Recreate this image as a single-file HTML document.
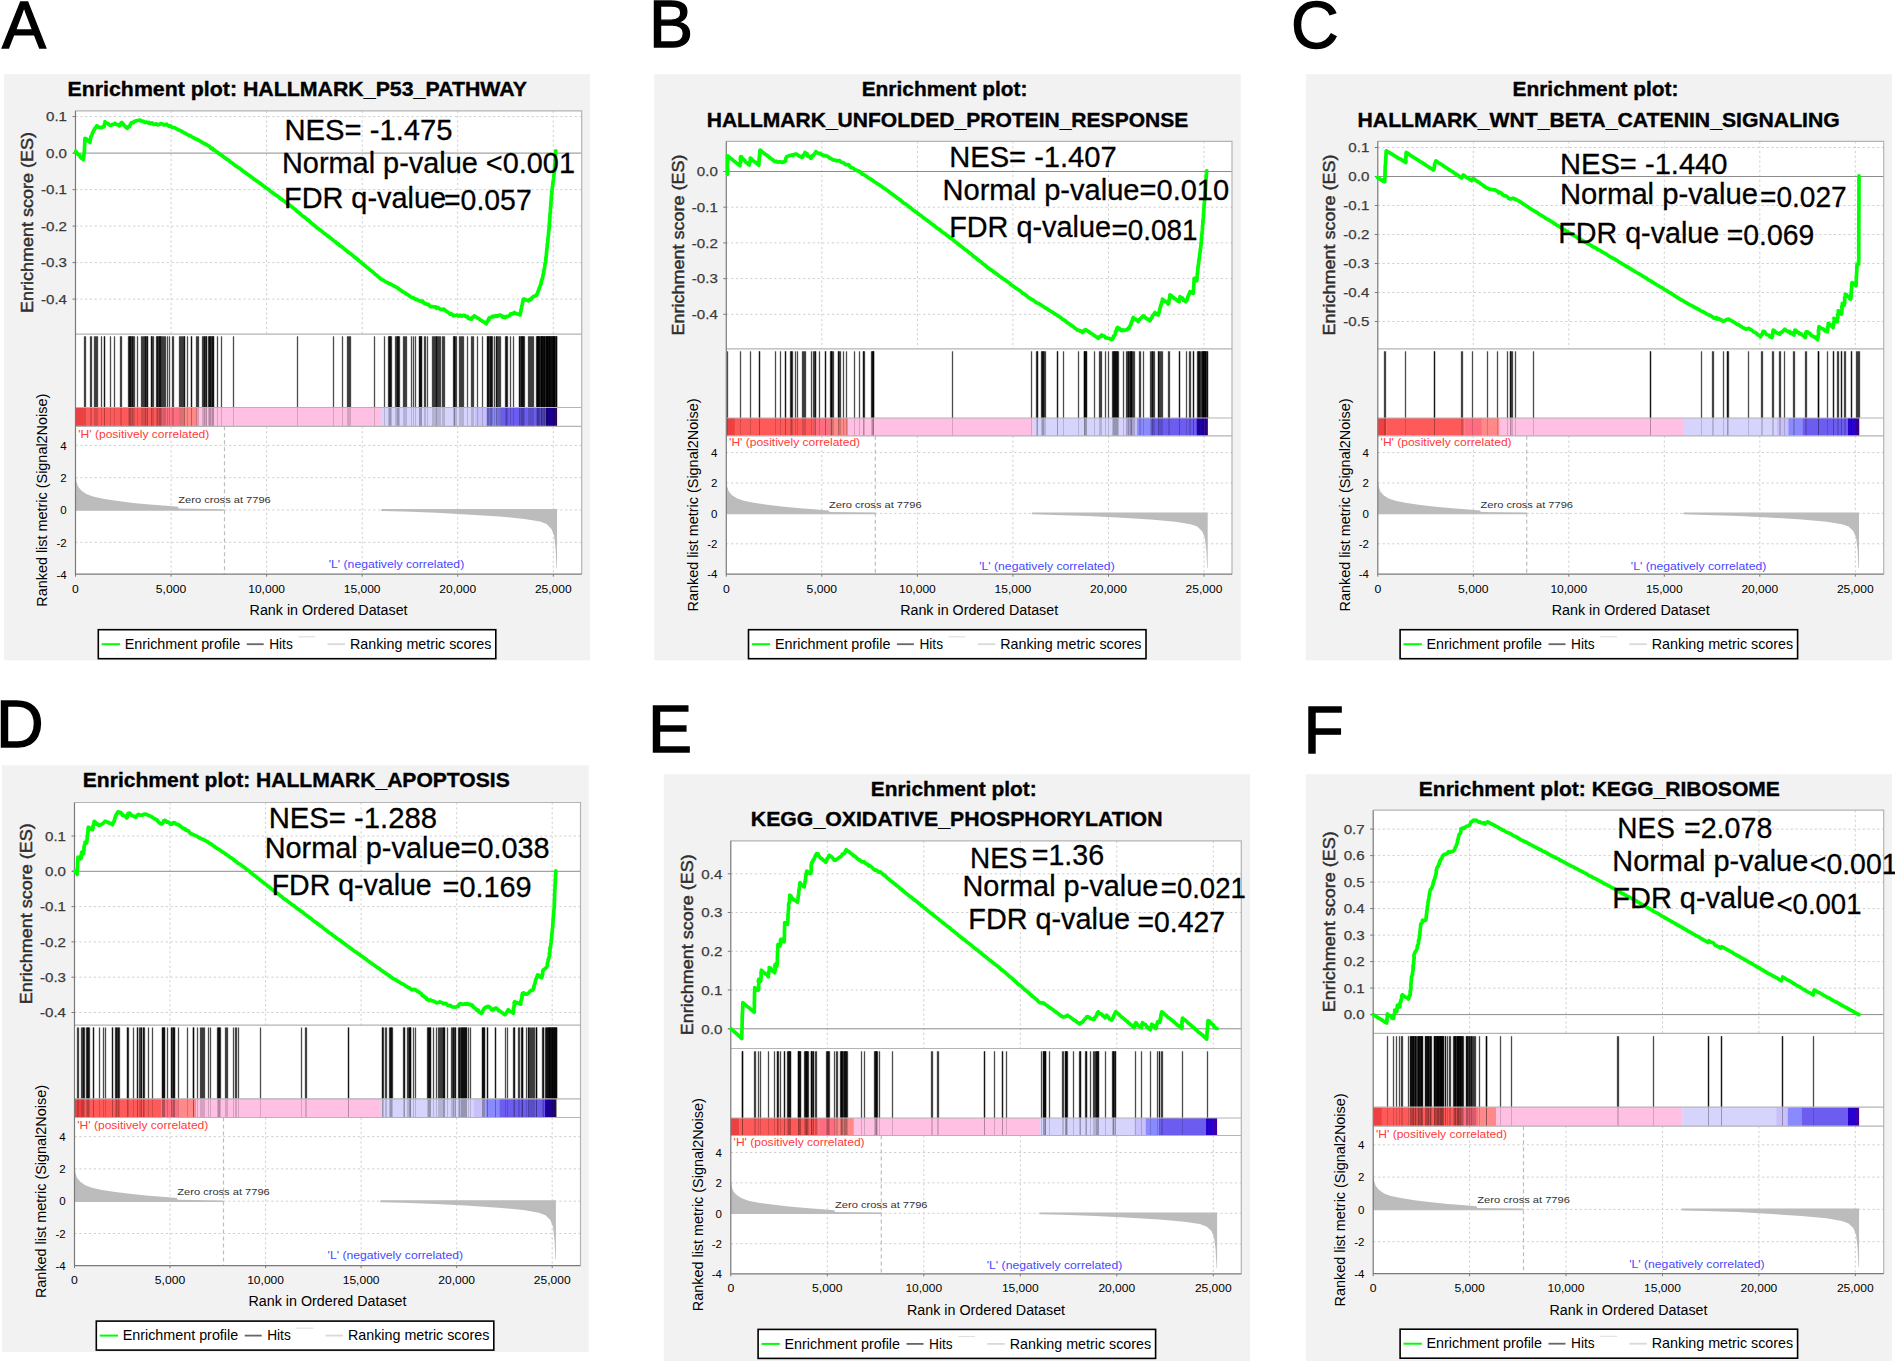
<!DOCTYPE html>
<html><head><meta charset="utf-8"><title>GSEA enrichment plots</title>
<style>html,body{margin:0;padding:0;background:#fff}svg{display:block}text{font-family:"Liberation Sans", Arial, sans-serif}</style></head><body>
<svg width="1895" height="1361" viewBox="0 0 1895 1361">
<rect width="1895" height="1361" fill="#fff"/>
<g>
<rect x="4" y="74" width="586.0" height="586.3" fill="#f2f2f2"/>
<rect x="75.5" y="110.8" width="506.2" height="463.4" fill="#fff"/>
<path d="M171.1 110.8V334.2M171.1 426.3V574.2M266.6 110.8V334.2M266.6 426.3V574.2M362.2 110.8V334.2M362.2 426.3V574.2M457.7 110.8V334.2M457.7 426.3V574.2M553.3 110.8V334.2M553.3 426.3V574.2M75.5 116.6H581.7M75.5 189.6H581.7M75.5 226.1H581.7M75.5 262.6H581.7M75.5 299.1H581.7M75.5 445.4H581.7M75.5 477.7H581.7M75.5 510.0H581.7M75.5 542.3H581.7" stroke="#cfcfcf" stroke-width="1" stroke-dasharray="2.2 2.6" fill="none"/>
<path d="M224.5 426.3V574.2" stroke="#bdbdbd" stroke-width="1.2" stroke-dasharray="4 3" fill="none"/>
<path d="M73.0 153.1H581.7" stroke="#8c8c8c" stroke-width="1" fill="none"/>
<path d="M75.5 510.8L75.5 475.3L76.3 481.3L78.0 486.6L81.3 490.6L86.3 494.0L93.0 496.6L103.0 498.7L116.3 500.8L133.0 502.9L149.7 504.5L166.3 505.8L178.0 506.8L178.7 508.5L224.5 509.2L224.5 510.8Z" fill="#bcbcbc"/>
<path d="M381.3 509.1L381.3 511.0L404.2 511.6L436.7 512.7L466.3 514.4L499.8 516.5L524.6 518.9L539.9 521.5L546.6 524.1L551.4 528.9L554.1 535.5L555.6 548.8L556.5 568.1L557.0 568.1L557.0 509.1Z" fill="#bcbcbc"/>
<rect x="75.5" y="407.5" width="8.7" height="18.8" fill="#ee4040"/>
<rect x="83.9" y="407.5" width="78.5" height="18.8" fill="#ff5a5a"/>
<rect x="162.1" y="407.5" width="17.7" height="18.8" fill="#ff6e80"/>
<rect x="179.5" y="407.5" width="18.1" height="18.8" fill="#ff8888"/>
<rect x="197.2" y="407.5" width="184.9" height="18.8" fill="#ffc0e4"/>
<rect x="381.9" y="407.5" width="93.4" height="18.8" fill="#d6d4fc"/>
<rect x="474.9" y="407.5" width="11.8" height="18.8" fill="#c8c0f8"/>
<rect x="486.4" y="407.5" width="14.3" height="18.8" fill="#8a8aff"/>
<rect x="500.4" y="407.5" width="46.0" height="18.8" fill="#6c5cf0"/>
<rect x="546.0" y="407.5" width="8.1" height="18.8" fill="#2800d0"/>
<rect x="553.9" y="407.5" width="3.2" height="18.8" fill="#4000a8"/>
<g stroke="#000" stroke-opacity="0.7" stroke-width="1.3" fill="none"><path d="M84.5 336.3V407.5"/><path d="M85.5 336.3V407.5"/><path d="M90.5 336.3V407.5"/><path d="M91.5 336.3V407.5"/><path d="M94.5 336.3V407.5"/><path d="M95.5 336.3V407.5"/><path d="M96.5 336.3V407.5"/><path d="M97.5 336.3V407.5"/><path d="M101.5 336.3V407.5"/><path d="M104.5 336.3V407.5"/><path d="M104.5 336.3V407.5"/><path d="M110.5 336.3V407.5"/><path d="M114.5 336.3V407.5"/><path d="M120.5 336.3V407.5"/><path d="M121.5 336.3V407.5"/><path d="M128.5 336.3V407.5"/><path d="M129.5 336.3V407.5"/><path d="M129.5 336.3V407.5"/><path d="M130.5 336.3V407.5"/><path d="M130.5 336.3V407.5"/><path d="M131.5 336.3V407.5"/><path d="M132.5 336.3V407.5"/><path d="M132.5 336.3V407.5"/><path d="M133.5 336.3V407.5"/><path d="M134.5 336.3V407.5"/><path d="M137.5 336.3V407.5"/><path d="M141.5 336.3V407.5"/><path d="M142.5 336.3V407.5"/><path d="M143.5 336.3V407.5"/><path d="M144.5 336.3V407.5"/><path d="M145.5 336.3V407.5"/><path d="M145.5 336.3V407.5"/><path d="M146.5 336.3V407.5"/><path d="M147.5 336.3V407.5"/><path d="M147.5 336.3V407.5"/><path d="M151.5 336.3V407.5"/><path d="M151.5 336.3V407.5"/><path d="M152.5 336.3V407.5"/><path d="M153.5 336.3V407.5"/><path d="M156.5 336.3V407.5"/><path d="M157.5 336.3V407.5"/><path d="M157.5 336.3V407.5"/><path d="M158.5 336.3V407.5"/><path d="M159.5 336.3V407.5"/><path d="M159.5 336.3V407.5"/><path d="M160.5 336.3V407.5"/><path d="M160.5 336.3V407.5"/><path d="M161.5 336.3V407.5"/><path d="M162.5 336.3V407.5"/><path d="M163.5 336.3V407.5"/><path d="M164.5 336.3V407.5"/><path d="M165.5 336.3V407.5"/><path d="M167.5 336.3V407.5"/><path d="M169.5 336.3V407.5"/><path d="M172.5 336.3V407.5"/><path d="M173.5 336.3V407.5"/><path d="M179.5 336.3V407.5"/><path d="M180.5 336.3V407.5"/><path d="M181.5 336.3V407.5"/><path d="M182.5 336.3V407.5"/><path d="M183.5 336.3V407.5"/><path d="M184.5 336.3V407.5"/><path d="M184.5 336.3V407.5"/><path d="M187.5 336.3V407.5"/><path d="M191.5 336.3V407.5"/><path d="M191.5 336.3V407.5"/><path d="M196.5 336.3V407.5"/><path d="M197.5 336.3V407.5"/><path d="M198.5 336.3V407.5"/><path d="M202.5 336.3V407.5"/><path d="M203.5 336.3V407.5"/><path d="M204.5 336.3V407.5"/><path d="M204.5 336.3V407.5"/><path d="M205.5 336.3V407.5"/><path d="M206.5 336.3V407.5"/><path d="M206.5 336.3V407.5"/><path d="M208.5 336.3V407.5"/><path d="M209.5 336.3V407.5"/><path d="M209.5 336.3V407.5"/><path d="M210.5 336.3V407.5"/><path d="M210.5 336.3V407.5"/><path d="M211.5 336.3V407.5"/><path d="M212.5 336.3V407.5"/><path d="M212.5 336.3V407.5"/><path d="M213.5 336.3V407.5"/><path d="M213.5 336.3V407.5"/><path d="M217.5 336.3V407.5"/><path d="M221.5 336.3V407.5"/><path d="M233.5 336.3V407.5"/><path d="M297.5 336.3V407.5"/><path d="M333.5 336.3V407.5"/><path d="M342.5 336.3V407.5"/><path d="M347.5 336.3V407.5"/><path d="M348.5 336.3V407.5"/><path d="M349.5 336.3V407.5"/><path d="M350.5 336.3V407.5"/><path d="M374.5 336.3V407.5"/><path d="M384.5 336.3V407.5"/><path d="M388.5 336.3V407.5"/><path d="M389.5 336.3V407.5"/><path d="M389.5 336.3V407.5"/><path d="M390.5 336.3V407.5"/><path d="M390.5 336.3V407.5"/><path d="M391.5 336.3V407.5"/><path d="M395.5 336.3V407.5"/><path d="M396.5 336.3V407.5"/><path d="M397.5 336.3V407.5"/><path d="M397.5 336.3V407.5"/><path d="M398.5 336.3V407.5"/><path d="M398.5 336.3V407.5"/><path d="M399.5 336.3V407.5"/><path d="M403.5 336.3V407.5"/><path d="M404.5 336.3V407.5"/><path d="M405.5 336.3V407.5"/><path d="M406.5 336.3V407.5"/><path d="M411.5 336.3V407.5"/><path d="M413.5 336.3V407.5"/><path d="M415.5 336.3V407.5"/><path d="M419.5 336.3V407.5"/><path d="M419.5 336.3V407.5"/><path d="M420.5 336.3V407.5"/><path d="M420.5 336.3V407.5"/><path d="M421.5 336.3V407.5"/><path d="M421.5 336.3V407.5"/><path d="M424.5 336.3V407.5"/><path d="M425.5 336.3V407.5"/><path d="M427.5 336.3V407.5"/><path d="M432.5 336.3V407.5"/><path d="M433.5 336.3V407.5"/><path d="M434.5 336.3V407.5"/><path d="M435.5 336.3V407.5"/><path d="M436.5 336.3V407.5"/><path d="M436.5 336.3V407.5"/><path d="M437.5 336.3V407.5"/><path d="M438.5 336.3V407.5"/><path d="M439.5 336.3V407.5"/><path d="M440.5 336.3V407.5"/><path d="M442.5 336.3V407.5"/><path d="M443.5 336.3V407.5"/><path d="M444.5 336.3V407.5"/><path d="M453.5 336.3V407.5"/><path d="M454.5 336.3V407.5"/><path d="M454.5 336.3V407.5"/><path d="M454.5 336.3V407.5"/><path d="M455.5 336.3V407.5"/><path d="M456.5 336.3V407.5"/><path d="M459.5 336.3V407.5"/><path d="M460.5 336.3V407.5"/><path d="M461.5 336.3V407.5"/><path d="M462.5 336.3V407.5"/><path d="M463.5 336.3V407.5"/><path d="M467.5 336.3V407.5"/><path d="M471.5 336.3V407.5"/><path d="M472.5 336.3V407.5"/><path d="M473.5 336.3V407.5"/><path d="M477.5 336.3V407.5"/><path d="M482.5 336.3V407.5"/><path d="M487.5 336.3V407.5"/><path d="M487.5 336.3V407.5"/><path d="M488.5 336.3V407.5"/><path d="M488.5 336.3V407.5"/><path d="M489.5 336.3V407.5"/><path d="M490.5 336.3V407.5"/><path d="M490.5 336.3V407.5"/><path d="M491.5 336.3V407.5"/><path d="M491.5 336.3V407.5"/><path d="M492.5 336.3V407.5"/><path d="M494.5 336.3V407.5"/><path d="M496.5 336.3V407.5"/><path d="M496.5 336.3V407.5"/><path d="M497.5 336.3V407.5"/><path d="M498.5 336.3V407.5"/><path d="M499.5 336.3V407.5"/><path d="M500.5 336.3V407.5"/><path d="M505.5 336.3V407.5"/><path d="M506.5 336.3V407.5"/><path d="M506.5 336.3V407.5"/><path d="M507.5 336.3V407.5"/><path d="M510.5 336.3V407.5"/><path d="M513.5 336.3V407.5"/><path d="M519.5 336.3V407.5"/><path d="M519.5 336.3V407.5"/><path d="M520.5 336.3V407.5"/><path d="M521.5 336.3V407.5"/><path d="M521.5 336.3V407.5"/><path d="M522.5 336.3V407.5"/><path d="M522.5 336.3V407.5"/><path d="M523.5 336.3V407.5"/><path d="M523.5 336.3V407.5"/><path d="M524.5 336.3V407.5"/><path d="M528.5 336.3V407.5"/><path d="M529.5 336.3V407.5"/><path d="M530.5 336.3V407.5"/><path d="M531.5 336.3V407.5"/><path d="M532.5 336.3V407.5"/><path d="M533.5 336.3V407.5"/><path d="M536.5 336.3V407.5"/><path d="M537.5 336.3V407.5"/><path d="M537.5 336.3V407.5"/><path d="M537.5 336.3V407.5"/><path d="M538.5 336.3V407.5"/><path d="M538.5 336.3V407.5"/><path d="M538.5 336.3V407.5"/><path d="M539.5 336.3V407.5"/><path d="M539.5 336.3V407.5"/><path d="M540.5 336.3V407.5"/><path d="M541.5 336.3V407.5"/><path d="M541.5 336.3V407.5"/><path d="M541.5 336.3V407.5"/><path d="M541.5 336.3V407.5"/><path d="M542.5 336.3V407.5"/><path d="M542.5 336.3V407.5"/><path d="M543.5 336.3V407.5"/><path d="M543.5 336.3V407.5"/><path d="M544.5 336.3V407.5"/><path d="M544.5 336.3V407.5"/><path d="M544.5 336.3V407.5"/><path d="M545.5 336.3V407.5"/><path d="M546.5 336.3V407.5"/><path d="M546.5 336.3V407.5"/><path d="M546.5 336.3V407.5"/><path d="M547.5 336.3V407.5"/><path d="M547.5 336.3V407.5"/><path d="M547.5 336.3V407.5"/><path d="M548.5 336.3V407.5"/><path d="M548.5 336.3V407.5"/><path d="M549.5 336.3V407.5"/><path d="M549.5 336.3V407.5"/><path d="M549.5 336.3V407.5"/><path d="M550.5 336.3V407.5"/><path d="M550.5 336.3V407.5"/><path d="M551.5 336.3V407.5"/><path d="M551.5 336.3V407.5"/><path d="M552.5 336.3V407.5"/><path d="M552.5 336.3V407.5"/><path d="M553.5 336.3V407.5"/><path d="M553.5 336.3V407.5"/><path d="M553.5 336.3V407.5"/><path d="M554.5 336.3V407.5"/><path d="M554.5 336.3V407.5"/><path d="M554.5 336.3V407.5"/><path d="M555.5 336.3V407.5"/><path d="M556.5 336.3V407.5"/><path d="M556.5 336.3V407.5"/><path d="M556.5 336.3V407.5"/></g>
<g stroke="#000" stroke-opacity="0.16" stroke-width="1" fill="none" shape-rendering="crispEdges"><path d="M84.5 407.5V426.3"/><path d="M85.5 407.5V426.3"/><path d="M90.5 407.5V426.3"/><path d="M91.5 407.5V426.3"/><path d="M94.5 407.5V426.3"/><path d="M95.5 407.5V426.3"/><path d="M96.5 407.5V426.3"/><path d="M97.5 407.5V426.3"/><path d="M101.5 407.5V426.3"/><path d="M104.5 407.5V426.3"/><path d="M104.5 407.5V426.3"/><path d="M110.5 407.5V426.3"/><path d="M114.5 407.5V426.3"/><path d="M120.5 407.5V426.3"/><path d="M121.5 407.5V426.3"/><path d="M128.5 407.5V426.3"/><path d="M129.5 407.5V426.3"/><path d="M129.5 407.5V426.3"/><path d="M130.5 407.5V426.3"/><path d="M130.5 407.5V426.3"/><path d="M131.5 407.5V426.3"/><path d="M132.5 407.5V426.3"/><path d="M132.5 407.5V426.3"/><path d="M133.5 407.5V426.3"/><path d="M134.5 407.5V426.3"/><path d="M137.5 407.5V426.3"/><path d="M141.5 407.5V426.3"/><path d="M142.5 407.5V426.3"/><path d="M143.5 407.5V426.3"/><path d="M144.5 407.5V426.3"/><path d="M145.5 407.5V426.3"/><path d="M145.5 407.5V426.3"/><path d="M146.5 407.5V426.3"/><path d="M147.5 407.5V426.3"/><path d="M147.5 407.5V426.3"/><path d="M151.5 407.5V426.3"/><path d="M151.5 407.5V426.3"/><path d="M152.5 407.5V426.3"/><path d="M153.5 407.5V426.3"/><path d="M156.5 407.5V426.3"/><path d="M157.5 407.5V426.3"/><path d="M157.5 407.5V426.3"/><path d="M158.5 407.5V426.3"/><path d="M159.5 407.5V426.3"/><path d="M159.5 407.5V426.3"/><path d="M160.5 407.5V426.3"/><path d="M160.5 407.5V426.3"/><path d="M161.5 407.5V426.3"/><path d="M162.5 407.5V426.3"/><path d="M163.5 407.5V426.3"/><path d="M164.5 407.5V426.3"/><path d="M165.5 407.5V426.3"/><path d="M167.5 407.5V426.3"/><path d="M169.5 407.5V426.3"/><path d="M172.5 407.5V426.3"/><path d="M173.5 407.5V426.3"/><path d="M179.5 407.5V426.3"/><path d="M180.5 407.5V426.3"/><path d="M181.5 407.5V426.3"/><path d="M182.5 407.5V426.3"/><path d="M183.5 407.5V426.3"/><path d="M184.5 407.5V426.3"/><path d="M184.5 407.5V426.3"/><path d="M187.5 407.5V426.3"/><path d="M191.5 407.5V426.3"/><path d="M191.5 407.5V426.3"/><path d="M196.5 407.5V426.3"/><path d="M197.5 407.5V426.3"/><path d="M198.5 407.5V426.3"/><path d="M202.5 407.5V426.3"/><path d="M203.5 407.5V426.3"/><path d="M204.5 407.5V426.3"/><path d="M204.5 407.5V426.3"/><path d="M205.5 407.5V426.3"/><path d="M206.5 407.5V426.3"/><path d="M206.5 407.5V426.3"/><path d="M208.5 407.5V426.3"/><path d="M209.5 407.5V426.3"/><path d="M209.5 407.5V426.3"/><path d="M210.5 407.5V426.3"/><path d="M210.5 407.5V426.3"/><path d="M211.5 407.5V426.3"/><path d="M212.5 407.5V426.3"/><path d="M212.5 407.5V426.3"/><path d="M213.5 407.5V426.3"/><path d="M213.5 407.5V426.3"/><path d="M217.5 407.5V426.3"/><path d="M221.5 407.5V426.3"/><path d="M233.5 407.5V426.3"/><path d="M297.5 407.5V426.3"/><path d="M333.5 407.5V426.3"/><path d="M342.5 407.5V426.3"/><path d="M347.5 407.5V426.3"/><path d="M348.5 407.5V426.3"/><path d="M349.5 407.5V426.3"/><path d="M350.5 407.5V426.3"/><path d="M374.5 407.5V426.3"/><path d="M384.5 407.5V426.3"/><path d="M388.5 407.5V426.3"/><path d="M389.5 407.5V426.3"/><path d="M389.5 407.5V426.3"/><path d="M390.5 407.5V426.3"/><path d="M390.5 407.5V426.3"/><path d="M391.5 407.5V426.3"/><path d="M395.5 407.5V426.3"/><path d="M396.5 407.5V426.3"/><path d="M397.5 407.5V426.3"/><path d="M397.5 407.5V426.3"/><path d="M398.5 407.5V426.3"/><path d="M398.5 407.5V426.3"/><path d="M399.5 407.5V426.3"/><path d="M403.5 407.5V426.3"/><path d="M404.5 407.5V426.3"/><path d="M405.5 407.5V426.3"/><path d="M406.5 407.5V426.3"/><path d="M411.5 407.5V426.3"/><path d="M413.5 407.5V426.3"/><path d="M415.5 407.5V426.3"/><path d="M419.5 407.5V426.3"/><path d="M419.5 407.5V426.3"/><path d="M420.5 407.5V426.3"/><path d="M420.5 407.5V426.3"/><path d="M421.5 407.5V426.3"/><path d="M421.5 407.5V426.3"/><path d="M424.5 407.5V426.3"/><path d="M425.5 407.5V426.3"/><path d="M427.5 407.5V426.3"/><path d="M432.5 407.5V426.3"/><path d="M433.5 407.5V426.3"/><path d="M434.5 407.5V426.3"/><path d="M435.5 407.5V426.3"/><path d="M436.5 407.5V426.3"/><path d="M436.5 407.5V426.3"/><path d="M437.5 407.5V426.3"/><path d="M438.5 407.5V426.3"/><path d="M439.5 407.5V426.3"/><path d="M440.5 407.5V426.3"/><path d="M442.5 407.5V426.3"/><path d="M443.5 407.5V426.3"/><path d="M444.5 407.5V426.3"/><path d="M453.5 407.5V426.3"/><path d="M454.5 407.5V426.3"/><path d="M454.5 407.5V426.3"/><path d="M454.5 407.5V426.3"/><path d="M455.5 407.5V426.3"/><path d="M456.5 407.5V426.3"/><path d="M459.5 407.5V426.3"/><path d="M460.5 407.5V426.3"/><path d="M461.5 407.5V426.3"/><path d="M462.5 407.5V426.3"/><path d="M463.5 407.5V426.3"/><path d="M467.5 407.5V426.3"/><path d="M471.5 407.5V426.3"/><path d="M472.5 407.5V426.3"/><path d="M473.5 407.5V426.3"/><path d="M477.5 407.5V426.3"/><path d="M482.5 407.5V426.3"/><path d="M487.5 407.5V426.3"/><path d="M487.5 407.5V426.3"/><path d="M488.5 407.5V426.3"/><path d="M488.5 407.5V426.3"/><path d="M489.5 407.5V426.3"/><path d="M490.5 407.5V426.3"/><path d="M490.5 407.5V426.3"/><path d="M491.5 407.5V426.3"/><path d="M491.5 407.5V426.3"/><path d="M492.5 407.5V426.3"/><path d="M494.5 407.5V426.3"/><path d="M496.5 407.5V426.3"/><path d="M496.5 407.5V426.3"/><path d="M497.5 407.5V426.3"/><path d="M498.5 407.5V426.3"/><path d="M499.5 407.5V426.3"/><path d="M500.5 407.5V426.3"/><path d="M505.5 407.5V426.3"/><path d="M506.5 407.5V426.3"/><path d="M506.5 407.5V426.3"/><path d="M507.5 407.5V426.3"/><path d="M510.5 407.5V426.3"/><path d="M513.5 407.5V426.3"/><path d="M519.5 407.5V426.3"/><path d="M519.5 407.5V426.3"/><path d="M520.5 407.5V426.3"/><path d="M521.5 407.5V426.3"/><path d="M521.5 407.5V426.3"/><path d="M522.5 407.5V426.3"/><path d="M522.5 407.5V426.3"/><path d="M523.5 407.5V426.3"/><path d="M523.5 407.5V426.3"/><path d="M524.5 407.5V426.3"/><path d="M528.5 407.5V426.3"/><path d="M529.5 407.5V426.3"/><path d="M530.5 407.5V426.3"/><path d="M531.5 407.5V426.3"/><path d="M532.5 407.5V426.3"/><path d="M533.5 407.5V426.3"/><path d="M536.5 407.5V426.3"/><path d="M537.5 407.5V426.3"/><path d="M537.5 407.5V426.3"/><path d="M537.5 407.5V426.3"/><path d="M538.5 407.5V426.3"/><path d="M538.5 407.5V426.3"/><path d="M538.5 407.5V426.3"/><path d="M539.5 407.5V426.3"/><path d="M539.5 407.5V426.3"/><path d="M540.5 407.5V426.3"/><path d="M541.5 407.5V426.3"/><path d="M541.5 407.5V426.3"/><path d="M541.5 407.5V426.3"/><path d="M541.5 407.5V426.3"/><path d="M542.5 407.5V426.3"/><path d="M542.5 407.5V426.3"/><path d="M543.5 407.5V426.3"/><path d="M543.5 407.5V426.3"/><path d="M544.5 407.5V426.3"/><path d="M544.5 407.5V426.3"/><path d="M544.5 407.5V426.3"/><path d="M545.5 407.5V426.3"/><path d="M546.5 407.5V426.3"/><path d="M546.5 407.5V426.3"/><path d="M546.5 407.5V426.3"/><path d="M547.5 407.5V426.3"/><path d="M547.5 407.5V426.3"/><path d="M547.5 407.5V426.3"/><path d="M548.5 407.5V426.3"/><path d="M548.5 407.5V426.3"/><path d="M549.5 407.5V426.3"/><path d="M549.5 407.5V426.3"/><path d="M549.5 407.5V426.3"/><path d="M550.5 407.5V426.3"/><path d="M550.5 407.5V426.3"/><path d="M551.5 407.5V426.3"/><path d="M551.5 407.5V426.3"/><path d="M552.5 407.5V426.3"/><path d="M552.5 407.5V426.3"/><path d="M553.5 407.5V426.3"/><path d="M553.5 407.5V426.3"/><path d="M553.5 407.5V426.3"/><path d="M554.5 407.5V426.3"/><path d="M554.5 407.5V426.3"/><path d="M554.5 407.5V426.3"/><path d="M555.5 407.5V426.3"/><path d="M556.5 407.5V426.3"/><path d="M556.5 407.5V426.3"/><path d="M556.5 407.5V426.3"/></g>
<path d="M75.5 110.8H581.7V574.2M75.5 334.2H581.7M75.5 407.5H581.7M75.5 426.3H581.7" stroke="#b4b4b4" stroke-width="1.2" fill="none"/>
<path d="M75.5 110.8V574.2H581.7" stroke="#7a7a7a" stroke-width="1.2" fill="none"/>
<path d="M72.5 116.6H75.5M72.5 153.1H75.5M72.5 189.6H75.5M72.5 226.1H75.5M72.5 262.6H75.5M72.5 299.1H75.5M75.5 574.2v2.5M171.1 574.2v2.5M266.6 574.2v2.5M362.2 574.2v2.5M457.7 574.2v2.5M553.3 574.2v2.5" stroke="#7a7a7a" stroke-width="1" fill="none"/>
<path d="M75.8 151.3L76.9 152.8L77.3 153.7L78.9 154.9L79.8 155.5L80.2 157.0L81.3 158.1L82.7 158.5L83.3 159.7L83.4 158.8L83.9 156.0L83.7 154.3L84.2 153.3L84.4 152.1L84.3 150.7L84.5 149.3L84.5 147.9L84.5 146.3L84.7 145.2L84.7 143.9L84.8 142.6L84.9 140.9L84.9 139.6L85.0 138.3L86.7 139.2L87.6 140.4L88.7 141.3L90.0 142.5L89.9 141.7L90.3 139.5L90.7 138.8L90.8 136.7L91.4 136.1L92.1 134.3L92.7 132.2L93.3 131.7L93.9 130.0L94.3 129.8L95.1 128.1L96.2 127.1L96.7 125.8L98.2 126.7L100.0 127.5L101.4 127.7L102.5 127.1L104.2 126.7L104.3 124.7L105.0 123.4L105.0 121.7L106.3 123.0L107.8 123.4L108.8 124.4L110.0 125.3L111.3 125.1L112.5 124.4L113.7 124.5L115.0 123.3L116.6 124.7L118.2 124.6L119.2 125.8L120.1 125.4L121.1 123.0L121.7 122.5L122.4 123.4L123.3 124.0L124.3 125.7L125.8 127.0L126.3 127.7L127.5 128.3L128.5 126.6L129.5 126.7L129.8 125.6L130.8 123.6L131.7 122.5L133.4 122.6L134.1 121.6L135.7 121.0L136.7 120.6L138.3 120.5L139.9 120.0L141.1 120.9L142.1 121.0L144.0 121.5L144.9 122.5L146.7 122.0L148.3 123.1L149.1 122.4L150.5 123.6L152.0 122.9L153.6 124.5L155.0 124.2L156.7 123.8L157.6 124.9L159.4 124.5L160.5 123.5L162.5 124.1L163.4 124.9L165.3 124.7L166.7 124.2L167.7 125.4L169.0 126.1L170.6 125.9L172.0 127.5L173.3 127.5L174.4 127.5L175.8 128.3L176.7 128.8L177.9 129.5L179.4 130.3L181.0 130.9L182.1 131.4L183.3 132.5L184.5 132.9L185.7 133.5L187.0 134.3L188.1 134.9L189.5 135.4L190.7 136.1L191.8 136.9L193.0 137.4L194.3 138.2L195.4 138.7L196.7 139.2L198.0 139.9L199.1 140.5L200.2 141.1L201.4 142.0L202.7 142.5L203.9 143.4L205.2 144.0L206.3 144.5L207.5 145.3L208.7 146.0L210.0 146.7L210.9 148.3L212.6 148.4L213.1 150.0L214.3 149.8L215.2 150.7L216.6 151.7L217.5 152.5L218.5 153.0L220.0 154.2L221.0 154.9L222.1 155.6L223.2 156.5L224.4 157.4L225.5 158.2L226.6 159.1L227.6 159.7L228.8 160.4L229.8 161.4L230.7 162.2L232.0 162.9L233.1 163.8L234.0 164.5L235.2 165.4L236.3 166.2L237.4 167.0L238.5 167.7L239.5 168.2L240.5 169.1L241.7 170.0L242.7 170.9L243.9 171.6L245.0 172.5L246.0 173.0L247.2 174.1L248.2 174.8L249.3 175.4L250.4 176.3L251.4 177.1L252.6 177.8L253.7 179.0L254.7 179.5L255.8 180.4L257.0 181.2L258.0 181.7L259.0 182.6L260.2 183.4L261.3 184.1L262.3 185.0L263.5 186.0L264.6 186.6L265.6 187.5L266.7 188.3L267.8 188.9L269.0 189.8L270.1 190.9L270.9 191.5L272.2 192.5L273.2 193.0L274.2 194.1L275.3 194.7L276.4 195.5L277.7 196.1L278.7 197.1L279.8 198.0L280.8 198.9L281.9 199.3L282.9 200.3L284.1 201.0L285.1 201.8L286.2 202.8L287.2 203.6L288.5 204.1L289.6 205.2L290.7 205.8L291.7 206.7L292.7 207.5L293.8 208.4L294.7 209.2L295.7 209.8L296.6 211.0L297.7 211.9L298.7 212.4L299.7 213.2L300.7 214.4L301.8 215.2L302.8 216.0L303.8 216.7L304.8 217.3L305.8 218.3L306.8 219.3L307.7 219.8L308.9 220.7L309.8 221.6L310.7 222.6L311.9 223.3L312.8 224.1L313.8 225.0L314.7 225.7L315.8 226.7L316.8 227.7L317.9 228.2L319.0 229.3L319.9 229.8L320.9 230.6L322.0 231.4L323.0 232.2L324.1 233.3L325.2 233.9L326.1 234.8L327.2 235.5L328.1 236.3L329.4 237.0L330.3 238.0L331.4 238.7L332.3 239.5L333.4 240.4L334.6 241.4L335.6 241.8L336.4 242.9L337.7 243.6L338.6 244.2L339.6 245.4L340.7 246.2L341.8 246.7L342.7 247.5L343.8 248.5L344.9 249.4L345.9 250.2L346.9 250.9L347.8 251.8L348.9 252.7L350.0 253.3L351.1 254.1L352.0 254.9L353.1 255.9L354.0 256.5L355.1 257.6L356.1 258.2L357.2 259.0L358.1 260.0L359.3 261.0L360.3 261.7L361.2 262.5L362.4 263.5L363.3 264.1L364.3 265.2L365.3 265.9L366.4 267.0L367.3 267.5L368.4 268.5L369.5 269.2L370.5 270.3L371.5 270.9L372.6 271.8L373.6 272.6L374.5 273.7L375.5 274.6L376.6 275.1L377.5 276.1L378.7 277.2L379.6 277.8L380.6 278.9L381.7 279.5L382.8 279.9L383.9 280.7L385.2 281.5L386.4 282.2L387.6 282.5L388.6 283.4L389.8 283.6L391.0 284.4L392.1 285.0L393.2 285.4L394.3 286.2L395.6 286.7L396.7 287.5L398.0 288.1L399.0 289.2L400.2 289.8L401.2 290.6L402.4 291.5L403.6 292.1L404.9 292.7L405.9 293.8L407.1 294.2L408.1 295.0L409.5 295.9L410.6 296.9L411.7 297.5L413.0 297.7L414.8 298.8L415.7 299.5L417.1 299.3L418.2 300.7L420.0 300.8L421.5 301.6L422.7 301.2L423.3 302.5L425.0 303.9L425.8 303.3L427.0 304.3L428.5 304.4L429.6 305.9L430.8 306.6L431.7 306.7L433.1 306.7L434.1 307.0L435.8 306.9L436.6 308.2L437.9 307.4L439.1 308.5L440.6 309.4L442.3 309.7L443.3 309.2L444.2 309.3L445.2 310.7L446.8 311.3L447.5 312.0L449.0 313.1L450.2 314.2L451.2 313.7L452.5 314.7L453.3 315.8L454.8 315.5L456.3 315.2L457.4 315.2L458.7 316.1L460.5 315.2L461.8 316.2L463.3 315.3L464.5 315.4L465.9 316.7L467.3 316.3L468.1 318.0L469.6 318.8L470.1 318.3L471.7 319.2L472.2 317.6L473.7 317.1L474.2 315.8L475.4 316.5L476.5 317.2L477.4 318.1L478.7 318.5L479.7 319.4L480.7 320.1L481.8 320.7L482.9 321.6L484.1 322.1L485.1 322.9L486.3 323.7L487.2 321.9L487.6 320.7L488.8 320.1L488.9 318.1L490.0 317.5L491.3 317.2L493.0 316.1L494.0 316.7L495.6 315.7L497.0 316.4L498.4 315.5L500.0 315.0L501.1 315.5L502.8 317.1L503.6 316.4L505.0 317.5L506.3 316.4L506.9 316.9L508.4 316.1L509.5 315.6L510.7 313.8L511.5 313.8L513.2 313.8L514.2 312.5L515.3 313.3L517.0 313.8L518.3 314.0L520.0 315.0L520.3 313.9L520.5 312.4L520.9 311.3L521.0 309.6L521.5 308.6L521.6 306.9L522.0 305.7L522.3 304.5L522.5 303.0L522.8 301.7L523.0 300.7L523.3 299.2L524.8 299.1L525.6 299.8L527.1 300.2L528.3 300.8L529.2 299.6L530.9 299.8L531.5 298.4L533.3 296.7L534.6 296.0L535.6 295.9L536.7 295.0L537.4 293.3L537.7 292.4L538.3 291.1L538.9 289.4L539.1 288.3L540.0 286.7L540.4 284.9L541.0 284.4L541.2 282.1L541.6 280.6L541.8 279.8L542.5 278.5L542.6 277.2L543.0 275.7L543.2 274.4L543.5 273.3L543.7 271.7L543.9 270.5L544.2 269.1L544.5 268.1L544.7 266.7L544.8 265.5L545.1 264.2L545.4 262.5L545.6 261.5L545.8 260.0L545.8 258.6L546.1 257.2L546.3 255.9L546.4 254.5L546.5 253.5L546.6 251.9L546.8 250.6L546.8 249.2L546.9 248.2L547.2 246.9L547.2 245.5L547.3 244.0L547.6 242.6L547.8 241.4L547.9 240.2L547.9 238.9L548.1 237.3L548.3 235.9L548.5 234.7L548.5 233.5L548.6 231.9L548.8 230.5L549.0 229.3L549.1 228.2L549.2 226.7L549.3 225.4L549.4 223.8L549.4 222.5L549.6 221.3L549.7 220.2L549.7 218.6L549.9 217.1L549.9 215.9L550.0 214.6L550.1 213.4L550.3 211.9L550.4 210.7L550.4 209.5L550.5 207.8L550.6 206.7L550.9 205.4L550.9 203.9L550.9 202.7L551.1 201.3L551.2 200.0L551.4 198.7L551.3 197.5L551.4 196.0L551.6 194.5L551.7 193.3L551.8 192.1L551.9 190.7L552.3 189.1L552.3 188.0L552.5 186.7L552.8 185.2L552.8 183.9L552.9 182.8L553.3 181.4L553.3 180.1L553.6 178.6L553.8 177.3L553.8 175.8L554.0 174.4L554.2 173.3L554.3 172.1L554.4 170.8L554.5 169.2L554.6 168.0L554.7 166.7L554.7 165.4L555.0 163.9L555.0 162.5L555.0 161.3L555.2 160.3L555.3 158.7L555.4 157.3L555.4 156.3L555.5 154.9L555.6 153.7L555.7 152.3L555.8 150.8" stroke="#00ff00" stroke-width="3.7" fill="none" stroke-linejoin="round" stroke-linecap="round"/>
<text x="46.00" y="121.40" font-size="13.5" fill="#3a3a3a" font-family='"DejaVu Sans", "Liberation Sans", sans-serif' textLength="21.00" lengthAdjust="spacingAndGlyphs" stroke="#3a3a3a" stroke-width="0.25">0.1</text>
<text x="46.00" y="157.90" font-size="13.5" fill="#3a3a3a" font-family='"DejaVu Sans", "Liberation Sans", sans-serif' textLength="21.00" lengthAdjust="spacingAndGlyphs" stroke="#3a3a3a" stroke-width="0.25">0.0</text>
<text x="41.00" y="194.40" font-size="13.5" fill="#3a3a3a" font-family='"DejaVu Sans", "Liberation Sans", sans-serif' textLength="26.00" lengthAdjust="spacingAndGlyphs" stroke="#3a3a3a" stroke-width="0.25">-0.1</text>
<text x="41.00" y="230.90" font-size="13.5" fill="#3a3a3a" font-family='"DejaVu Sans", "Liberation Sans", sans-serif' textLength="26.00" lengthAdjust="spacingAndGlyphs" stroke="#3a3a3a" stroke-width="0.25">-0.2</text>
<text x="41.00" y="267.40" font-size="13.5" fill="#3a3a3a" font-family='"DejaVu Sans", "Liberation Sans", sans-serif' textLength="26.00" lengthAdjust="spacingAndGlyphs" stroke="#3a3a3a" stroke-width="0.25">-0.3</text>
<text x="41.00" y="303.90" font-size="13.5" fill="#3a3a3a" font-family='"DejaVu Sans", "Liberation Sans", sans-serif' textLength="26.00" lengthAdjust="spacingAndGlyphs" stroke="#3a3a3a" stroke-width="0.25">-0.4</text>
<text x="66.70" y="449.60" font-size="11.5" fill="#000" text-anchor="end">4</text>
<text x="66.70" y="481.90" font-size="11.5" fill="#000" text-anchor="end">2</text>
<text x="66.70" y="514.20" font-size="11.5" fill="#000" text-anchor="end">0</text>
<text x="66.70" y="546.50" font-size="11.5" fill="#000" text-anchor="end">-2</text>
<text x="66.70" y="578.80" font-size="11.5" fill="#000" text-anchor="end">-4</text>
<text x="72.10" y="592.50" font-size="11" fill="#000" textLength="6.80" lengthAdjust="spacingAndGlyphs">0</text>
<text x="155.86" y="592.50" font-size="11" fill="#000" textLength="30.40" lengthAdjust="spacingAndGlyphs">5,000</text>
<text x="248.22" y="592.50" font-size="11" fill="#000" textLength="36.80" lengthAdjust="spacingAndGlyphs">10,000</text>
<text x="343.78" y="592.50" font-size="11" fill="#000" textLength="36.80" lengthAdjust="spacingAndGlyphs">15,000</text>
<text x="439.34" y="592.50" font-size="11" fill="#000" textLength="36.80" lengthAdjust="spacingAndGlyphs">20,000</text>
<text x="534.90" y="592.50" font-size="11" fill="#000" textLength="36.80" lengthAdjust="spacingAndGlyphs">25,000</text>
<text x="249.60" y="615.00" font-size="14" fill="#000" textLength="158.00" lengthAdjust="spacingAndGlyphs">Rank in Ordered Dataset</text>
<text x="33.20" y="313.00" font-size="17" fill="#2e2e2e" font-family='"DejaVu Sans", "Liberation Sans", sans-serif' textLength="181.00" lengthAdjust="spacingAndGlyphs" transform="rotate(-90 33.20 313.00)" stroke="#2e2e2e" stroke-width="0.45">Enrichment score (ES)</text>
<text x="47.30" y="606.75" font-size="14.5" fill="#000" textLength="213.00" lengthAdjust="spacingAndGlyphs" transform="rotate(-90 47.30 606.75)">Ranked list metric (Signal2Noise)</text>
<text x="78.30" y="437.60" font-size="10.5" fill="#ff3a3a" font-family='"DejaVu Sans", "Liberation Sans", sans-serif' textLength="131.00" lengthAdjust="spacingAndGlyphs">'H' (positively correlated)</text>
<text x="328.73" y="568.00" font-size="10.5" fill="#4848ff" font-family='"DejaVu Sans", "Liberation Sans", sans-serif' textLength="135.50" lengthAdjust="spacingAndGlyphs">'L' (negatively correlated)</text>
<text x="178.30" y="503.30" font-size="9.8" fill="#333" font-family='"DejaVu Sans", "Liberation Sans", sans-serif' textLength="92.50" lengthAdjust="spacingAndGlyphs">Zero cross at 7796</text>
<rect x="98.3" y="629.7" width="397.5" height="29" fill="#fff" stroke="#000" stroke-width="1.6"/>
<path d="M101.7 644.2h18.3" stroke="#00ff00" stroke-width="2"/>
<path d="M246.7 644.2h17" stroke="#666" stroke-width="1.8"/>
<path d="M327.5 644.2h17.5" stroke="#d9d9d9" stroke-width="1.8"/>
<path d="M298.3 636.8h17" stroke="#e0e0e0" stroke-width="1.2"/>
<text x="124.70" y="648.80" font-size="14.5" fill="#000" textLength="115.50" lengthAdjust="spacingAndGlyphs">Enrichment profile</text>
<text x="269.20" y="648.80" font-size="14.5" fill="#000" textLength="23.60" lengthAdjust="spacingAndGlyphs">Hits</text>
<text x="350.00" y="648.80" font-size="14.5" fill="#000" textLength="141.30" lengthAdjust="spacingAndGlyphs">Ranking metric scores</text>
<text x="67.50" y="96.00" font-size="20" fill="#000" font-weight="bold" textLength="459.50" lengthAdjust="spacingAndGlyphs" stroke="#000" stroke-width="0.35">Enrichment plot: HALLMARK_P53_PATHWAY</text>
<text x="284.50" y="140.00" font-size="28.6" fill="#000" textLength="168.00" lengthAdjust="spacingAndGlyphs" stroke="#000" stroke-width="0.3">NES= -1.475</text>
<text x="282.00" y="173.00" font-size="28.6" fill="#000" textLength="293.00" lengthAdjust="spacingAndGlyphs" stroke="#000" stroke-width="0.3">Normal p-value &lt;0.001</text>
<text x="284.00" y="208.30" font-size="28.6" fill="#000" textLength="162.00" lengthAdjust="spacingAndGlyphs" stroke="#000" stroke-width="0.3">FDR q-value</text>
<text x="444.00" y="210.00" font-size="28.6" fill="#000" textLength="87.70" lengthAdjust="spacingAndGlyphs" stroke="#000" stroke-width="0.3">=0.057</text>
<text x="2.10" y="48.20" font-size="66" fill="#000" stroke="#000" stroke-width="1.3">A</text>
</g>
<g>
<rect x="654.2" y="74.2" width="586.6" height="586.1" fill="#f2f2f2"/>
<rect x="726.3" y="141.3" width="505.7" height="432.9" fill="#fff"/>
<path d="M821.8 141.3V348.8M821.8 435.8V574.2M917.4 141.3V348.8M917.4 435.8V574.2M1012.9 141.3V348.8M1012.9 435.8V574.2M1108.5 141.3V348.8M1108.5 435.8V574.2M1204.0 141.3V348.8M1204.0 435.8V574.2M726.3 207.2H1232M726.3 242.9H1232M726.3 278.6H1232M726.3 314.3H1232M726.3 452.6H1232M726.3 483.0H1232M726.3 513.4H1232M726.3 543.8H1232" stroke="#cfcfcf" stroke-width="1" stroke-dasharray="2.2 2.6" fill="none"/>
<path d="M875.3 435.8V574.2" stroke="#bdbdbd" stroke-width="1.2" stroke-dasharray="4 3" fill="none"/>
<path d="M723.8 171.5H1232" stroke="#8c8c8c" stroke-width="1" fill="none"/>
<path d="M726.3 514.2L726.3 480.7L727.1 486.3L728.8 491.4L732.1 495.2L737.1 498.4L743.8 500.8L753.8 502.8L767.1 504.7L783.8 506.7L800.4 508.2L817.1 509.4L828.8 510.4L829.5 512.0L875.3 512.6L875.3 514.2Z" fill="#bcbcbc"/>
<path d="M1032.0 512.5L1032.0 514.3L1055.0 514.9L1087.4 516.0L1117.1 517.5L1150.5 519.5L1175.3 521.8L1190.6 524.2L1197.3 526.6L1202.1 531.2L1204.8 537.4L1206.3 549.9L1207.2 568.1L1207.7 568.1L1207.7 512.5Z" fill="#bcbcbc"/>
<rect x="726.3" y="418" width="8.7" height="17.8" fill="#ee4040"/>
<rect x="734.7" y="418" width="78.5" height="17.8" fill="#ff5a5a"/>
<rect x="812.9" y="418" width="17.7" height="17.8" fill="#ff6e80"/>
<rect x="830.2" y="418" width="18.1" height="17.8" fill="#ff8888"/>
<rect x="848.0" y="418" width="184.9" height="17.8" fill="#ffc0e4"/>
<rect x="1032.6" y="418" width="93.4" height="17.8" fill="#d6d4fc"/>
<rect x="1125.7" y="418" width="11.8" height="17.8" fill="#c8c0f8"/>
<rect x="1137.1" y="418" width="14.2" height="17.8" fill="#8a8aff"/>
<rect x="1151.1" y="418" width="46.0" height="17.8" fill="#6c5cf0"/>
<rect x="1196.7" y="418" width="8.1" height="17.8" fill="#2800d0"/>
<rect x="1204.6" y="418" width="3.2" height="17.8" fill="#4000a8"/>
<g stroke="#000" stroke-opacity="0.7" stroke-width="1.3" fill="none"><path d="M727.5 351.3V418"/><path d="M740.5 351.3V418"/><path d="M750.5 351.3V418"/><path d="M759.5 351.3V418"/><path d="M759.5 351.3V418"/><path d="M775.5 351.3V418"/><path d="M780.5 351.3V418"/><path d="M785.5 351.3V418"/><path d="M785.5 351.3V418"/><path d="M790.5 351.3V418"/><path d="M791.5 351.3V418"/><path d="M791.5 351.3V418"/><path d="M792.5 351.3V418"/><path d="M795.5 351.3V418"/><path d="M797.5 351.3V418"/><path d="M802.5 351.3V418"/><path d="M803.5 351.3V418"/><path d="M804.5 351.3V418"/><path d="M805.5 351.3V418"/><path d="M811.5 351.3V418"/><path d="M813.5 351.3V418"/><path d="M814.5 351.3V418"/><path d="M815.5 351.3V418"/><path d="M815.5 351.3V418"/><path d="M819.5 351.3V418"/><path d="M825.5 351.3V418"/><path d="M825.5 351.3V418"/><path d="M830.5 351.3V418"/><path d="M831.5 351.3V418"/><path d="M831.5 351.3V418"/><path d="M831.5 351.3V418"/><path d="M832.5 351.3V418"/><path d="M833.5 351.3V418"/><path d="M838.5 351.3V418"/><path d="M838.5 351.3V418"/><path d="M839.5 351.3V418"/><path d="M840.5 351.3V418"/><path d="M843.5 351.3V418"/><path d="M846.5 351.3V418"/><path d="M854.5 351.3V418"/><path d="M859.5 351.3V418"/><path d="M863.5 351.3V418"/><path d="M863.5 351.3V418"/><path d="M864.5 351.3V418"/><path d="M871.5 351.3V418"/><path d="M872.5 351.3V418"/><path d="M872.5 351.3V418"/><path d="M873.5 351.3V418"/><path d="M873.5 351.3V418"/><path d="M873.5 351.3V418"/><path d="M952.5 351.3V418"/><path d="M1031.5 351.3V418"/><path d="M1036.5 351.3V418"/><path d="M1037.5 351.3V418"/><path d="M1037.5 351.3V418"/><path d="M1041.5 351.3V418"/><path d="M1042.5 351.3V418"/><path d="M1042.5 351.3V418"/><path d="M1043.5 351.3V418"/><path d="M1043.5 351.3V418"/><path d="M1044.5 351.3V418"/><path d="M1045.5 351.3V418"/><path d="M1057.5 351.3V418"/><path d="M1057.5 351.3V418"/><path d="M1063.5 351.3V418"/><path d="M1078.5 351.3V418"/><path d="M1084.5 351.3V418"/><path d="M1084.5 351.3V418"/><path d="M1084.5 351.3V418"/><path d="M1085.5 351.3V418"/><path d="M1085.5 351.3V418"/><path d="M1086.5 351.3V418"/><path d="M1086.5 351.3V418"/><path d="M1094.5 351.3V418"/><path d="M1099.5 351.3V418"/><path d="M1100.5 351.3V418"/><path d="M1101.5 351.3V418"/><path d="M1105.5 351.3V418"/><path d="M1108.5 351.3V418"/><path d="M1112.5 351.3V418"/><path d="M1113.5 351.3V418"/><path d="M1113.5 351.3V418"/><path d="M1114.5 351.3V418"/><path d="M1114.5 351.3V418"/><path d="M1115.5 351.3V418"/><path d="M1115.5 351.3V418"/><path d="M1116.5 351.3V418"/><path d="M1116.5 351.3V418"/><path d="M1117.5 351.3V418"/><path d="M1117.5 351.3V418"/><path d="M1118.5 351.3V418"/><path d="M1123.5 351.3V418"/><path d="M1126.5 351.3V418"/><path d="M1127.5 351.3V418"/><path d="M1128.5 351.3V418"/><path d="M1128.5 351.3V418"/><path d="M1129.5 351.3V418"/><path d="M1130.5 351.3V418"/><path d="M1130.5 351.3V418"/><path d="M1131.5 351.3V418"/><path d="M1131.5 351.3V418"/><path d="M1131.5 351.3V418"/><path d="M1132.5 351.3V418"/><path d="M1133.5 351.3V418"/><path d="M1134.5 351.3V418"/><path d="M1139.5 351.3V418"/><path d="M1140.5 351.3V418"/><path d="M1143.5 351.3V418"/><path d="M1150.5 351.3V418"/><path d="M1151.5 351.3V418"/><path d="M1152.5 351.3V418"/><path d="M1152.5 351.3V418"/><path d="M1153.5 351.3V418"/><path d="M1154.5 351.3V418"/><path d="M1158.5 351.3V418"/><path d="M1158.5 351.3V418"/><path d="M1159.5 351.3V418"/><path d="M1160.5 351.3V418"/><path d="M1161.5 351.3V418"/><path d="M1162.5 351.3V418"/><path d="M1168.5 351.3V418"/><path d="M1169.5 351.3V418"/><path d="M1179.5 351.3V418"/><path d="M1179.5 351.3V418"/><path d="M1186.5 351.3V418"/><path d="M1189.5 351.3V418"/><path d="M1190.5 351.3V418"/><path d="M1193.5 351.3V418"/><path d="M1193.5 351.3V418"/><path d="M1197.5 351.3V418"/><path d="M1198.5 351.3V418"/><path d="M1198.5 351.3V418"/><path d="M1199.5 351.3V418"/><path d="M1199.5 351.3V418"/><path d="M1200.5 351.3V418"/><path d="M1201.5 351.3V418"/><path d="M1202.5 351.3V418"/><path d="M1202.5 351.3V418"/><path d="M1203.5 351.3V418"/><path d="M1203.5 351.3V418"/><path d="M1203.5 351.3V418"/><path d="M1204.5 351.3V418"/><path d="M1204.5 351.3V418"/><path d="M1205.5 351.3V418"/><path d="M1205.5 351.3V418"/><path d="M1205.5 351.3V418"/><path d="M1206.5 351.3V418"/><path d="M1207.5 351.3V418"/><path d="M1207.5 351.3V418"/></g>
<g stroke="#000" stroke-opacity="0.16" stroke-width="1" fill="none" shape-rendering="crispEdges"><path d="M727.5 418V435.8"/><path d="M740.5 418V435.8"/><path d="M750.5 418V435.8"/><path d="M759.5 418V435.8"/><path d="M759.5 418V435.8"/><path d="M775.5 418V435.8"/><path d="M780.5 418V435.8"/><path d="M785.5 418V435.8"/><path d="M785.5 418V435.8"/><path d="M790.5 418V435.8"/><path d="M791.5 418V435.8"/><path d="M791.5 418V435.8"/><path d="M792.5 418V435.8"/><path d="M795.5 418V435.8"/><path d="M797.5 418V435.8"/><path d="M802.5 418V435.8"/><path d="M803.5 418V435.8"/><path d="M804.5 418V435.8"/><path d="M805.5 418V435.8"/><path d="M811.5 418V435.8"/><path d="M813.5 418V435.8"/><path d="M814.5 418V435.8"/><path d="M815.5 418V435.8"/><path d="M815.5 418V435.8"/><path d="M819.5 418V435.8"/><path d="M825.5 418V435.8"/><path d="M825.5 418V435.8"/><path d="M830.5 418V435.8"/><path d="M831.5 418V435.8"/><path d="M831.5 418V435.8"/><path d="M831.5 418V435.8"/><path d="M832.5 418V435.8"/><path d="M833.5 418V435.8"/><path d="M838.5 418V435.8"/><path d="M838.5 418V435.8"/><path d="M839.5 418V435.8"/><path d="M840.5 418V435.8"/><path d="M843.5 418V435.8"/><path d="M846.5 418V435.8"/><path d="M854.5 418V435.8"/><path d="M859.5 418V435.8"/><path d="M863.5 418V435.8"/><path d="M863.5 418V435.8"/><path d="M864.5 418V435.8"/><path d="M871.5 418V435.8"/><path d="M872.5 418V435.8"/><path d="M872.5 418V435.8"/><path d="M873.5 418V435.8"/><path d="M873.5 418V435.8"/><path d="M873.5 418V435.8"/><path d="M952.5 418V435.8"/><path d="M1031.5 418V435.8"/><path d="M1036.5 418V435.8"/><path d="M1037.5 418V435.8"/><path d="M1037.5 418V435.8"/><path d="M1041.5 418V435.8"/><path d="M1042.5 418V435.8"/><path d="M1042.5 418V435.8"/><path d="M1043.5 418V435.8"/><path d="M1043.5 418V435.8"/><path d="M1044.5 418V435.8"/><path d="M1045.5 418V435.8"/><path d="M1057.5 418V435.8"/><path d="M1057.5 418V435.8"/><path d="M1063.5 418V435.8"/><path d="M1078.5 418V435.8"/><path d="M1084.5 418V435.8"/><path d="M1084.5 418V435.8"/><path d="M1084.5 418V435.8"/><path d="M1085.5 418V435.8"/><path d="M1085.5 418V435.8"/><path d="M1086.5 418V435.8"/><path d="M1086.5 418V435.8"/><path d="M1094.5 418V435.8"/><path d="M1099.5 418V435.8"/><path d="M1100.5 418V435.8"/><path d="M1101.5 418V435.8"/><path d="M1105.5 418V435.8"/><path d="M1108.5 418V435.8"/><path d="M1112.5 418V435.8"/><path d="M1113.5 418V435.8"/><path d="M1113.5 418V435.8"/><path d="M1114.5 418V435.8"/><path d="M1114.5 418V435.8"/><path d="M1115.5 418V435.8"/><path d="M1115.5 418V435.8"/><path d="M1116.5 418V435.8"/><path d="M1116.5 418V435.8"/><path d="M1117.5 418V435.8"/><path d="M1117.5 418V435.8"/><path d="M1118.5 418V435.8"/><path d="M1123.5 418V435.8"/><path d="M1126.5 418V435.8"/><path d="M1127.5 418V435.8"/><path d="M1128.5 418V435.8"/><path d="M1128.5 418V435.8"/><path d="M1129.5 418V435.8"/><path d="M1130.5 418V435.8"/><path d="M1130.5 418V435.8"/><path d="M1131.5 418V435.8"/><path d="M1131.5 418V435.8"/><path d="M1131.5 418V435.8"/><path d="M1132.5 418V435.8"/><path d="M1133.5 418V435.8"/><path d="M1134.5 418V435.8"/><path d="M1139.5 418V435.8"/><path d="M1140.5 418V435.8"/><path d="M1143.5 418V435.8"/><path d="M1150.5 418V435.8"/><path d="M1151.5 418V435.8"/><path d="M1152.5 418V435.8"/><path d="M1152.5 418V435.8"/><path d="M1153.5 418V435.8"/><path d="M1154.5 418V435.8"/><path d="M1158.5 418V435.8"/><path d="M1158.5 418V435.8"/><path d="M1159.5 418V435.8"/><path d="M1160.5 418V435.8"/><path d="M1161.5 418V435.8"/><path d="M1162.5 418V435.8"/><path d="M1168.5 418V435.8"/><path d="M1169.5 418V435.8"/><path d="M1179.5 418V435.8"/><path d="M1179.5 418V435.8"/><path d="M1186.5 418V435.8"/><path d="M1189.5 418V435.8"/><path d="M1190.5 418V435.8"/><path d="M1193.5 418V435.8"/><path d="M1193.5 418V435.8"/><path d="M1197.5 418V435.8"/><path d="M1198.5 418V435.8"/><path d="M1198.5 418V435.8"/><path d="M1199.5 418V435.8"/><path d="M1199.5 418V435.8"/><path d="M1200.5 418V435.8"/><path d="M1201.5 418V435.8"/><path d="M1202.5 418V435.8"/><path d="M1202.5 418V435.8"/><path d="M1203.5 418V435.8"/><path d="M1203.5 418V435.8"/><path d="M1203.5 418V435.8"/><path d="M1204.5 418V435.8"/><path d="M1204.5 418V435.8"/><path d="M1205.5 418V435.8"/><path d="M1205.5 418V435.8"/><path d="M1205.5 418V435.8"/><path d="M1206.5 418V435.8"/><path d="M1207.5 418V435.8"/><path d="M1207.5 418V435.8"/></g>
<path d="M726.3 141.3H1232V574.2M726.3 348.8H1232M726.3 418H1232M726.3 435.8H1232" stroke="#b4b4b4" stroke-width="1.2" fill="none"/>
<path d="M726.3 141.3V574.2H1232" stroke="#7a7a7a" stroke-width="1.2" fill="none"/>
<path d="M723.3 171.5H726.3M723.3 207.2H726.3M723.3 242.9H726.3M723.3 278.6H726.3M723.3 314.3H726.3M726.3 574.2v2.5M821.8 574.2v2.5M917.4 574.2v2.5M1012.9 574.2v2.5M1108.5 574.2v2.5M1204.0 574.2v2.5" stroke="#7a7a7a" stroke-width="1" fill="none"/>
<path d="M727.5 174.2L727.5 172.8L727.5 171.5L727.6 170.1L727.6 168.7L727.4 167.5L727.6 166.3L727.5 165.2L727.4 163.7L727.5 162.5L727.6 161.1L727.5 159.7L727.4 158.6L727.5 157.2L727.5 155.8L728.5 156.6L729.6 157.5L730.5 158.3L731.8 159.0L732.6 159.9L733.8 161.0L734.7 161.5L735.8 162.4L736.9 163.2L737.9 164.0L739.1 165.1L740.0 165.8L739.8 165.2L739.9 163.0L740.7 162.4L740.6 160.5L740.3 159.5L740.4 157.5L740.8 156.7L741.6 156.9L742.6 159.0L743.8 159.5L744.6 160.3L745.2 161.5L746.3 162.6L747.7 163.0L748.3 164.5L749.2 165.0L749.4 163.2L749.8 162.8L750.1 161.1L750.4 159.7L750.3 158.0L751.5 158.8L752.2 160.0L753.1 160.6L754.7 162.0L755.7 162.2L756.5 163.4L757.7 164.2L758.7 165.3L758.9 164.1L758.9 162.6L759.1 161.1L759.2 159.9L759.2 158.4L759.3 157.1L759.6 155.6L759.6 154.2L759.8 152.9L759.9 151.5L760.0 150.0L761.1 150.8L762.1 151.9L763.2 152.6L764.3 153.5L765.3 154.4L766.4 154.8L767.5 155.8L768.5 156.6L769.6 157.6L770.7 158.3L771.7 159.3L773.0 160.0L773.9 161.0L775.0 161.7L776.3 161.2L777.6 162.1L779.5 161.9L780.7 161.8L781.9 162.5L783.5 161.9L785.0 161.7L785.7 161.0L785.8 158.9L786.3 157.3L786.7 156.7L788.4 156.1L789.8 155.6L790.9 155.2L792.4 154.8L793.4 155.3L795.1 154.1L796.7 154.2L797.8 155.0L799.1 156.1L800.6 156.5L801.7 157.5L802.9 156.8L803.0 155.5L804.5 154.2L805.0 152.5L805.7 154.0L807.0 153.6L807.5 156.1L809.0 156.0L809.5 156.8L810.8 158.3L811.4 157.6L812.3 155.5L813.6 155.5L813.9 154.5L815.1 153.3L815.8 151.7L817.3 152.9L818.8 153.3L820.0 153.3L821.0 154.2L822.5 154.9L823.7 155.8L825.0 155.4L826.0 155.8L827.5 156.3L828.7 157.1L830.0 158.3L831.3 158.7L832.7 159.7L833.6 160.1L835.3 160.1L836.8 161.0L837.9 160.7L839.7 160.6L840.8 161.9L841.6 162.3L843.3 162.5L844.7 163.9L845.7 164.7L847.1 164.7L848.6 164.6L849.7 166.3L850.7 167.4L851.9 167.5L853.3 168.3L854.6 169.5L855.6 169.7L857.0 170.6L858.6 170.9L859.8 171.8L860.8 172.4L862.1 174.2L863.3 174.2L864.4 175.1L865.5 175.6L866.6 176.5L867.8 177.3L868.8 178.1L870.1 178.7L871.0 179.4L872.1 180.1L873.4 181.0L874.5 181.9L875.6 182.5L876.7 183.3L877.8 184.0L878.9 184.6L880.1 185.5L881.2 186.1L882.2 186.8L883.4 187.9L884.5 188.4L885.7 189.4L886.7 190.0L887.8 190.7L888.7 191.5L889.8 192.3L890.9 193.3L891.8 193.9L892.8 194.5L894.1 195.5L895.1 196.2L896.0 197.0L897.1 198.0L898.3 198.6L899.2 199.2L900.3 200.0L901.2 200.7L902.2 201.8L903.3 202.7L904.3 203.4L905.3 203.9L906.5 204.7L907.6 205.5L908.5 206.5L909.6 207.3L910.7 207.8L911.7 208.8L912.7 209.7L913.7 210.5L914.8 210.9L915.7 211.9L916.9 212.5L917.9 213.5L918.9 214.4L920.0 215.0L921.0 215.6L922.1 216.6L923.1 217.4L924.1 218.3L925.2 219.0L926.3 219.7L927.3 220.6L928.4 221.4L929.4 221.9L930.3 223.0L931.5 223.7L932.5 224.4L933.6 225.3L934.6 225.9L935.6 226.9L936.6 227.6L937.7 228.5L938.8 229.0L939.7 229.7L940.8 230.7L941.9 231.6L942.8 232.3L944.0 233.1L945.0 233.7L946.1 234.7L947.1 235.5L948.1 235.9L949.1 237.0L950.1 237.8L951.3 238.3L952.3 239.3L953.3 240.0L954.3 240.7L955.3 241.8L956.5 242.5L957.4 243.5L958.6 244.1L959.6 245.2L960.7 245.9L961.6 246.7L962.6 247.4L963.7 248.4L964.8 249.2L965.8 250.0L966.8 250.6L968.0 251.6L968.9 252.6L970.1 253.2L971.1 254.1L972.1 254.8L973.0 256.1L974.3 256.7L975.2 257.4L976.3 258.3L977.4 259.3L978.4 260.2L979.3 260.7L980.4 261.6L981.4 262.3L982.5 263.5L983.6 264.4L984.7 264.8L985.7 265.8L986.7 266.7L987.7 267.7L988.8 268.3L989.9 269.2L991.0 269.7L992.0 270.4L993.1 271.5L994.0 271.9L995.1 272.8L996.3 273.8L997.3 274.2L998.4 275.3L999.4 276.2L1000.3 276.6L1001.5 277.7L1002.6 278.2L1003.6 279.1L1004.6 279.7L1005.7 280.4L1006.8 281.2L1007.8 282.0L1008.9 282.7L1010.0 283.5L1010.9 284.6L1012.0 285.4L1013.2 286.1L1014.1 286.7L1015.1 287.7L1016.3 288.3L1017.3 289.0L1018.5 289.8L1019.5 290.4L1020.4 291.2L1021.6 292.2L1022.5 293.1L1023.6 293.6L1024.6 294.3L1025.9 295.1L1026.8 296.0L1027.8 296.9L1028.9 297.7L1030.0 298.3L1031.0 299.2L1032.3 299.6L1033.3 300.3L1034.4 301.0L1035.5 302.0L1036.8 302.7L1037.7 303.1L1039.0 303.7L1040.1 304.5L1041.2 305.0L1042.3 305.9L1043.3 306.4L1044.5 307.4L1045.5 308.0L1046.8 308.6L1047.8 309.3L1048.8 310.2L1050.1 310.7L1051.0 311.3L1052.3 312.2L1053.3 312.8L1054.5 313.7L1055.7 314.3L1056.7 315.0L1057.7 315.6L1059.0 316.5L1060.1 317.1L1061.2 318.0L1062.3 319.1L1063.3 319.5L1064.5 320.4L1065.6 321.1L1066.6 322.2L1067.7 322.7L1068.8 323.6L1069.9 324.4L1071.1 325.1L1072.1 326.0L1073.3 326.7L1074.7 328.0L1075.5 328.5L1076.7 329.3L1077.5 330.2L1079.4 330.3L1080.2 331.1L1081.4 331.0L1082.5 332.5L1084.0 331.1L1084.4 330.0L1085.8 329.7L1086.9 330.6L1088.0 331.1L1089.3 331.9L1090.2 332.9L1091.5 333.6L1092.7 334.2L1093.8 335.3L1094.8 335.8L1096.0 336.7L1097.1 337.4L1098.3 338.3L1099.4 336.6L1100.6 336.7L1101.7 335.0L1102.7 335.9L1104.4 336.0L1105.7 338.0L1106.7 338.0L1108.1 338.2L1109.9 338.6L1111.0 339.6L1112.5 339.2L1113.3 337.6L1113.4 336.3L1114.1 336.1L1115.0 334.7L1115.5 333.3L1115.5 331.4L1116.8 330.8L1116.7 328.7L1117.5 327.5L1118.7 328.1L1119.6 328.5L1120.6 330.0L1121.7 330.8L1122.6 329.8L1124.6 330.4L1125.8 329.8L1127.0 329.8L1128.3 328.0L1129.2 328.3L1129.8 326.6L1130.4 325.2L1130.8 324.9L1131.3 322.5L1131.8 321.4L1132.6 319.9L1132.6 319.1L1133.3 317.5L1134.0 318.5L1135.7 319.2L1136.1 320.0L1137.3 320.3L1138.3 321.7L1139.0 319.9L1140.1 319.2L1141.1 317.7L1142.0 317.1L1143.3 315.8L1144.7 316.8L1145.6 317.7L1146.4 318.6L1147.7 319.2L1149.0 319.9L1150.0 320.8L1150.6 319.2L1151.2 318.4L1152.0 317.4L1152.5 315.8L1153.9 314.4L1154.3 313.7L1155.0 312.5L1155.9 314.1L1157.0 314.6L1158.3 315.0L1158.6 313.5L1159.1 312.3L1159.3 311.0L1159.7 309.8L1160.0 308.3L1160.5 307.2L1160.7 305.7L1161.1 304.5L1161.5 303.3L1161.9 301.8L1162.2 300.6L1162.5 299.2L1163.9 300.2L1165.1 301.5L1166.3 301.6L1167.4 302.4L1168.3 304.2L1168.8 303.0L1168.8 302.3L1169.1 300.1L1169.5 299.5L1169.6 297.4L1169.7 296.2L1170.0 295.0L1171.3 295.5L1172.2 296.8L1173.4 297.2L1174.8 298.9L1175.7 299.1L1176.6 299.7L1177.8 301.0L1179.2 301.7L1179.5 299.4L1180.1 298.1L1180.0 296.7L1181.4 298.2L1182.7 298.2L1183.4 300.4L1184.2 300.0L1185.8 301.7L1186.4 300.4L1187.2 299.6L1187.4 298.8L1187.9 296.7L1188.6 295.3L1188.8 294.4L1189.4 293.7L1190.0 291.7L1191.8 292.5L1193.3 293.3L1193.3 291.9L1193.4 290.6L1193.6 289.4L1193.7 287.8L1193.7 286.5L1193.9 285.0L1193.9 283.9L1193.9 282.3L1194.1 281.2L1194.1 279.5L1194.2 278.3L1195.8 279.9L1196.7 280.8L1196.9 279.7L1197.1 278.1L1197.0 276.8L1197.2 275.5L1197.3 274.1L1197.5 272.9L1197.6 271.8L1197.8 270.1L1197.9 269.1L1198.0 267.7L1198.1 266.2L1198.3 265.0L1198.6 263.7L1198.7 262.3L1198.8 261.1L1199.0 259.8L1199.2 258.7L1199.4 257.1L1199.5 255.7L1199.8 254.4L1199.8 253.1L1200.1 252.1L1200.3 250.8L1200.3 249.1L1200.7 247.9L1200.8 246.7L1201.0 245.3L1201.0 243.9L1201.1 242.8L1201.3 241.2L1201.4 239.9L1201.4 238.8L1201.7 237.4L1201.7 235.9L1201.8 234.3L1202.1 233.3L1202.1 232.0L1202.3 230.4L1202.4 229.3L1202.5 228.0L1202.5 226.4L1202.8 224.9L1202.8 223.9L1202.9 222.5L1203.0 220.9L1203.1 219.5L1203.3 218.3L1203.5 216.9L1203.5 215.5L1203.6 214.3L1203.6 212.8L1203.7 211.9L1203.8 210.3L1203.9 209.0L1204.0 207.6L1204.1 206.4L1204.1 205.2L1204.2 203.7L1204.4 202.3L1204.5 201.3L1204.6 199.7L1204.6 198.7L1204.7 197.4L1204.8 196.1L1204.9 194.5L1205.0 193.3L1205.1 191.8L1205.2 190.5L1205.4 189.4L1205.4 187.9L1205.5 186.6L1205.7 185.2L1205.7 184.1L1205.7 182.8L1205.9 181.5L1206.0 180.0L1206.1 178.6L1206.1 177.6L1206.3 176.2L1206.3 174.8L1206.5 173.4L1206.6 171.9L1206.7 170.8" stroke="#00ff00" stroke-width="3.7" fill="none" stroke-linejoin="round" stroke-linecap="round"/>
<text x="696.80" y="176.30" font-size="13.5" fill="#3a3a3a" font-family='"DejaVu Sans", "Liberation Sans", sans-serif' textLength="21.00" lengthAdjust="spacingAndGlyphs" stroke="#3a3a3a" stroke-width="0.25">0.0</text>
<text x="691.80" y="212.00" font-size="13.5" fill="#3a3a3a" font-family='"DejaVu Sans", "Liberation Sans", sans-serif' textLength="26.00" lengthAdjust="spacingAndGlyphs" stroke="#3a3a3a" stroke-width="0.25">-0.1</text>
<text x="691.80" y="247.70" font-size="13.5" fill="#3a3a3a" font-family='"DejaVu Sans", "Liberation Sans", sans-serif' textLength="26.00" lengthAdjust="spacingAndGlyphs" stroke="#3a3a3a" stroke-width="0.25">-0.2</text>
<text x="691.80" y="283.40" font-size="13.5" fill="#3a3a3a" font-family='"DejaVu Sans", "Liberation Sans", sans-serif' textLength="26.00" lengthAdjust="spacingAndGlyphs" stroke="#3a3a3a" stroke-width="0.25">-0.3</text>
<text x="691.80" y="319.10" font-size="13.5" fill="#3a3a3a" font-family='"DejaVu Sans", "Liberation Sans", sans-serif' textLength="26.00" lengthAdjust="spacingAndGlyphs" stroke="#3a3a3a" stroke-width="0.25">-0.4</text>
<text x="717.50" y="456.80" font-size="11.5" fill="#000" text-anchor="end">4</text>
<text x="717.50" y="487.20" font-size="11.5" fill="#000" text-anchor="end">2</text>
<text x="717.50" y="517.60" font-size="11.5" fill="#000" text-anchor="end">0</text>
<text x="717.50" y="548.00" font-size="11.5" fill="#000" text-anchor="end">-2</text>
<text x="717.50" y="578.40" font-size="11.5" fill="#000" text-anchor="end">-4</text>
<text x="722.90" y="592.50" font-size="11" fill="#000" textLength="6.80" lengthAdjust="spacingAndGlyphs">0</text>
<text x="806.64" y="592.50" font-size="11" fill="#000" textLength="30.40" lengthAdjust="spacingAndGlyphs">5,000</text>
<text x="898.98" y="592.50" font-size="11" fill="#000" textLength="36.80" lengthAdjust="spacingAndGlyphs">10,000</text>
<text x="994.52" y="592.50" font-size="11" fill="#000" textLength="36.80" lengthAdjust="spacingAndGlyphs">15,000</text>
<text x="1090.06" y="592.50" font-size="11" fill="#000" textLength="36.80" lengthAdjust="spacingAndGlyphs">20,000</text>
<text x="1185.60" y="592.50" font-size="11" fill="#000" textLength="36.80" lengthAdjust="spacingAndGlyphs">25,000</text>
<text x="900.15" y="615.00" font-size="14" fill="#000" textLength="158.00" lengthAdjust="spacingAndGlyphs">Rank in Ordered Dataset</text>
<text x="684.00" y="335.55" font-size="17" fill="#2e2e2e" font-family='"DejaVu Sans", "Liberation Sans", sans-serif' textLength="181.00" lengthAdjust="spacingAndGlyphs" transform="rotate(-90 684.00 335.55)" stroke="#2e2e2e" stroke-width="0.45">Enrichment score (ES)</text>
<text x="698.10" y="611.50" font-size="14.5" fill="#000" textLength="213.00" lengthAdjust="spacingAndGlyphs" transform="rotate(-90 698.10 611.50)">Ranked list metric (Signal2Noise)</text>
<text x="729.10" y="446.10" font-size="10.5" fill="#ff3a3a" font-family='"DejaVu Sans", "Liberation Sans", sans-serif' textLength="131.00" lengthAdjust="spacingAndGlyphs">'H' (positively correlated)</text>
<text x="979.21" y="569.60" font-size="10.5" fill="#4848ff" font-family='"DejaVu Sans", "Liberation Sans", sans-serif' textLength="135.50" lengthAdjust="spacingAndGlyphs">'L' (negatively correlated)</text>
<text x="829.07" y="507.70" font-size="9.8" fill="#333" font-family='"DejaVu Sans", "Liberation Sans", sans-serif' textLength="92.50" lengthAdjust="spacingAndGlyphs">Zero cross at 7796</text>
<rect x="748.5" y="629.7" width="397.5" height="29" fill="#fff" stroke="#000" stroke-width="1.6"/>
<path d="M751.9 644.2h18.3" stroke="#00ff00" stroke-width="2"/>
<path d="M896.9 644.2h17" stroke="#666" stroke-width="1.8"/>
<path d="M977.7 644.2h17.5" stroke="#d9d9d9" stroke-width="1.8"/>
<path d="M948.5 636.8h17" stroke="#e0e0e0" stroke-width="1.2"/>
<text x="774.90" y="648.80" font-size="14.5" fill="#000" textLength="115.50" lengthAdjust="spacingAndGlyphs">Enrichment profile</text>
<text x="919.40" y="648.80" font-size="14.5" fill="#000" textLength="23.60" lengthAdjust="spacingAndGlyphs">Hits</text>
<text x="1000.20" y="648.80" font-size="14.5" fill="#000" textLength="141.30" lengthAdjust="spacingAndGlyphs">Ranking metric scores</text>
<text x="861.70" y="96.30" font-size="20" fill="#000" font-weight="bold" textLength="165.80" lengthAdjust="spacingAndGlyphs" stroke="#000" stroke-width="0.35">Enrichment plot:</text>
<text x="706.70" y="126.70" font-size="20" fill="#000" font-weight="bold" textLength="481.60" lengthAdjust="spacingAndGlyphs" stroke="#000" stroke-width="0.35">HALLMARK_UNFOLDED_PROTEIN_RESPONSE</text>
<text x="949.20" y="166.70" font-size="28.6" fill="#000" textLength="167.50" lengthAdjust="spacingAndGlyphs" stroke="#000" stroke-width="0.3">NES= -1.407</text>
<text x="942.50" y="200.00" font-size="28.6" fill="#000" textLength="286.70" lengthAdjust="spacingAndGlyphs" stroke="#000" stroke-width="0.3">Normal p-value=0.010</text>
<text x="949.20" y="236.70" font-size="28.6" fill="#000" textLength="161.80" lengthAdjust="spacingAndGlyphs" stroke="#000" stroke-width="0.3">FDR q-value</text>
<text x="1111.50" y="240.00" font-size="28.6" fill="#000" textLength="86.00" lengthAdjust="spacingAndGlyphs" stroke="#000" stroke-width="0.3">=0.081</text>
<text x="648.90" y="47.30" font-size="66" fill="#000" stroke="#000" stroke-width="1.3">B</text>
</g>
<g>
<rect x="1305.8" y="74.2" width="586.2" height="586.1" fill="#f2f2f2"/>
<rect x="1377.8" y="141.3" width="505.9" height="432.9" fill="#fff"/>
<path d="M1473.3 141.3V348.8M1473.3 435.8V574.2M1568.8 141.3V348.8M1568.8 435.8V574.2M1664.3 141.3V348.8M1664.3 435.8V574.2M1759.8 141.3V348.8M1759.8 435.8V574.2M1855.3 141.3V348.8M1855.3 435.8V574.2M1377.8 147.5H1883.7M1377.8 205.5H1883.7M1377.8 234.5H1883.7M1377.8 263.5H1883.7M1377.8 292.5H1883.7M1377.8 321.5H1883.7M1377.8 452.6H1883.7M1377.8 483.0H1883.7M1377.8 513.4H1883.7M1377.8 543.8H1883.7" stroke="#cfcfcf" stroke-width="1" stroke-dasharray="2.2 2.6" fill="none"/>
<path d="M1526.7 435.8V574.2" stroke="#bdbdbd" stroke-width="1.2" stroke-dasharray="4 3" fill="none"/>
<path d="M1375.3 176.5H1883.7" stroke="#8c8c8c" stroke-width="1" fill="none"/>
<path d="M1377.8 514.2L1377.8 480.7L1378.6 486.3L1380.3 491.4L1383.6 495.2L1388.6 498.4L1395.3 500.8L1405.3 502.8L1418.6 504.7L1435.3 506.7L1451.9 508.2L1468.6 509.4L1480.2 510.4L1480.9 512.0L1526.7 512.6L1526.7 514.2Z" fill="#bcbcbc"/>
<path d="M1683.4 512.5L1683.4 514.3L1706.3 514.9L1738.8 516.0L1768.4 517.5L1801.8 519.5L1826.6 521.8L1841.9 524.2L1848.6 526.6L1853.4 531.2L1856.1 537.4L1857.6 549.9L1858.5 568.1L1859.0 568.1L1859.0 512.5Z" fill="#bcbcbc"/>
<rect x="1377.8" y="418" width="8.7" height="17.8" fill="#ee4040"/>
<rect x="1386.2" y="418" width="78.4" height="17.8" fill="#ff5a5a"/>
<rect x="1464.3" y="418" width="17.7" height="17.8" fill="#ff6e80"/>
<rect x="1481.7" y="418" width="18.1" height="17.8" fill="#ff8888"/>
<rect x="1499.5" y="418" width="184.8" height="17.8" fill="#ffc0e4"/>
<rect x="1684.0" y="418" width="93.3" height="17.8" fill="#d6d4fc"/>
<rect x="1777.0" y="418" width="11.8" height="17.8" fill="#c8c0f8"/>
<rect x="1788.4" y="418" width="14.2" height="17.8" fill="#8a8aff"/>
<rect x="1802.4" y="418" width="45.9" height="17.8" fill="#6c5cf0"/>
<rect x="1848.0" y="418" width="8.1" height="17.8" fill="#2800d0"/>
<rect x="1855.9" y="418" width="3.2" height="17.8" fill="#4000a8"/>
<g stroke="#000" stroke-opacity="0.7" stroke-width="1.3" fill="none"><path d="M1384.5 351.3V418"/><path d="M1385.5 351.3V418"/><path d="M1405.5 351.3V418"/><path d="M1434.5 351.3V418"/><path d="M1434.5 351.3V418"/><path d="M1461.5 351.3V418"/><path d="M1462.5 351.3V418"/><path d="M1472.5 351.3V418"/><path d="M1487.5 351.3V418"/><path d="M1497.5 351.3V418"/><path d="M1507.5 351.3V418"/><path d="M1510.5 351.3V418"/><path d="M1510.5 351.3V418"/><path d="M1511.5 351.3V418"/><path d="M1512.5 351.3V418"/><path d="M1515.5 351.3V418"/><path d="M1533.5 351.3V418"/><path d="M1650.5 351.3V418"/><path d="M1650.5 351.3V418"/><path d="M1701.5 351.3V418"/><path d="M1712.5 351.3V418"/><path d="M1713.5 351.3V418"/><path d="M1723.5 351.3V418"/><path d="M1727.5 351.3V418"/><path d="M1727.5 351.3V418"/><path d="M1728.5 351.3V418"/><path d="M1748.5 351.3V418"/><path d="M1761.5 351.3V418"/><path d="M1762.5 351.3V418"/><path d="M1772.5 351.3V418"/><path d="M1773.5 351.3V418"/><path d="M1779.5 351.3V418"/><path d="M1780.5 351.3V418"/><path d="M1784.5 351.3V418"/><path d="M1793.5 351.3V418"/><path d="M1794.5 351.3V418"/><path d="M1805.5 351.3V418"/><path d="M1806.5 351.3V418"/><path d="M1818.5 351.3V418"/><path d="M1818.5 351.3V418"/><path d="M1818.5 351.3V418"/><path d="M1827.5 351.3V418"/><path d="M1833.5 351.3V418"/><path d="M1833.5 351.3V418"/><path d="M1837.5 351.3V418"/><path d="M1838.5 351.3V418"/><path d="M1841.5 351.3V418"/><path d="M1841.5 351.3V418"/><path d="M1844.5 351.3V418"/><path d="M1845.5 351.3V418"/><path d="M1851.5 351.3V418"/><path d="M1851.5 351.3V418"/><path d="M1856.5 351.3V418"/><path d="M1857.5 351.3V418"/><path d="M1858.5 351.3V418"/><path d="M1859.5 351.3V418"/></g>
<g stroke="#000" stroke-opacity="0.16" stroke-width="1" fill="none" shape-rendering="crispEdges"><path d="M1384.5 418V435.8"/><path d="M1385.5 418V435.8"/><path d="M1405.5 418V435.8"/><path d="M1434.5 418V435.8"/><path d="M1434.5 418V435.8"/><path d="M1461.5 418V435.8"/><path d="M1462.5 418V435.8"/><path d="M1472.5 418V435.8"/><path d="M1487.5 418V435.8"/><path d="M1497.5 418V435.8"/><path d="M1507.5 418V435.8"/><path d="M1510.5 418V435.8"/><path d="M1510.5 418V435.8"/><path d="M1511.5 418V435.8"/><path d="M1512.5 418V435.8"/><path d="M1515.5 418V435.8"/><path d="M1533.5 418V435.8"/><path d="M1650.5 418V435.8"/><path d="M1650.5 418V435.8"/><path d="M1701.5 418V435.8"/><path d="M1712.5 418V435.8"/><path d="M1713.5 418V435.8"/><path d="M1723.5 418V435.8"/><path d="M1727.5 418V435.8"/><path d="M1727.5 418V435.8"/><path d="M1728.5 418V435.8"/><path d="M1748.5 418V435.8"/><path d="M1761.5 418V435.8"/><path d="M1762.5 418V435.8"/><path d="M1772.5 418V435.8"/><path d="M1773.5 418V435.8"/><path d="M1779.5 418V435.8"/><path d="M1780.5 418V435.8"/><path d="M1784.5 418V435.8"/><path d="M1793.5 418V435.8"/><path d="M1794.5 418V435.8"/><path d="M1805.5 418V435.8"/><path d="M1806.5 418V435.8"/><path d="M1818.5 418V435.8"/><path d="M1818.5 418V435.8"/><path d="M1818.5 418V435.8"/><path d="M1827.5 418V435.8"/><path d="M1833.5 418V435.8"/><path d="M1833.5 418V435.8"/><path d="M1837.5 418V435.8"/><path d="M1838.5 418V435.8"/><path d="M1841.5 418V435.8"/><path d="M1841.5 418V435.8"/><path d="M1844.5 418V435.8"/><path d="M1845.5 418V435.8"/><path d="M1851.5 418V435.8"/><path d="M1851.5 418V435.8"/><path d="M1856.5 418V435.8"/><path d="M1857.5 418V435.8"/><path d="M1858.5 418V435.8"/><path d="M1859.5 418V435.8"/></g>
<path d="M1377.8 141.3H1883.7V574.2M1377.8 348.8H1883.7M1377.8 418H1883.7M1377.8 435.8H1883.7" stroke="#b4b4b4" stroke-width="1.2" fill="none"/>
<path d="M1377.8 141.3V574.2H1883.7" stroke="#7a7a7a" stroke-width="1.2" fill="none"/>
<path d="M1374.8 147.5H1377.8M1374.8 176.5H1377.8M1374.8 205.5H1377.8M1374.8 234.5H1377.8M1374.8 263.5H1377.8M1374.8 292.5H1377.8M1374.8 321.5H1377.8M1377.8 574.2v2.5M1473.3 574.2v2.5M1568.8 574.2v2.5M1664.3 574.2v2.5M1759.8 574.2v2.5M1855.3 574.2v2.5" stroke="#7a7a7a" stroke-width="1" fill="none"/>
<path d="M1377.5 177.5L1378.5 178.0L1380.2 179.3L1381.4 180.2L1382.0 179.9L1383.1 181.3L1384.7 181.7L1384.8 180.3L1384.8 179.1L1384.9 177.6L1385.0 176.3L1385.0 174.9L1384.9 173.9L1385.1 172.5L1385.0 170.9L1385.1 169.6L1385.2 168.4L1385.1 167.0L1385.3 165.8L1385.4 164.3L1385.6 163.1L1385.6 161.6L1385.6 160.4L1385.7 158.8L1385.9 157.7L1385.9 156.1L1386.1 154.9L1386.0 153.4L1386.1 152.3L1386.3 150.8L1387.4 151.7L1388.6 152.0L1389.8 152.8L1390.9 153.7L1392.0 154.1L1393.3 154.9L1394.4 155.7L1395.5 156.5L1396.7 157.0L1397.7 157.8L1398.9 158.4L1400.2 158.9L1401.3 159.5L1402.4 160.6L1403.5 161.1L1404.8 161.9L1405.8 162.5L1405.9 160.7L1405.6 159.4L1405.9 157.7L1405.9 156.2L1406.3 155.6L1406.0 153.5L1406.3 152.5L1407.4 153.2L1408.6 153.9L1409.6 154.9L1410.7 155.4L1411.9 156.3L1413.1 157.0L1414.1 157.7L1415.3 158.3L1416.5 159.2L1417.5 159.7L1418.6 160.4L1419.7 161.2L1420.9 162.1L1422.0 162.5L1423.1 163.4L1424.3 164.0L1425.3 164.7L1426.7 165.7L1427.6 166.4L1428.9 167.1L1429.8 167.8L1431.0 168.4L1432.2 169.1L1433.3 170.0L1434.0 168.9L1434.1 168.1L1434.5 165.7L1434.5 164.2L1434.7 163.9L1435.7 161.8L1435.8 160.8L1436.9 161.6L1438.1 162.5L1439.1 163.2L1440.4 163.9L1441.4 164.4L1442.6 165.2L1443.7 166.1L1444.8 166.9L1445.9 167.3L1447.1 168.3L1448.3 169.1L1449.4 170.0L1450.4 170.5L1451.5 171.2L1452.7 171.8L1453.9 172.6L1454.9 173.7L1456.0 174.1L1457.2 174.9L1458.4 175.5L1459.5 176.7L1460.6 177.2L1461.7 178.0L1462.3 176.8L1463.3 175.0L1464.5 175.7L1465.6 176.6L1467.0 178.0L1468.4 177.8L1469.1 179.1L1470.6 179.7L1471.7 180.8L1472.5 179.1L1473.7 178.7L1474.7 179.5L1476.0 180.4L1477.0 181.2L1478.1 181.9L1479.2 182.4L1480.2 183.4L1481.2 184.2L1482.5 184.9L1483.5 185.6L1484.5 186.6L1485.5 187.1L1486.7 188.0L1488.3 188.3L1489.2 189.1L1490.9 189.3L1492.3 189.6L1493.9 189.8L1495.0 189.9L1496.7 190.8L1498.2 191.6L1498.7 192.8L1500.0 192.3L1501.4 193.3L1502.5 194.5L1503.4 195.2L1504.5 195.9L1506.1 195.9L1507.1 196.6L1508.3 198.0L1509.8 198.8L1511.3 198.8L1513.0 198.1L1514.7 199.3L1515.8 199.2L1516.8 200.0L1518.0 200.5L1519.2 201.3L1520.3 201.8L1521.4 202.5L1522.3 203.3L1523.4 204.1L1524.5 204.7L1525.7 205.5L1526.9 206.3L1528.0 206.9L1529.1 207.8L1530.0 208.4L1531.2 209.1L1532.3 209.8L1533.3 210.3L1534.6 211.3L1535.6 211.6L1536.7 212.5L1537.8 213.0L1538.9 214.0L1539.9 214.8L1541.2 215.2L1542.2 215.9L1543.4 216.7L1544.4 217.1L1545.5 218.2L1546.6 218.8L1547.8 219.5L1548.9 220.0L1550.1 220.8L1551.2 221.6L1552.3 222.0L1553.3 222.7L1554.5 223.8L1555.6 224.1L1556.6 225.1L1557.8 225.6L1558.9 226.2L1560.1 227.0L1561.2 227.8L1562.1 228.4L1563.3 229.3L1564.5 229.6L1565.5 230.5L1566.7 231.3L1567.8 231.8L1568.8 232.6L1570.0 233.3L1571.1 233.8L1572.3 234.8L1573.3 235.1L1574.6 235.8L1575.7 236.6L1576.8 237.3L1578.0 238.1L1579.3 238.4L1580.3 239.4L1581.6 240.0L1582.7 240.6L1583.7 241.1L1585.0 242.1L1586.2 242.6L1587.2 243.3L1588.4 243.9L1589.6 244.5L1590.7 245.2L1591.7 245.8L1592.9 246.8L1594.1 247.1L1595.2 247.7L1596.4 248.4L1597.5 249.4L1598.7 249.8L1599.9 250.4L1600.9 251.0L1602.1 251.8L1603.3 252.5L1604.5 253.2L1605.7 253.8L1606.8 254.6L1607.8 255.1L1609.1 256.2L1610.2 256.8L1611.3 257.5L1612.4 258.0L1613.8 258.6L1614.8 259.2L1615.9 260.0L1617.2 260.7L1618.3 261.3L1619.4 262.3L1620.6 262.7L1621.8 263.7L1622.9 264.0L1624.1 265.1L1625.1 265.4L1626.3 266.3L1627.6 267.0L1628.7 267.5L1629.8 268.5L1631.0 269.0L1632.1 269.7L1633.1 270.4L1634.3 271.2L1635.5 271.8L1636.7 272.5L1637.8 273.1L1638.9 273.6L1640.1 274.6L1641.3 275.0L1642.3 276.0L1643.4 276.4L1644.4 277.1L1645.7 277.8L1646.8 278.6L1647.9 279.4L1649.0 280.1L1650.1 280.6L1651.3 281.3L1652.4 282.2L1653.5 282.6L1654.6 283.6L1655.7 284.0L1656.8 285.0L1657.8 285.2L1659.0 286.2L1660.2 286.8L1661.4 287.4L1662.4 288.0L1663.4 288.7L1664.5 289.5L1665.7 290.1L1666.9 290.8L1667.9 291.4L1669.1 292.5L1670.1 292.7L1671.4 293.5L1672.5 294.3L1673.6 294.9L1674.7 295.7L1675.7 296.5L1676.8 297.1L1677.9 297.8L1679.1 298.6L1680.1 299.1L1681.3 300.0L1682.6 300.5L1683.5 301.0L1684.6 301.8L1685.8 302.5L1686.9 303.0L1688.2 303.8L1689.2 304.6L1690.3 305.0L1691.5 305.7L1692.8 306.1L1693.9 307.0L1695.0 307.4L1696.2 308.2L1697.2 308.8L1698.5 309.3L1699.6 310.1L1700.7 310.7L1701.9 311.3L1703.2 311.6L1704.3 312.6L1705.3 312.8L1706.5 313.8L1707.6 314.4L1708.8 315.0L1709.9 315.3L1711.2 315.9L1712.3 316.7L1713.4 317.9L1715.0 318.3L1716.4 317.5L1717.1 319.2L1718.7 318.5L1719.8 319.3L1721.0 319.6L1722.3 320.8L1723.3 321.3L1724.8 320.8L1726.0 319.8L1727.4 319.4L1729.0 319.2L1730.1 320.0L1731.3 320.7L1732.6 321.2L1733.7 322.1L1735.1 322.7L1736.1 323.7L1737.4 324.3L1738.5 324.8L1739.7 325.4L1740.8 326.3L1742.1 327.1L1743.3 327.6L1744.5 328.6L1745.7 329.2L1747.4 328.8L1749.0 328.3L1750.1 329.3L1751.2 329.9L1752.2 330.5L1753.2 331.6L1754.3 332.1L1755.4 332.7L1756.6 333.4L1757.5 334.6L1758.5 335.2L1759.6 335.8L1760.7 336.7L1761.1 334.7L1762.2 334.5L1762.9 331.9L1763.2 331.3L1764.5 331.8L1765.5 332.9L1766.4 334.4L1767.2 334.8L1769.0 335.2L1769.9 336.8L1770.7 336.9L1772.0 337.5L1772.4 335.8L1772.7 334.3L1772.7 333.2L1773.1 331.2L1773.2 330.0L1774.4 330.8L1775.2 331.6L1776.3 332.8L1777.6 333.2L1778.7 333.5L1779.8 334.2L1780.6 332.6L1782.1 332.2L1782.8 331.2L1784.1 329.8L1784.8 329.2L1785.7 330.4L1787.1 330.9L1788.5 332.0L1789.7 331.4L1790.5 333.4L1792.0 332.9L1792.6 333.9L1794.0 335.0L1793.9 333.1L1794.8 331.7L1794.8 330.0L1795.9 330.2L1797.0 332.5L1798.5 332.4L1799.4 333.8L1800.8 333.6L1801.9 334.8L1803.0 335.4L1804.0 336.4L1805.3 337.5L1805.5 335.3L1805.7 334.7L1805.8 332.6L1806.5 331.7L1807.8 332.1L1808.6 332.9L1810.1 333.4L1811.1 335.5L1811.9 335.6L1813.5 336.7L1814.2 336.6L1815.4 337.9L1816.8 338.6L1817.7 339.7L1817.8 338.6L1818.2 336.9L1818.0 335.9L1818.6 334.0L1818.7 333.5L1818.4 332.2L1818.5 329.9L1818.9 329.1L1818.9 328.0L1819.0 326.7L1820.5 327.8L1821.0 328.3L1822.5 328.8L1824.0 329.4L1824.9 330.9L1826.1 331.0L1827.3 331.7L1827.5 330.8L1827.7 329.3L1827.7 326.8L1828.0 326.2L1828.3 325.1L1828.2 323.3L1828.9 323.7L1829.9 325.5L1830.9 325.2L1832.4 326.8L1833.2 327.5L1833.0 326.5L1833.6 324.8L1833.2 323.9L1833.6 322.4L1834.2 321.4L1834.2 319.0L1834.0 318.3L1835.0 319.5L1835.8 321.4L1837.3 321.7L1837.2 320.0L1837.4 318.6L1837.9 317.7L1837.8 316.1L1837.5 314.6L1838.3 314.0L1838.4 311.8L1838.2 310.8L1839.1 311.2L1840.4 312.9L1841.5 314.2L1841.6 312.8L1841.8 311.3L1842.0 309.6L1842.2 308.8L1841.6 307.1L1842.1 305.9L1842.3 304.4L1842.3 303.3L1843.1 304.6L1844.3 305.0L1844.3 304.0L1844.8 302.4L1844.6 301.7L1844.8 300.2L1844.6 298.1L1845.2 296.2L1845.5 294.9L1845.3 294.2L1846.5 294.7L1847.8 296.3L1848.8 297.2L1849.8 298.5L1850.7 299.2L1850.8 297.7L1851.0 296.3L1851.1 294.9L1851.0 293.5L1851.3 292.4L1851.3 290.9L1851.4 289.6L1851.6 287.9L1851.6 286.8L1851.7 285.4L1851.8 283.8L1852.0 282.5L1853.4 283.3L1854.7 284.1L1856.0 285.8L1856.2 284.4L1856.2 282.9L1856.3 282.0L1856.2 280.2L1856.3 279.1L1856.3 277.7L1856.3 276.3L1856.6 275.0L1856.6 273.5L1856.7 272.1L1856.8 271.2L1856.8 269.6L1856.8 268.2L1856.9 266.9L1857.0 265.4L1857.0 264.2L1858.7 264.2L1858.7 263.1L1858.7 261.6L1858.6 260.1L1858.7 259.2L1858.8 257.6L1858.8 256.2L1858.8 255.3L1858.7 254.0L1858.8 252.3L1858.7 251.2L1858.7 250.0L1858.7 248.7L1858.7 247.1L1858.8 245.8L1858.8 244.8L1858.8 243.4L1858.7 242.1L1858.7 240.9L1858.7 239.5L1858.8 238.1L1858.8 236.8L1858.7 235.8L1858.8 234.5L1858.9 233.0L1858.7 231.5L1858.9 230.2L1858.8 229.1L1858.7 227.8L1858.8 226.5L1858.8 225.1L1858.8 223.9L1858.8 222.4L1858.8 221.5L1858.9 220.2L1858.7 218.9L1858.9 217.5L1858.9 216.2L1858.8 214.9L1858.8 213.4L1858.8 212.2L1858.9 210.8L1859.0 209.4L1858.9 208.2L1858.9 207.1L1858.9 205.5L1858.8 204.4L1859.0 202.9L1858.9 201.9L1859.0 200.4L1859.0 199.2L1859.0 197.7L1859.0 196.6L1858.9 195.1L1858.9 194.1L1859.0 192.5L1858.9 191.2L1858.9 190.0L1858.9 189.0L1859.1 187.6L1859.0 186.2L1859.0 185.1L1859.0 183.7L1858.9 182.4L1859.1 181.1L1858.9 179.8L1859.0 178.3L1859.1 177.2L1859.0 175.8" stroke="#00ff00" stroke-width="3.7" fill="none" stroke-linejoin="round" stroke-linecap="round"/>
<text x="1348.30" y="152.30" font-size="13.5" fill="#3a3a3a" font-family='"DejaVu Sans", "Liberation Sans", sans-serif' textLength="21.00" lengthAdjust="spacingAndGlyphs" stroke="#3a3a3a" stroke-width="0.25">0.1</text>
<text x="1348.30" y="181.30" font-size="13.5" fill="#3a3a3a" font-family='"DejaVu Sans", "Liberation Sans", sans-serif' textLength="21.00" lengthAdjust="spacingAndGlyphs" stroke="#3a3a3a" stroke-width="0.25">0.0</text>
<text x="1343.30" y="210.30" font-size="13.5" fill="#3a3a3a" font-family='"DejaVu Sans", "Liberation Sans", sans-serif' textLength="26.00" lengthAdjust="spacingAndGlyphs" stroke="#3a3a3a" stroke-width="0.25">-0.1</text>
<text x="1343.30" y="239.30" font-size="13.5" fill="#3a3a3a" font-family='"DejaVu Sans", "Liberation Sans", sans-serif' textLength="26.00" lengthAdjust="spacingAndGlyphs" stroke="#3a3a3a" stroke-width="0.25">-0.2</text>
<text x="1343.30" y="268.30" font-size="13.5" fill="#3a3a3a" font-family='"DejaVu Sans", "Liberation Sans", sans-serif' textLength="26.00" lengthAdjust="spacingAndGlyphs" stroke="#3a3a3a" stroke-width="0.25">-0.3</text>
<text x="1343.30" y="297.30" font-size="13.5" fill="#3a3a3a" font-family='"DejaVu Sans", "Liberation Sans", sans-serif' textLength="26.00" lengthAdjust="spacingAndGlyphs" stroke="#3a3a3a" stroke-width="0.25">-0.4</text>
<text x="1343.30" y="326.30" font-size="13.5" fill="#3a3a3a" font-family='"DejaVu Sans", "Liberation Sans", sans-serif' textLength="26.00" lengthAdjust="spacingAndGlyphs" stroke="#3a3a3a" stroke-width="0.25">-0.5</text>
<text x="1369.00" y="456.80" font-size="11.5" fill="#000" text-anchor="end">4</text>
<text x="1369.00" y="487.20" font-size="11.5" fill="#000" text-anchor="end">2</text>
<text x="1369.00" y="517.60" font-size="11.5" fill="#000" text-anchor="end">0</text>
<text x="1369.00" y="548.00" font-size="11.5" fill="#000" text-anchor="end">-2</text>
<text x="1369.00" y="578.40" font-size="11.5" fill="#000" text-anchor="end">-4</text>
<text x="1374.40" y="592.50" font-size="11" fill="#000" textLength="6.80" lengthAdjust="spacingAndGlyphs">0</text>
<text x="1458.10" y="592.50" font-size="11" fill="#000" textLength="30.40" lengthAdjust="spacingAndGlyphs">5,000</text>
<text x="1550.40" y="592.50" font-size="11" fill="#000" textLength="36.80" lengthAdjust="spacingAndGlyphs">10,000</text>
<text x="1645.90" y="592.50" font-size="11" fill="#000" textLength="36.80" lengthAdjust="spacingAndGlyphs">15,000</text>
<text x="1741.40" y="592.50" font-size="11" fill="#000" textLength="36.80" lengthAdjust="spacingAndGlyphs">20,000</text>
<text x="1836.90" y="592.50" font-size="11" fill="#000" textLength="36.80" lengthAdjust="spacingAndGlyphs">25,000</text>
<text x="1551.75" y="615.00" font-size="14" fill="#000" textLength="158.00" lengthAdjust="spacingAndGlyphs">Rank in Ordered Dataset</text>
<text x="1335.50" y="335.55" font-size="17" fill="#2e2e2e" font-family='"DejaVu Sans", "Liberation Sans", sans-serif' textLength="181.00" lengthAdjust="spacingAndGlyphs" transform="rotate(-90 1335.50 335.55)" stroke="#2e2e2e" stroke-width="0.45">Enrichment score (ES)</text>
<text x="1349.60" y="611.50" font-size="14.5" fill="#000" textLength="213.00" lengthAdjust="spacingAndGlyphs" transform="rotate(-90 1349.60 611.50)">Ranked list metric (Signal2Noise)</text>
<text x="1380.60" y="446.10" font-size="10.5" fill="#ff3a3a" font-family='"DejaVu Sans", "Liberation Sans", sans-serif' textLength="131.00" lengthAdjust="spacingAndGlyphs">'H' (positively correlated)</text>
<text x="1630.84" y="569.60" font-size="10.5" fill="#4848ff" font-family='"DejaVu Sans", "Liberation Sans", sans-serif' textLength="135.50" lengthAdjust="spacingAndGlyphs">'L' (negatively correlated)</text>
<text x="1480.50" y="507.70" font-size="9.8" fill="#333" font-family='"DejaVu Sans", "Liberation Sans", sans-serif' textLength="92.50" lengthAdjust="spacingAndGlyphs">Zero cross at 7796</text>
<rect x="1400.1" y="629.7" width="397.5" height="29" fill="#fff" stroke="#000" stroke-width="1.6"/>
<path d="M1403.5 644.2h18.3" stroke="#00ff00" stroke-width="2"/>
<path d="M1548.5 644.2h17" stroke="#666" stroke-width="1.8"/>
<path d="M1629.3 644.2h17.5" stroke="#d9d9d9" stroke-width="1.8"/>
<path d="M1600.1 636.8h17" stroke="#e0e0e0" stroke-width="1.2"/>
<text x="1426.50" y="648.80" font-size="14.5" fill="#000" textLength="115.50" lengthAdjust="spacingAndGlyphs">Enrichment profile</text>
<text x="1571.00" y="648.80" font-size="14.5" fill="#000" textLength="23.60" lengthAdjust="spacingAndGlyphs">Hits</text>
<text x="1651.80" y="648.80" font-size="14.5" fill="#000" textLength="141.30" lengthAdjust="spacingAndGlyphs">Ranking metric scores</text>
<text x="1512.50" y="96.30" font-size="20" fill="#000" font-weight="bold" textLength="166.00" lengthAdjust="spacingAndGlyphs" stroke="#000" stroke-width="0.35">Enrichment plot:</text>
<text x="1357.50" y="126.70" font-size="20" fill="#000" font-weight="bold" textLength="482.30" lengthAdjust="spacingAndGlyphs" stroke="#000" stroke-width="0.35">HALLMARK_WNT_BETA_CATENIN_SIGNALING</text>
<text x="1560.00" y="174.20" font-size="28.6" fill="#000" textLength="167.50" lengthAdjust="spacingAndGlyphs" stroke="#000" stroke-width="0.3">NES= -1.440</text>
<text x="1560.00" y="204.40" font-size="28.6" fill="#000" textLength="198.00" lengthAdjust="spacingAndGlyphs" stroke="#000" stroke-width="0.3">Normal p-value</text>
<text x="1760.00" y="206.70" font-size="28.6" fill="#000" textLength="86.70" lengthAdjust="spacingAndGlyphs" stroke="#000" stroke-width="0.3">=0.027</text>
<text x="1558.30" y="242.50" font-size="28.6" fill="#000" textLength="160.90" lengthAdjust="spacingAndGlyphs" stroke="#000" stroke-width="0.3">FDR q-value</text>
<text x="1726.70" y="245.00" font-size="28.6" fill="#000" textLength="87.50" lengthAdjust="spacingAndGlyphs" stroke="#000" stroke-width="0.3">=0.069</text>
<text x="1290.90" y="47.90" font-size="66" fill="#000" stroke="#000" stroke-width="1.3">C</text>
</g>
<g>
<rect x="2" y="765.3" width="586.7" height="586.7" fill="#f2f2f2"/>
<rect x="74.5" y="802.5" width="506.0" height="463.1" fill="#fff"/>
<path d="M170.0 802.5V1025.2M170.0 1117.5V1265.6M265.6 802.5V1025.2M265.6 1117.5V1265.6M361.1 802.5V1025.2M361.1 1117.5V1265.6M456.7 802.5V1025.2M456.7 1117.5V1265.6M552.2 802.5V1025.2M552.2 1117.5V1265.6M74.5 836.0H580.5M74.5 906.6H580.5M74.5 941.9H580.5M74.5 977.2H580.5M74.5 1012.5H580.5M74.5 1136.6H580.5M74.5 1168.9H580.5M74.5 1201.2H580.5M74.5 1233.5H580.5" stroke="#cfcfcf" stroke-width="1" stroke-dasharray="2.2 2.6" fill="none"/>
<path d="M223.5 1117.5V1265.6" stroke="#bdbdbd" stroke-width="1.2" stroke-dasharray="4 3" fill="none"/>
<path d="M72.0 871.3H580.5" stroke="#8c8c8c" stroke-width="1" fill="none"/>
<path d="M74.5 1202.0L74.5 1166.5L75.3 1172.5L77.0 1177.8L80.3 1181.8L85.3 1185.2L92.0 1187.8L102.0 1189.9L115.3 1192.0L132.0 1194.1L148.6 1195.7L165.3 1197.0L177.0 1198.0L177.7 1199.7L223.5 1200.4L223.5 1202.0Z" fill="#bcbcbc"/>
<path d="M380.2 1200.3L380.2 1202.2L403.2 1202.8L435.6 1203.9L465.3 1205.6L498.7 1207.7L523.5 1210.1L538.8 1212.7L545.5 1215.3L550.3 1220.1L553.0 1226.7L554.5 1240.0L555.4 1259.3L555.9 1259.3L555.9 1200.3Z" fill="#bcbcbc"/>
<rect x="74.5" y="1098.8" width="8.7" height="18.7" fill="#ee4040"/>
<rect x="82.9" y="1098.8" width="78.5" height="18.7" fill="#ff5a5a"/>
<rect x="161.1" y="1098.8" width="17.7" height="18.7" fill="#ff6e80"/>
<rect x="178.4" y="1098.8" width="18.1" height="18.7" fill="#ff8888"/>
<rect x="196.2" y="1098.8" width="184.9" height="18.7" fill="#ffc0e4"/>
<rect x="380.8" y="1098.8" width="93.4" height="18.7" fill="#d6d4fc"/>
<rect x="473.9" y="1098.8" width="11.8" height="18.7" fill="#c8c0f8"/>
<rect x="485.3" y="1098.8" width="14.2" height="18.7" fill="#8a8aff"/>
<rect x="499.3" y="1098.8" width="46.0" height="18.7" fill="#6c5cf0"/>
<rect x="544.9" y="1098.8" width="8.1" height="18.7" fill="#2800d0"/>
<rect x="552.8" y="1098.8" width="3.2" height="18.7" fill="#4000a8"/>
<g stroke="#000" stroke-opacity="0.7" stroke-width="1.3" fill="none"><path d="M77.5 1027.5V1098.8"/><path d="M78.5 1027.5V1098.8"/><path d="M81.5 1027.5V1098.8"/><path d="M82.5 1027.5V1098.8"/><path d="M83.5 1027.5V1098.8"/><path d="M84.5 1027.5V1098.8"/><path d="M83.5 1027.5V1098.8"/><path d="M86.5 1027.5V1098.8"/><path d="M87.5 1027.5V1098.8"/><path d="M87.5 1027.5V1098.8"/><path d="M88.5 1027.5V1098.8"/><path d="M88.5 1027.5V1098.8"/><path d="M89.5 1027.5V1098.8"/><path d="M93.5 1027.5V1098.8"/><path d="M93.5 1027.5V1098.8"/><path d="M99.5 1027.5V1098.8"/><path d="M103.5 1027.5V1098.8"/><path d="M105.5 1027.5V1098.8"/><path d="M112.5 1027.5V1098.8"/><path d="M112.5 1027.5V1098.8"/><path d="M115.5 1027.5V1098.8"/><path d="M116.5 1027.5V1098.8"/><path d="M116.5 1027.5V1098.8"/><path d="M117.5 1027.5V1098.8"/><path d="M118.5 1027.5V1098.8"/><path d="M118.5 1027.5V1098.8"/><path d="M119.5 1027.5V1098.8"/><path d="M127.5 1027.5V1098.8"/><path d="M127.5 1027.5V1098.8"/><path d="M128.5 1027.5V1098.8"/><path d="M133.5 1027.5V1098.8"/><path d="M137.5 1027.5V1098.8"/><path d="M137.5 1027.5V1098.8"/><path d="M139.5 1027.5V1098.8"/><path d="M140.5 1027.5V1098.8"/><path d="M141.5 1027.5V1098.8"/><path d="M141.5 1027.5V1098.8"/><path d="M143.5 1027.5V1098.8"/><path d="M143.5 1027.5V1098.8"/><path d="M144.5 1027.5V1098.8"/><path d="M148.5 1027.5V1098.8"/><path d="M152.5 1027.5V1098.8"/><path d="M162.5 1027.5V1098.8"/><path d="M162.5 1027.5V1098.8"/><path d="M163.5 1027.5V1098.8"/><path d="M163.5 1027.5V1098.8"/><path d="M164.5 1027.5V1098.8"/><path d="M164.5 1027.5V1098.8"/><path d="M167.5 1027.5V1098.8"/><path d="M171.5 1027.5V1098.8"/><path d="M171.5 1027.5V1098.8"/><path d="M172.5 1027.5V1098.8"/><path d="M173.5 1027.5V1098.8"/><path d="M173.5 1027.5V1098.8"/><path d="M174.5 1027.5V1098.8"/><path d="M174.5 1027.5V1098.8"/><path d="M178.5 1027.5V1098.8"/><path d="M187.5 1027.5V1098.8"/><path d="M193.5 1027.5V1098.8"/><path d="M193.5 1027.5V1098.8"/><path d="M193.5 1027.5V1098.8"/><path d="M197.5 1027.5V1098.8"/><path d="M200.5 1027.5V1098.8"/><path d="M201.5 1027.5V1098.8"/><path d="M202.5 1027.5V1098.8"/><path d="M203.5 1027.5V1098.8"/><path d="M204.5 1027.5V1098.8"/><path d="M208.5 1027.5V1098.8"/><path d="M210.5 1027.5V1098.8"/><path d="M217.5 1027.5V1098.8"/><path d="M218.5 1027.5V1098.8"/><path d="M218.5 1027.5V1098.8"/><path d="M219.5 1027.5V1098.8"/><path d="M219.5 1027.5V1098.8"/><path d="M220.5 1027.5V1098.8"/><path d="M225.5 1027.5V1098.8"/><path d="M226.5 1027.5V1098.8"/><path d="M227.5 1027.5V1098.8"/><path d="M233.5 1027.5V1098.8"/><path d="M235.5 1027.5V1098.8"/><path d="M236.5 1027.5V1098.8"/><path d="M238.5 1027.5V1098.8"/><path d="M260.5 1027.5V1098.8"/><path d="M301.5 1027.5V1098.8"/><path d="M305.5 1027.5V1098.8"/><path d="M306.5 1027.5V1098.8"/><path d="M348.5 1027.5V1098.8"/><path d="M348.5 1027.5V1098.8"/><path d="M382.5 1027.5V1098.8"/><path d="M382.5 1027.5V1098.8"/><path d="M383.5 1027.5V1098.8"/><path d="M385.5 1027.5V1098.8"/><path d="M386.5 1027.5V1098.8"/><path d="M389.5 1027.5V1098.8"/><path d="M390.5 1027.5V1098.8"/><path d="M390.5 1027.5V1098.8"/><path d="M391.5 1027.5V1098.8"/><path d="M391.5 1027.5V1098.8"/><path d="M392.5 1027.5V1098.8"/><path d="M403.5 1027.5V1098.8"/><path d="M404.5 1027.5V1098.8"/><path d="M404.5 1027.5V1098.8"/><path d="M407.5 1027.5V1098.8"/><path d="M408.5 1027.5V1098.8"/><path d="M409.5 1027.5V1098.8"/><path d="M409.5 1027.5V1098.8"/><path d="M410.5 1027.5V1098.8"/><path d="M410.5 1027.5V1098.8"/><path d="M410.5 1027.5V1098.8"/><path d="M413.5 1027.5V1098.8"/><path d="M415.5 1027.5V1098.8"/><path d="M427.5 1027.5V1098.8"/><path d="M428.5 1027.5V1098.8"/><path d="M428.5 1027.5V1098.8"/><path d="M429.5 1027.5V1098.8"/><path d="M429.5 1027.5V1098.8"/><path d="M430.5 1027.5V1098.8"/><path d="M430.5 1027.5V1098.8"/><path d="M433.5 1027.5V1098.8"/><path d="M436.5 1027.5V1098.8"/><path d="M438.5 1027.5V1098.8"/><path d="M439.5 1027.5V1098.8"/><path d="M440.5 1027.5V1098.8"/><path d="M441.5 1027.5V1098.8"/><path d="M442.5 1027.5V1098.8"/><path d="M443.5 1027.5V1098.8"/><path d="M443.5 1027.5V1098.8"/><path d="M444.5 1027.5V1098.8"/><path d="M444.5 1027.5V1098.8"/><path d="M447.5 1027.5V1098.8"/><path d="M451.5 1027.5V1098.8"/><path d="M452.5 1027.5V1098.8"/><path d="M453.5 1027.5V1098.8"/><path d="M453.5 1027.5V1098.8"/><path d="M454.5 1027.5V1098.8"/><path d="M455.5 1027.5V1098.8"/><path d="M455.5 1027.5V1098.8"/><path d="M458.5 1027.5V1098.8"/><path d="M459.5 1027.5V1098.8"/><path d="M459.5 1027.5V1098.8"/><path d="M460.5 1027.5V1098.8"/><path d="M461.5 1027.5V1098.8"/><path d="M461.5 1027.5V1098.8"/><path d="M462.5 1027.5V1098.8"/><path d="M462.5 1027.5V1098.8"/><path d="M463.5 1027.5V1098.8"/><path d="M463.5 1027.5V1098.8"/><path d="M464.5 1027.5V1098.8"/><path d="M464.5 1027.5V1098.8"/><path d="M465.5 1027.5V1098.8"/><path d="M465.5 1027.5V1098.8"/><path d="M466.5 1027.5V1098.8"/><path d="M466.5 1027.5V1098.8"/><path d="M468.5 1027.5V1098.8"/><path d="M470.5 1027.5V1098.8"/><path d="M482.5 1027.5V1098.8"/><path d="M482.5 1027.5V1098.8"/><path d="M483.5 1027.5V1098.8"/><path d="M483.5 1027.5V1098.8"/><path d="M484.5 1027.5V1098.8"/><path d="M484.5 1027.5V1098.8"/><path d="M487.5 1027.5V1098.8"/><path d="M487.5 1027.5V1098.8"/><path d="M495.5 1027.5V1098.8"/><path d="M495.5 1027.5V1098.8"/><path d="M505.5 1027.5V1098.8"/><path d="M507.5 1027.5V1098.8"/><path d="M513.5 1027.5V1098.8"/><path d="M514.5 1027.5V1098.8"/><path d="M514.5 1027.5V1098.8"/><path d="M518.5 1027.5V1098.8"/><path d="M519.5 1027.5V1098.8"/><path d="M521.5 1027.5V1098.8"/><path d="M522.5 1027.5V1098.8"/><path d="M522.5 1027.5V1098.8"/><path d="M522.5 1027.5V1098.8"/><path d="M526.5 1027.5V1098.8"/><path d="M528.5 1027.5V1098.8"/><path d="M528.5 1027.5V1098.8"/><path d="M529.5 1027.5V1098.8"/><path d="M530.5 1027.5V1098.8"/><path d="M531.5 1027.5V1098.8"/><path d="M532.5 1027.5V1098.8"/><path d="M533.5 1027.5V1098.8"/><path d="M534.5 1027.5V1098.8"/><path d="M536.5 1027.5V1098.8"/><path d="M536.5 1027.5V1098.8"/><path d="M536.5 1027.5V1098.8"/><path d="M542.5 1027.5V1098.8"/><path d="M543.5 1027.5V1098.8"/><path d="M543.5 1027.5V1098.8"/><path d="M545.5 1027.5V1098.8"/><path d="M546.5 1027.5V1098.8"/><path d="M546.5 1027.5V1098.8"/><path d="M547.5 1027.5V1098.8"/><path d="M547.5 1027.5V1098.8"/><path d="M548.5 1027.5V1098.8"/><path d="M548.5 1027.5V1098.8"/><path d="M549.5 1027.5V1098.8"/><path d="M549.5 1027.5V1098.8"/><path d="M549.5 1027.5V1098.8"/><path d="M550.5 1027.5V1098.8"/><path d="M550.5 1027.5V1098.8"/><path d="M551.5 1027.5V1098.8"/><path d="M551.5 1027.5V1098.8"/><path d="M552.5 1027.5V1098.8"/><path d="M552.5 1027.5V1098.8"/><path d="M552.5 1027.5V1098.8"/><path d="M553.5 1027.5V1098.8"/><path d="M553.5 1027.5V1098.8"/><path d="M554.5 1027.5V1098.8"/><path d="M554.5 1027.5V1098.8"/><path d="M554.5 1027.5V1098.8"/><path d="M555.5 1027.5V1098.8"/><path d="M555.5 1027.5V1098.8"/><path d="M556.5 1027.5V1098.8"/><path d="M556.5 1027.5V1098.8"/><path d="M556.5 1027.5V1098.8"/></g>
<g stroke="#000" stroke-opacity="0.16" stroke-width="1" fill="none" shape-rendering="crispEdges"><path d="M77.5 1098.8V1117.5"/><path d="M78.5 1098.8V1117.5"/><path d="M81.5 1098.8V1117.5"/><path d="M82.5 1098.8V1117.5"/><path d="M83.5 1098.8V1117.5"/><path d="M84.5 1098.8V1117.5"/><path d="M83.5 1098.8V1117.5"/><path d="M86.5 1098.8V1117.5"/><path d="M87.5 1098.8V1117.5"/><path d="M87.5 1098.8V1117.5"/><path d="M88.5 1098.8V1117.5"/><path d="M88.5 1098.8V1117.5"/><path d="M89.5 1098.8V1117.5"/><path d="M93.5 1098.8V1117.5"/><path d="M93.5 1098.8V1117.5"/><path d="M99.5 1098.8V1117.5"/><path d="M103.5 1098.8V1117.5"/><path d="M105.5 1098.8V1117.5"/><path d="M112.5 1098.8V1117.5"/><path d="M112.5 1098.8V1117.5"/><path d="M115.5 1098.8V1117.5"/><path d="M116.5 1098.8V1117.5"/><path d="M116.5 1098.8V1117.5"/><path d="M117.5 1098.8V1117.5"/><path d="M118.5 1098.8V1117.5"/><path d="M118.5 1098.8V1117.5"/><path d="M119.5 1098.8V1117.5"/><path d="M127.5 1098.8V1117.5"/><path d="M127.5 1098.8V1117.5"/><path d="M128.5 1098.8V1117.5"/><path d="M133.5 1098.8V1117.5"/><path d="M137.5 1098.8V1117.5"/><path d="M137.5 1098.8V1117.5"/><path d="M139.5 1098.8V1117.5"/><path d="M140.5 1098.8V1117.5"/><path d="M141.5 1098.8V1117.5"/><path d="M141.5 1098.8V1117.5"/><path d="M143.5 1098.8V1117.5"/><path d="M143.5 1098.8V1117.5"/><path d="M144.5 1098.8V1117.5"/><path d="M148.5 1098.8V1117.5"/><path d="M152.5 1098.8V1117.5"/><path d="M162.5 1098.8V1117.5"/><path d="M162.5 1098.8V1117.5"/><path d="M163.5 1098.8V1117.5"/><path d="M163.5 1098.8V1117.5"/><path d="M164.5 1098.8V1117.5"/><path d="M164.5 1098.8V1117.5"/><path d="M167.5 1098.8V1117.5"/><path d="M171.5 1098.8V1117.5"/><path d="M171.5 1098.8V1117.5"/><path d="M172.5 1098.8V1117.5"/><path d="M173.5 1098.8V1117.5"/><path d="M173.5 1098.8V1117.5"/><path d="M174.5 1098.8V1117.5"/><path d="M174.5 1098.8V1117.5"/><path d="M178.5 1098.8V1117.5"/><path d="M187.5 1098.8V1117.5"/><path d="M193.5 1098.8V1117.5"/><path d="M193.5 1098.8V1117.5"/><path d="M193.5 1098.8V1117.5"/><path d="M197.5 1098.8V1117.5"/><path d="M200.5 1098.8V1117.5"/><path d="M201.5 1098.8V1117.5"/><path d="M202.5 1098.8V1117.5"/><path d="M203.5 1098.8V1117.5"/><path d="M204.5 1098.8V1117.5"/><path d="M208.5 1098.8V1117.5"/><path d="M210.5 1098.8V1117.5"/><path d="M217.5 1098.8V1117.5"/><path d="M218.5 1098.8V1117.5"/><path d="M218.5 1098.8V1117.5"/><path d="M219.5 1098.8V1117.5"/><path d="M219.5 1098.8V1117.5"/><path d="M220.5 1098.8V1117.5"/><path d="M225.5 1098.8V1117.5"/><path d="M226.5 1098.8V1117.5"/><path d="M227.5 1098.8V1117.5"/><path d="M233.5 1098.8V1117.5"/><path d="M235.5 1098.8V1117.5"/><path d="M236.5 1098.8V1117.5"/><path d="M238.5 1098.8V1117.5"/><path d="M260.5 1098.8V1117.5"/><path d="M301.5 1098.8V1117.5"/><path d="M305.5 1098.8V1117.5"/><path d="M306.5 1098.8V1117.5"/><path d="M348.5 1098.8V1117.5"/><path d="M348.5 1098.8V1117.5"/><path d="M382.5 1098.8V1117.5"/><path d="M382.5 1098.8V1117.5"/><path d="M383.5 1098.8V1117.5"/><path d="M385.5 1098.8V1117.5"/><path d="M386.5 1098.8V1117.5"/><path d="M389.5 1098.8V1117.5"/><path d="M390.5 1098.8V1117.5"/><path d="M390.5 1098.8V1117.5"/><path d="M391.5 1098.8V1117.5"/><path d="M391.5 1098.8V1117.5"/><path d="M392.5 1098.8V1117.5"/><path d="M403.5 1098.8V1117.5"/><path d="M404.5 1098.8V1117.5"/><path d="M404.5 1098.8V1117.5"/><path d="M407.5 1098.8V1117.5"/><path d="M408.5 1098.8V1117.5"/><path d="M409.5 1098.8V1117.5"/><path d="M409.5 1098.8V1117.5"/><path d="M410.5 1098.8V1117.5"/><path d="M410.5 1098.8V1117.5"/><path d="M410.5 1098.8V1117.5"/><path d="M413.5 1098.8V1117.5"/><path d="M415.5 1098.8V1117.5"/><path d="M427.5 1098.8V1117.5"/><path d="M428.5 1098.8V1117.5"/><path d="M428.5 1098.8V1117.5"/><path d="M429.5 1098.8V1117.5"/><path d="M429.5 1098.8V1117.5"/><path d="M430.5 1098.8V1117.5"/><path d="M430.5 1098.8V1117.5"/><path d="M433.5 1098.8V1117.5"/><path d="M436.5 1098.8V1117.5"/><path d="M438.5 1098.8V1117.5"/><path d="M439.5 1098.8V1117.5"/><path d="M440.5 1098.8V1117.5"/><path d="M441.5 1098.8V1117.5"/><path d="M442.5 1098.8V1117.5"/><path d="M443.5 1098.8V1117.5"/><path d="M443.5 1098.8V1117.5"/><path d="M444.5 1098.8V1117.5"/><path d="M444.5 1098.8V1117.5"/><path d="M447.5 1098.8V1117.5"/><path d="M451.5 1098.8V1117.5"/><path d="M452.5 1098.8V1117.5"/><path d="M453.5 1098.8V1117.5"/><path d="M453.5 1098.8V1117.5"/><path d="M454.5 1098.8V1117.5"/><path d="M455.5 1098.8V1117.5"/><path d="M455.5 1098.8V1117.5"/><path d="M458.5 1098.8V1117.5"/><path d="M459.5 1098.8V1117.5"/><path d="M459.5 1098.8V1117.5"/><path d="M460.5 1098.8V1117.5"/><path d="M461.5 1098.8V1117.5"/><path d="M461.5 1098.8V1117.5"/><path d="M462.5 1098.8V1117.5"/><path d="M462.5 1098.8V1117.5"/><path d="M463.5 1098.8V1117.5"/><path d="M463.5 1098.8V1117.5"/><path d="M464.5 1098.8V1117.5"/><path d="M464.5 1098.8V1117.5"/><path d="M465.5 1098.8V1117.5"/><path d="M465.5 1098.8V1117.5"/><path d="M466.5 1098.8V1117.5"/><path d="M466.5 1098.8V1117.5"/><path d="M468.5 1098.8V1117.5"/><path d="M470.5 1098.8V1117.5"/><path d="M482.5 1098.8V1117.5"/><path d="M482.5 1098.8V1117.5"/><path d="M483.5 1098.8V1117.5"/><path d="M483.5 1098.8V1117.5"/><path d="M484.5 1098.8V1117.5"/><path d="M484.5 1098.8V1117.5"/><path d="M487.5 1098.8V1117.5"/><path d="M487.5 1098.8V1117.5"/><path d="M495.5 1098.8V1117.5"/><path d="M495.5 1098.8V1117.5"/><path d="M505.5 1098.8V1117.5"/><path d="M507.5 1098.8V1117.5"/><path d="M513.5 1098.8V1117.5"/><path d="M514.5 1098.8V1117.5"/><path d="M514.5 1098.8V1117.5"/><path d="M518.5 1098.8V1117.5"/><path d="M519.5 1098.8V1117.5"/><path d="M521.5 1098.8V1117.5"/><path d="M522.5 1098.8V1117.5"/><path d="M522.5 1098.8V1117.5"/><path d="M522.5 1098.8V1117.5"/><path d="M526.5 1098.8V1117.5"/><path d="M528.5 1098.8V1117.5"/><path d="M528.5 1098.8V1117.5"/><path d="M529.5 1098.8V1117.5"/><path d="M530.5 1098.8V1117.5"/><path d="M531.5 1098.8V1117.5"/><path d="M532.5 1098.8V1117.5"/><path d="M533.5 1098.8V1117.5"/><path d="M534.5 1098.8V1117.5"/><path d="M536.5 1098.8V1117.5"/><path d="M536.5 1098.8V1117.5"/><path d="M536.5 1098.8V1117.5"/><path d="M542.5 1098.8V1117.5"/><path d="M543.5 1098.8V1117.5"/><path d="M543.5 1098.8V1117.5"/><path d="M545.5 1098.8V1117.5"/><path d="M546.5 1098.8V1117.5"/><path d="M546.5 1098.8V1117.5"/><path d="M547.5 1098.8V1117.5"/><path d="M547.5 1098.8V1117.5"/><path d="M548.5 1098.8V1117.5"/><path d="M548.5 1098.8V1117.5"/><path d="M549.5 1098.8V1117.5"/><path d="M549.5 1098.8V1117.5"/><path d="M549.5 1098.8V1117.5"/><path d="M550.5 1098.8V1117.5"/><path d="M550.5 1098.8V1117.5"/><path d="M551.5 1098.8V1117.5"/><path d="M551.5 1098.8V1117.5"/><path d="M552.5 1098.8V1117.5"/><path d="M552.5 1098.8V1117.5"/><path d="M552.5 1098.8V1117.5"/><path d="M553.5 1098.8V1117.5"/><path d="M553.5 1098.8V1117.5"/><path d="M554.5 1098.8V1117.5"/><path d="M554.5 1098.8V1117.5"/><path d="M554.5 1098.8V1117.5"/><path d="M555.5 1098.8V1117.5"/><path d="M555.5 1098.8V1117.5"/><path d="M556.5 1098.8V1117.5"/><path d="M556.5 1098.8V1117.5"/><path d="M556.5 1098.8V1117.5"/></g>
<path d="M74.5 802.5H580.5V1265.6M74.5 1025.2H580.5M74.5 1098.8H580.5M74.5 1117.5H580.5" stroke="#b4b4b4" stroke-width="1.2" fill="none"/>
<path d="M74.5 802.5V1265.6H580.5" stroke="#7a7a7a" stroke-width="1.2" fill="none"/>
<path d="M71.5 836.0H74.5M71.5 871.3H74.5M71.5 906.6H74.5M71.5 941.9H74.5M71.5 977.2H74.5M71.5 1012.5H74.5M74.5 1265.6v2.5M170.0 1265.6v2.5M265.6 1265.6v2.5M361.1 1265.6v2.5M456.7 1265.6v2.5M552.2 1265.6v2.5" stroke="#7a7a7a" stroke-width="1" fill="none"/>
<path d="M75.0 871.3L76.0 872.2L77.2 874.3L77.3 873.2L77.2 871.8L77.3 870.3L77.3 868.9L77.5 867.9L77.7 866.3L77.6 865.3L77.6 863.7L77.7 862.3L77.8 861.1L77.9 860.0L77.9 858.4L78.0 857.2L79.7 857.9L80.8 858.8L81.3 857.7L81.4 855.9L81.1 855.3L81.5 853.6L81.7 852.2L83.3 853.8L83.6 852.9L83.5 851.0L84.2 850.0L83.9 848.9L84.0 847.8L84.1 846.6L84.7 844.5L85.2 843.1L85.0 842.2L86.7 843.0L86.8 841.5L87.0 840.5L87.1 839.0L87.3 837.6L87.3 836.5L87.6 835.2L87.7 833.9L87.7 832.7L88.0 831.1L88.0 830.0L88.1 828.4L88.3 827.2L90.0 828.1L91.1 829.1L92.5 829.7L93.1 827.7L92.9 826.2L93.3 825.5L93.9 824.4L94.0 822.5L94.2 821.3L95.3 822.0L96.5 823.9L97.5 823.9L98.3 825.5L99.7 825.2L100.8 824.7L102.4 823.8L103.6 822.9L104.9 821.4L105.8 821.3L107.3 822.3L108.6 822.3L109.5 823.5L111.4 823.7L112.5 824.7L112.8 822.9L113.2 822.3L114.4 821.2L114.4 819.7L115.0 818.0L115.3 817.3L116.2 814.7L117.1 813.6L117.5 812.2L118.3 811.7L119.3 812.6L120.6 812.5L121.7 813.4L122.3 815.1L123.4 815.4L124.7 816.0L125.9 816.7L126.7 818.0L127.5 816.9L127.8 814.1L128.3 813.3L129.8 813.2L130.8 814.5L131.7 815.5L133.5 816.0L134.5 816.6L135.8 817.2L137.1 815.3L138.3 814.3L140.0 815.1L141.3 815.0L142.4 815.1L143.6 814.3L145.0 814.2L146.7 814.3L148.2 815.4L149.3 815.5L150.4 816.4L151.8 816.8L153.3 818.0L154.7 818.9L155.7 819.2L157.1 820.0L157.9 821.4L159.5 822.9L160.7 823.7L161.7 823.8L162.9 823.1L163.5 820.9L164.2 820.5L165.2 820.3L167.0 822.1L168.1 822.0L169.1 822.5L170.6 824.5L171.7 824.3L172.8 822.8L174.2 822.7L175.2 823.2L177.0 824.7L177.9 824.3L178.9 825.1L180.7 826.4L181.7 827.2L183.2 828.6L184.2 828.6L185.3 828.8L185.8 830.2L187.3 830.4L188.2 830.8L189.8 832.7L190.9 833.8L191.7 833.8L192.9 834.5L194.2 835.2L195.5 835.5L196.6 836.2L198.0 836.9L199.1 837.7L200.5 838.2L201.6 839.0L203.0 839.2L204.2 840.1L205.5 840.7L206.7 841.3L207.8 841.9L208.9 843.0L210.0 843.4L211.2 844.1L212.2 845.0L213.4 845.8L214.5 846.5L215.5 847.4L216.6 848.0L217.8 848.8L219.0 849.4L220.1 850.3L221.1 850.8L222.3 851.8L223.3 852.4L224.6 853.1L225.6 854.1L226.7 854.7L227.9 855.5L228.9 856.1L229.9 857.3L231.1 857.7L232.0 858.5L233.3 859.3L234.3 860.4L235.4 861.2L236.4 861.7L237.4 862.7L238.5 863.6L239.7 864.0L240.8 864.8L241.8 865.6L243.0 866.7L244.1 867.1L245.1 868.2L246.2 868.9L247.2 869.8L248.3 870.5L249.4 871.1L250.3 872.2L251.4 873.0L252.4 873.9L253.5 874.8L254.7 875.5L255.6 876.4L256.7 877.1L257.7 878.2L258.8 878.8L259.8 879.8L261.0 880.7L261.9 881.3L263.0 882.3L264.0 883.0L265.2 884.0L266.1 884.5L267.1 885.6L268.3 886.3L269.3 887.1L270.4 888.1L271.5 888.9L272.6 889.8L273.6 890.6L274.5 891.4L275.7 892.1L276.7 893.0L277.8 893.6L278.9 894.5L279.9 895.2L280.8 896.1L281.9 896.7L282.9 897.9L284.0 898.7L285.1 899.4L286.2 900.1L287.1 900.7L288.1 901.4L289.1 902.5L290.3 903.1L291.3 904.1L292.4 904.8L293.4 905.3L294.5 906.2L295.5 907.0L296.5 908.0L297.4 908.6L298.6 909.4L299.7 910.1L300.7 911.1L301.8 911.6L302.7 912.4L303.8 913.1L304.7 914.2L305.9 914.7L306.9 915.7L308.0 916.5L309.0 917.1L310.0 918.0L311.0 918.6L312.1 919.4L313.1 920.5L314.2 921.2L315.2 921.9L316.3 922.6L317.2 923.3L318.2 924.2L319.3 924.9L320.4 926.0L321.5 926.5L322.5 927.2L323.4 928.1L324.5 929.0L325.6 929.8L326.6 930.7L327.7 931.4L328.6 932.2L329.7 933.0L330.9 933.7L331.8 934.2L332.8 935.4L333.9 936.0L335.0 936.8L335.9 937.4L337.0 938.5L338.1 939.2L339.2 939.8L340.1 940.4L341.3 941.3L342.4 942.2L343.3 943.0L344.4 943.6L345.5 944.4L346.5 945.3L347.5 946.0L348.8 946.8L349.8 947.8L350.8 948.3L351.9 949.2L353.0 950.1L354.1 950.9L355.1 951.6L356.4 952.2L357.3 953.1L358.4 953.9L359.6 954.5L360.5 955.4L361.6 956.1L362.8 956.8L363.8 957.7L365.0 958.7L366.1 959.1L367.1 960.2L368.2 961.0L369.4 961.8L370.3 962.6L371.5 963.1L372.5 964.1L373.6 964.6L374.7 965.7L375.8 966.3L376.9 967.2L378.0 967.9L379.2 968.6L380.4 969.4L381.4 970.5L382.6 971.0L383.6 972.0L384.9 972.5L386.0 973.6L387.2 974.2L388.3 975.1L389.5 975.7L390.6 976.9L391.7 977.5L392.9 978.4L394.0 979.1L395.2 979.5L396.5 980.5L397.5 980.9L398.7 981.8L399.9 982.4L401.2 983.3L402.5 983.9L403.6 984.4L404.8 985.2L405.9 986.1L407.2 986.8L408.3 987.5L410.1 988.2L410.9 989.1L412.3 990.0L413.9 989.3L415.7 990.0L416.7 990.8L417.6 991.4L418.8 991.7L419.6 992.8L421.0 993.4L421.8 994.6L422.7 995.9L423.9 996.1L424.5 996.9L426.1 997.8L426.7 999.2L427.7 999.6L429.3 1000.6L430.2 999.9L431.6 1000.8L433.1 1000.9L434.7 1001.7L436.0 1002.5L436.8 1002.8L438.3 1002.5L439.6 1001.9L441.3 1002.2L441.9 1002.6L443.5 1003.9L445.0 1003.3L446.6 1003.9L447.7 1005.2L449.3 1005.6L450.4 1005.4L451.7 1006.7L453.2 1007.0L455.1 1007.2L456.7 1006.7L458.3 1006.2L459.2 1004.2L460.3 1003.5L462.2 1004.3L463.0 1004.5L464.4 1003.8L465.8 1004.2L467.4 1003.5L468.8 1004.4L470.0 1004.2L471.1 1005.3L472.4 1005.1L473.3 1006.7L474.4 1007.9L475.8 1008.8L476.5 1010.3L478.1 1010.0L479.0 1012.2L479.9 1012.2L481.3 1013.3L482.4 1012.7L482.5 1011.2L483.4 1009.8L484.2 1008.3L485.7 1007.3L486.5 1007.0L487.8 1006.3L489.2 1006.7L489.7 1007.6L490.8 1008.2L491.7 1010.0L493.1 1010.0L494.5 1008.4L495.8 1008.0L497.1 1008.7L497.8 1009.6L498.9 1010.8L500.1 1011.1L501.9 1012.6L503.0 1013.3L504.0 1014.2L505.0 1014.7L506.2 1013.0L506.9 1011.9L507.3 1011.5L508.3 1009.7L509.6 1011.2L511.1 1011.6L511.8 1011.6L513.3 1013.3L513.5 1012.2L513.5 1009.7L513.4 1008.4L514.2 1006.7L514.0 1005.7L514.5 1005.4L514.1 1002.5L514.7 1001.7L516.3 1003.0L516.9 1002.4L518.4 1002.9L519.5 1003.7L520.8 1004.2L520.8 1002.1L520.9 1000.9L521.1 1000.3L521.8 998.4L522.1 997.8L521.9 996.0L522.0 995.4L522.5 993.3L523.9 992.9L525.0 994.2L526.7 994.2L527.7 993.7L528.7 993.0L530.2 991.0L531.2 990.4L532.4 990.5L533.3 989.2L534.0 987.3L533.8 986.5L534.6 984.2L535.0 983.3L535.2 982.1L535.5 980.8L536.0 978.8L536.6 977.8L537.3 975.6L537.5 975.0L539.1 975.4L540.1 976.9L541.7 977.5L542.2 976.2L542.7 974.0L542.5 973.3L542.8 970.9L543.3 970.0L544.2 969.3L545.8 968.2L546.7 966.7L547.4 965.7L547.3 963.5L548.0 961.7L548.2 960.3L548.1 959.6L548.6 958.8L549.2 956.7L549.7 955.3L549.3 953.5L549.7 952.8L549.8 951.9L550.1 950.6L549.9 948.2L550.4 947.6L550.4 946.6L550.8 945.0L550.9 943.5L551.1 942.3L551.3 940.8L551.4 939.6L551.6 938.1L551.6 936.6L551.8 935.2L551.8 934.1L552.2 932.3L552.2 931.1L552.3 929.5L552.5 928.3L552.7 927.1L552.7 925.4L552.8 924.1L553.0 922.7L553.0 921.7L553.1 920.0L553.1 918.7L553.4 917.6L553.4 916.0L553.6 914.8L553.6 913.3L553.7 912.3L553.8 910.6L554.0 909.6L554.2 908.0L554.2 906.7L554.4 905.4L554.3 904.0L554.4 902.8L554.3 901.2L554.6 899.9L554.6 898.6L554.5 897.3L554.6 896.2L554.6 894.9L554.7 893.2L554.8 892.0L554.8 890.7L555.0 889.5L555.0 887.8L555.0 886.7L555.1 885.4L555.2 884.2L555.2 882.9L555.3 881.3L555.3 880.0L555.4 878.7L555.4 877.3L555.6 876.1L555.6 874.9L555.7 873.3L555.8 872.3L555.8 870.8" stroke="#00ff00" stroke-width="3.7" fill="none" stroke-linejoin="round" stroke-linecap="round"/>
<text x="45.00" y="840.80" font-size="13.5" fill="#3a3a3a" font-family='"DejaVu Sans", "Liberation Sans", sans-serif' textLength="21.00" lengthAdjust="spacingAndGlyphs" stroke="#3a3a3a" stroke-width="0.25">0.1</text>
<text x="45.00" y="876.10" font-size="13.5" fill="#3a3a3a" font-family='"DejaVu Sans", "Liberation Sans", sans-serif' textLength="21.00" lengthAdjust="spacingAndGlyphs" stroke="#3a3a3a" stroke-width="0.25">0.0</text>
<text x="40.00" y="911.40" font-size="13.5" fill="#3a3a3a" font-family='"DejaVu Sans", "Liberation Sans", sans-serif' textLength="26.00" lengthAdjust="spacingAndGlyphs" stroke="#3a3a3a" stroke-width="0.25">-0.1</text>
<text x="40.00" y="946.70" font-size="13.5" fill="#3a3a3a" font-family='"DejaVu Sans", "Liberation Sans", sans-serif' textLength="26.00" lengthAdjust="spacingAndGlyphs" stroke="#3a3a3a" stroke-width="0.25">-0.2</text>
<text x="40.00" y="982.00" font-size="13.5" fill="#3a3a3a" font-family='"DejaVu Sans", "Liberation Sans", sans-serif' textLength="26.00" lengthAdjust="spacingAndGlyphs" stroke="#3a3a3a" stroke-width="0.25">-0.3</text>
<text x="40.00" y="1017.30" font-size="13.5" fill="#3a3a3a" font-family='"DejaVu Sans", "Liberation Sans", sans-serif' textLength="26.00" lengthAdjust="spacingAndGlyphs" stroke="#3a3a3a" stroke-width="0.25">-0.4</text>
<text x="65.70" y="1140.80" font-size="11.5" fill="#000" text-anchor="end">4</text>
<text x="65.70" y="1173.10" font-size="11.5" fill="#000" text-anchor="end">2</text>
<text x="65.70" y="1205.40" font-size="11.5" fill="#000" text-anchor="end">0</text>
<text x="65.70" y="1237.70" font-size="11.5" fill="#000" text-anchor="end">-2</text>
<text x="65.70" y="1270.00" font-size="11.5" fill="#000" text-anchor="end">-4</text>
<text x="71.10" y="1283.90" font-size="11" fill="#000" textLength="6.80" lengthAdjust="spacingAndGlyphs">0</text>
<text x="154.84" y="1283.90" font-size="11" fill="#000" textLength="30.40" lengthAdjust="spacingAndGlyphs">5,000</text>
<text x="247.18" y="1283.90" font-size="11" fill="#000" textLength="36.80" lengthAdjust="spacingAndGlyphs">10,000</text>
<text x="342.72" y="1283.90" font-size="11" fill="#000" textLength="36.80" lengthAdjust="spacingAndGlyphs">15,000</text>
<text x="438.26" y="1283.90" font-size="11" fill="#000" textLength="36.80" lengthAdjust="spacingAndGlyphs">20,000</text>
<text x="533.80" y="1283.90" font-size="11" fill="#000" textLength="36.80" lengthAdjust="spacingAndGlyphs">25,000</text>
<text x="248.50" y="1306.40" font-size="14" fill="#000" textLength="158.00" lengthAdjust="spacingAndGlyphs">Rank in Ordered Dataset</text>
<text x="32.20" y="1004.35" font-size="17" fill="#2e2e2e" font-family='"DejaVu Sans", "Liberation Sans", sans-serif' textLength="181.00" lengthAdjust="spacingAndGlyphs" transform="rotate(-90 32.20 1004.35)" stroke="#2e2e2e" stroke-width="0.45">Enrichment score (ES)</text>
<text x="46.30" y="1298.05" font-size="14.5" fill="#000" textLength="213.00" lengthAdjust="spacingAndGlyphs" transform="rotate(-90 46.30 1298.05)">Ranked list metric (Signal2Noise)</text>
<text x="77.30" y="1128.80" font-size="10.5" fill="#ff3a3a" font-family='"DejaVu Sans", "Liberation Sans", sans-serif' textLength="131.00" lengthAdjust="spacingAndGlyphs">'H' (positively correlated)</text>
<text x="327.60" y="1259.40" font-size="10.5" fill="#4848ff" font-family='"DejaVu Sans", "Liberation Sans", sans-serif' textLength="135.50" lengthAdjust="spacingAndGlyphs">'L' (negatively correlated)</text>
<text x="177.27" y="1194.50" font-size="9.8" fill="#333" font-family='"DejaVu Sans", "Liberation Sans", sans-serif' textLength="92.50" lengthAdjust="spacingAndGlyphs">Zero cross at 7796</text>
<rect x="96.3" y="1321.1" width="397.5" height="29" fill="#fff" stroke="#000" stroke-width="1.6"/>
<path d="M99.7 1335.6h18.3" stroke="#00ff00" stroke-width="2"/>
<path d="M244.7 1335.6h17" stroke="#666" stroke-width="1.8"/>
<path d="M325.5 1335.6h17.5" stroke="#d9d9d9" stroke-width="1.8"/>
<path d="M296.3 1328.2h17" stroke="#e0e0e0" stroke-width="1.2"/>
<text x="122.70" y="1340.20" font-size="14.5" fill="#000" textLength="115.50" lengthAdjust="spacingAndGlyphs">Enrichment profile</text>
<text x="267.20" y="1340.20" font-size="14.5" fill="#000" textLength="23.60" lengthAdjust="spacingAndGlyphs">Hits</text>
<text x="348.00" y="1340.20" font-size="14.5" fill="#000" textLength="141.30" lengthAdjust="spacingAndGlyphs">Ranking metric scores</text>
<text x="82.80" y="787.00" font-size="20" fill="#000" font-weight="bold" textLength="426.90" lengthAdjust="spacingAndGlyphs" stroke="#000" stroke-width="0.35">Enrichment plot: HALLMARK_APOPTOSIS</text>
<text x="268.70" y="827.50" font-size="28.6" fill="#000" textLength="168.30" lengthAdjust="spacingAndGlyphs" stroke="#000" stroke-width="0.3">NES= -1.288</text>
<text x="264.70" y="858.30" font-size="28.6" fill="#000" textLength="285.00" lengthAdjust="spacingAndGlyphs" stroke="#000" stroke-width="0.3">Normal p-value=0.038</text>
<text x="271.70" y="895.00" font-size="28.6" fill="#000" textLength="160.00" lengthAdjust="spacingAndGlyphs" stroke="#000" stroke-width="0.3">FDR q-value</text>
<text x="442.50" y="896.70" font-size="28.6" fill="#000" textLength="89.20" lengthAdjust="spacingAndGlyphs" stroke="#000" stroke-width="0.3">=0.169</text>
<text x="-3.90" y="747.00" font-size="66" fill="#000" stroke="#000" stroke-width="1.3">D</text>
</g>
<g>
<rect x="663.8" y="774.2" width="586.2" height="586.8" fill="#f2f2f2"/>
<rect x="730.8" y="840.8" width="510.5" height="433.1" fill="#fff"/>
<path d="M827.3 840.8V1048.5M827.3 1135.5V1273.9M923.8 840.8V1048.5M923.8 1135.5V1273.9M1020.3 840.8V1048.5M1020.3 1135.5V1273.9M1116.8 840.8V1048.5M1116.8 1135.5V1273.9M1213.3 840.8V1048.5M1213.3 1135.5V1273.9M730.8 873.8H1241.3M730.8 912.5H1241.3M730.8 951.3H1241.3M730.8 990.0H1241.3M730.8 1152.5H1241.3M730.8 1182.9H1241.3M730.8 1213.3H1241.3M730.8 1243.7H1241.3" stroke="#cfcfcf" stroke-width="1" stroke-dasharray="2.2 2.6" fill="none"/>
<path d="M881.3 1135.5V1273.9" stroke="#bdbdbd" stroke-width="1.2" stroke-dasharray="4 3" fill="none"/>
<path d="M728.3 1028.8H1241.3" stroke="#8c8c8c" stroke-width="1" fill="none"/>
<path d="M730.8 1214.1L730.8 1180.6L731.6 1186.2L733.3 1191.3L736.7 1195.1L741.7 1198.3L748.5 1200.7L758.6 1202.7L772.0 1204.6L788.9 1206.6L805.7 1208.1L822.5 1209.3L834.3 1210.3L835.0 1211.9L881.3 1212.5L881.3 1214.1Z" fill="#bcbcbc"/>
<path d="M1039.6 1212.4L1039.6 1214.2L1062.8 1214.8L1095.6 1215.9L1125.5 1217.4L1159.3 1219.4L1184.3 1221.7L1199.8 1224.1L1206.5 1226.5L1211.4 1231.1L1214.1 1237.3L1215.6 1249.8L1216.6 1268.0L1217.1 1268.0L1217.1 1212.4Z" fill="#bcbcbc"/>
<rect x="730.8" y="1118" width="8.8" height="17.5" fill="#ee4040"/>
<rect x="739.3" y="1118" width="79.2" height="17.5" fill="#ff5a5a"/>
<rect x="818.2" y="1118" width="17.9" height="17.5" fill="#ff6e80"/>
<rect x="835.8" y="1118" width="18.2" height="17.5" fill="#ff8888"/>
<rect x="853.7" y="1118" width="186.7" height="17.5" fill="#ffc0e4"/>
<rect x="1040.2" y="1118" width="94.3" height="17.5" fill="#d6d4fc"/>
<rect x="1134.2" y="1118" width="11.9" height="17.5" fill="#c8c0f8"/>
<rect x="1145.8" y="1118" width="14.4" height="17.5" fill="#8a8aff"/>
<rect x="1159.8" y="1118" width="46.4" height="17.5" fill="#6c5cf0"/>
<rect x="1206.0" y="1118" width="8.2" height="17.5" fill="#2800d0"/>
<rect x="1213.9" y="1118" width="3.2" height="17.5" fill="#4000a8"/>
<g stroke="#000" stroke-opacity="0.7" stroke-width="1.3" fill="none"><path d="M742.5 1051.3V1118"/><path d="M742.5 1051.3V1118"/><path d="M742.5 1051.3V1118"/><path d="M754.5 1051.3V1118"/><path d="M755.5 1051.3V1118"/><path d="M758.5 1051.3V1118"/><path d="M760.5 1051.3V1118"/><path d="M768.5 1051.3V1118"/><path d="M774.5 1051.3V1118"/><path d="M777.5 1051.3V1118"/><path d="M777.5 1051.3V1118"/><path d="M778.5 1051.3V1118"/><path d="M780.5 1051.3V1118"/><path d="M784.5 1051.3V1118"/><path d="M784.5 1051.3V1118"/><path d="M787.5 1051.3V1118"/><path d="M788.5 1051.3V1118"/><path d="M788.5 1051.3V1118"/><path d="M789.5 1051.3V1118"/><path d="M789.5 1051.3V1118"/><path d="M790.5 1051.3V1118"/><path d="M790.5 1051.3V1118"/><path d="M798.5 1051.3V1118"/><path d="M798.5 1051.3V1118"/><path d="M798.5 1051.3V1118"/><path d="M799.5 1051.3V1118"/><path d="M799.5 1051.3V1118"/><path d="M800.5 1051.3V1118"/><path d="M800.5 1051.3V1118"/><path d="M804.5 1051.3V1118"/><path d="M805.5 1051.3V1118"/><path d="M805.5 1051.3V1118"/><path d="M806.5 1051.3V1118"/><path d="M806.5 1051.3V1118"/><path d="M806.5 1051.3V1118"/><path d="M807.5 1051.3V1118"/><path d="M807.5 1051.3V1118"/><path d="M808.5 1051.3V1118"/><path d="M811.5 1051.3V1118"/><path d="M811.5 1051.3V1118"/><path d="M811.5 1051.3V1118"/><path d="M812.5 1051.3V1118"/><path d="M813.5 1051.3V1118"/><path d="M813.5 1051.3V1118"/><path d="M815.5 1051.3V1118"/><path d="M816.5 1051.3V1118"/><path d="M826.5 1051.3V1118"/><path d="M827.5 1051.3V1118"/><path d="M827.5 1051.3V1118"/><path d="M828.5 1051.3V1118"/><path d="M828.5 1051.3V1118"/><path d="M829.5 1051.3V1118"/><path d="M834.5 1051.3V1118"/><path d="M836.5 1051.3V1118"/><path d="M837.5 1051.3V1118"/><path d="M840.5 1051.3V1118"/><path d="M841.5 1051.3V1118"/><path d="M841.5 1051.3V1118"/><path d="M841.5 1051.3V1118"/><path d="M842.5 1051.3V1118"/><path d="M842.5 1051.3V1118"/><path d="M843.5 1051.3V1118"/><path d="M844.5 1051.3V1118"/><path d="M844.5 1051.3V1118"/><path d="M845.5 1051.3V1118"/><path d="M845.5 1051.3V1118"/><path d="M846.5 1051.3V1118"/><path d="M846.5 1051.3V1118"/><path d="M847.5 1051.3V1118"/><path d="M861.5 1051.3V1118"/><path d="M864.5 1051.3V1118"/><path d="M874.5 1051.3V1118"/><path d="M875.5 1051.3V1118"/><path d="M875.5 1051.3V1118"/><path d="M876.5 1051.3V1118"/><path d="M876.5 1051.3V1118"/><path d="M876.5 1051.3V1118"/><path d="M877.5 1051.3V1118"/><path d="M879.5 1051.3V1118"/><path d="M892.5 1051.3V1118"/><path d="M931.5 1051.3V1118"/><path d="M932.5 1051.3V1118"/><path d="M937.5 1051.3V1118"/><path d="M938.5 1051.3V1118"/><path d="M984.5 1051.3V1118"/><path d="M984.5 1051.3V1118"/><path d="M994.5 1051.3V1118"/><path d="M1002.5 1051.3V1118"/><path d="M1002.5 1051.3V1118"/><path d="M1006.5 1051.3V1118"/><path d="M1041.5 1051.3V1118"/><path d="M1043.5 1051.3V1118"/><path d="M1043.5 1051.3V1118"/><path d="M1044.5 1051.3V1118"/><path d="M1044.5 1051.3V1118"/><path d="M1045.5 1051.3V1118"/><path d="M1045.5 1051.3V1118"/><path d="M1045.5 1051.3V1118"/><path d="M1049.5 1051.3V1118"/><path d="M1062.5 1051.3V1118"/><path d="M1063.5 1051.3V1118"/><path d="M1065.5 1051.3V1118"/><path d="M1065.5 1051.3V1118"/><path d="M1066.5 1051.3V1118"/><path d="M1066.5 1051.3V1118"/><path d="M1066.5 1051.3V1118"/><path d="M1067.5 1051.3V1118"/><path d="M1073.5 1051.3V1118"/><path d="M1079.5 1051.3V1118"/><path d="M1080.5 1051.3V1118"/><path d="M1080.5 1051.3V1118"/><path d="M1085.5 1051.3V1118"/><path d="M1086.5 1051.3V1118"/><path d="M1086.5 1051.3V1118"/><path d="M1090.5 1051.3V1118"/><path d="M1093.5 1051.3V1118"/><path d="M1094.5 1051.3V1118"/><path d="M1095.5 1051.3V1118"/><path d="M1096.5 1051.3V1118"/><path d="M1096.5 1051.3V1118"/><path d="M1097.5 1051.3V1118"/><path d="M1097.5 1051.3V1118"/><path d="M1098.5 1051.3V1118"/><path d="M1098.5 1051.3V1118"/><path d="M1105.5 1051.3V1118"/><path d="M1112.5 1051.3V1118"/><path d="M1113.5 1051.3V1118"/><path d="M1113.5 1051.3V1118"/><path d="M1113.5 1051.3V1118"/><path d="M1114.5 1051.3V1118"/><path d="M1115.5 1051.3V1118"/><path d="M1115.5 1051.3V1118"/><path d="M1135.5 1051.3V1118"/><path d="M1141.5 1051.3V1118"/><path d="M1150.5 1051.3V1118"/><path d="M1157.5 1051.3V1118"/><path d="M1159.5 1051.3V1118"/><path d="M1159.5 1051.3V1118"/><path d="M1161.5 1051.3V1118"/><path d="M1162.5 1051.3V1118"/><path d="M1182.5 1051.3V1118"/><path d="M1207.5 1051.3V1118"/></g>
<g stroke="#000" stroke-opacity="0.16" stroke-width="1" fill="none" shape-rendering="crispEdges"><path d="M742.5 1118V1135.5"/><path d="M742.5 1118V1135.5"/><path d="M742.5 1118V1135.5"/><path d="M754.5 1118V1135.5"/><path d="M755.5 1118V1135.5"/><path d="M758.5 1118V1135.5"/><path d="M760.5 1118V1135.5"/><path d="M768.5 1118V1135.5"/><path d="M774.5 1118V1135.5"/><path d="M777.5 1118V1135.5"/><path d="M777.5 1118V1135.5"/><path d="M778.5 1118V1135.5"/><path d="M780.5 1118V1135.5"/><path d="M784.5 1118V1135.5"/><path d="M784.5 1118V1135.5"/><path d="M787.5 1118V1135.5"/><path d="M788.5 1118V1135.5"/><path d="M788.5 1118V1135.5"/><path d="M789.5 1118V1135.5"/><path d="M789.5 1118V1135.5"/><path d="M790.5 1118V1135.5"/><path d="M790.5 1118V1135.5"/><path d="M798.5 1118V1135.5"/><path d="M798.5 1118V1135.5"/><path d="M798.5 1118V1135.5"/><path d="M799.5 1118V1135.5"/><path d="M799.5 1118V1135.5"/><path d="M800.5 1118V1135.5"/><path d="M800.5 1118V1135.5"/><path d="M804.5 1118V1135.5"/><path d="M805.5 1118V1135.5"/><path d="M805.5 1118V1135.5"/><path d="M806.5 1118V1135.5"/><path d="M806.5 1118V1135.5"/><path d="M806.5 1118V1135.5"/><path d="M807.5 1118V1135.5"/><path d="M807.5 1118V1135.5"/><path d="M808.5 1118V1135.5"/><path d="M811.5 1118V1135.5"/><path d="M811.5 1118V1135.5"/><path d="M811.5 1118V1135.5"/><path d="M812.5 1118V1135.5"/><path d="M813.5 1118V1135.5"/><path d="M813.5 1118V1135.5"/><path d="M815.5 1118V1135.5"/><path d="M816.5 1118V1135.5"/><path d="M826.5 1118V1135.5"/><path d="M827.5 1118V1135.5"/><path d="M827.5 1118V1135.5"/><path d="M828.5 1118V1135.5"/><path d="M828.5 1118V1135.5"/><path d="M829.5 1118V1135.5"/><path d="M834.5 1118V1135.5"/><path d="M836.5 1118V1135.5"/><path d="M837.5 1118V1135.5"/><path d="M840.5 1118V1135.5"/><path d="M841.5 1118V1135.5"/><path d="M841.5 1118V1135.5"/><path d="M841.5 1118V1135.5"/><path d="M842.5 1118V1135.5"/><path d="M842.5 1118V1135.5"/><path d="M843.5 1118V1135.5"/><path d="M844.5 1118V1135.5"/><path d="M844.5 1118V1135.5"/><path d="M845.5 1118V1135.5"/><path d="M845.5 1118V1135.5"/><path d="M846.5 1118V1135.5"/><path d="M846.5 1118V1135.5"/><path d="M847.5 1118V1135.5"/><path d="M861.5 1118V1135.5"/><path d="M864.5 1118V1135.5"/><path d="M874.5 1118V1135.5"/><path d="M875.5 1118V1135.5"/><path d="M875.5 1118V1135.5"/><path d="M876.5 1118V1135.5"/><path d="M876.5 1118V1135.5"/><path d="M876.5 1118V1135.5"/><path d="M877.5 1118V1135.5"/><path d="M879.5 1118V1135.5"/><path d="M892.5 1118V1135.5"/><path d="M931.5 1118V1135.5"/><path d="M932.5 1118V1135.5"/><path d="M937.5 1118V1135.5"/><path d="M938.5 1118V1135.5"/><path d="M984.5 1118V1135.5"/><path d="M984.5 1118V1135.5"/><path d="M994.5 1118V1135.5"/><path d="M1002.5 1118V1135.5"/><path d="M1002.5 1118V1135.5"/><path d="M1006.5 1118V1135.5"/><path d="M1041.5 1118V1135.5"/><path d="M1043.5 1118V1135.5"/><path d="M1043.5 1118V1135.5"/><path d="M1044.5 1118V1135.5"/><path d="M1044.5 1118V1135.5"/><path d="M1045.5 1118V1135.5"/><path d="M1045.5 1118V1135.5"/><path d="M1045.5 1118V1135.5"/><path d="M1049.5 1118V1135.5"/><path d="M1062.5 1118V1135.5"/><path d="M1063.5 1118V1135.5"/><path d="M1065.5 1118V1135.5"/><path d="M1065.5 1118V1135.5"/><path d="M1066.5 1118V1135.5"/><path d="M1066.5 1118V1135.5"/><path d="M1066.5 1118V1135.5"/><path d="M1067.5 1118V1135.5"/><path d="M1073.5 1118V1135.5"/><path d="M1079.5 1118V1135.5"/><path d="M1080.5 1118V1135.5"/><path d="M1080.5 1118V1135.5"/><path d="M1085.5 1118V1135.5"/><path d="M1086.5 1118V1135.5"/><path d="M1086.5 1118V1135.5"/><path d="M1090.5 1118V1135.5"/><path d="M1093.5 1118V1135.5"/><path d="M1094.5 1118V1135.5"/><path d="M1095.5 1118V1135.5"/><path d="M1096.5 1118V1135.5"/><path d="M1096.5 1118V1135.5"/><path d="M1097.5 1118V1135.5"/><path d="M1097.5 1118V1135.5"/><path d="M1098.5 1118V1135.5"/><path d="M1098.5 1118V1135.5"/><path d="M1105.5 1118V1135.5"/><path d="M1112.5 1118V1135.5"/><path d="M1113.5 1118V1135.5"/><path d="M1113.5 1118V1135.5"/><path d="M1113.5 1118V1135.5"/><path d="M1114.5 1118V1135.5"/><path d="M1115.5 1118V1135.5"/><path d="M1115.5 1118V1135.5"/><path d="M1135.5 1118V1135.5"/><path d="M1141.5 1118V1135.5"/><path d="M1150.5 1118V1135.5"/><path d="M1157.5 1118V1135.5"/><path d="M1159.5 1118V1135.5"/><path d="M1159.5 1118V1135.5"/><path d="M1161.5 1118V1135.5"/><path d="M1162.5 1118V1135.5"/><path d="M1182.5 1118V1135.5"/><path d="M1207.5 1118V1135.5"/></g>
<path d="M730.8 840.8H1241.3V1273.9M730.8 1048.5H1241.3M730.8 1118H1241.3M730.8 1135.5H1241.3" stroke="#b4b4b4" stroke-width="1.2" fill="none"/>
<path d="M730.8 840.8V1273.9H1241.3" stroke="#7a7a7a" stroke-width="1.2" fill="none"/>
<path d="M727.8 873.8H730.8M727.8 912.5H730.8M727.8 951.3H730.8M727.8 990.0H730.8M727.8 1028.8H730.8M730.8 1273.9v2.5M827.3 1273.9v2.5M923.8 1273.9v2.5M1020.3 1273.9v2.5M1116.8 1273.9v2.5M1213.3 1273.9v2.5" stroke="#7a7a7a" stroke-width="1" fill="none"/>
<path d="M731.3 1029.0L732.3 1030.1L733.5 1030.9L734.4 1031.9L735.6 1032.7L736.5 1033.7L737.6 1034.6L738.6 1035.7L739.7 1036.4L740.8 1037.8L741.7 1038.5L741.7 1037.3L741.7 1036.1L741.8 1034.7L741.9 1033.2L742.0 1031.8L741.8 1030.7L742.0 1029.5L742.1 1028.0L742.1 1026.8L742.0 1025.5L742.2 1024.1L742.2 1022.7L742.1 1021.5L742.2 1020.2L742.2 1018.8L742.2 1017.3L742.3 1016.3L742.4 1014.7L742.4 1013.5L742.4 1012.2L742.6 1010.6L742.6 1009.5L742.7 1008.2L742.7 1006.6L742.8 1005.6L742.7 1004.2L742.8 1002.7L743.8 1003.4L744.8 1004.6L745.9 1005.2L746.9 1006.3L748.1 1007.0L749.1 1007.8L750.0 1008.7L751.1 1009.7L752.1 1010.4L753.1 1011.2L754.2 1012.3L754.2 1010.9L754.3 1009.4L754.3 1008.2L754.4 1006.8L754.4 1005.5L754.3 1004.1L754.3 1002.6L754.3 1001.5L754.6 1000.0L754.4 998.6L754.5 997.4L754.5 995.7L754.6 994.6L754.5 993.3L754.7 991.7L754.7 990.6L754.7 989.0L754.7 987.7L755.7 988.6L757.2 989.7L758.3 990.2L758.7 988.3L758.3 988.0L758.7 986.3L758.6 984.5L758.9 983.5L758.5 981.5L758.3 981.3L758.7 979.3L760.0 979.4L760.8 981.0L760.7 979.6L760.9 978.1L761.3 976.7L761.1 976.3L761.2 974.2L761.0 972.7L761.3 972.0L761.3 970.2L762.1 970.9L763.2 971.9L764.6 973.1L765.1 973.7L766.6 974.4L767.5 975.1L768.3 976.8L768.2 974.8L768.8 973.6L768.5 972.2L768.6 972.0L769.1 971.0L769.4 969.1L769.2 967.7L770.6 968.0L771.7 969.6L772.3 971.1L773.9 971.5L774.7 972.7L774.5 971.9L775.1 970.1L775.4 967.8L774.7 966.5L774.8 966.0L775.3 964.3L777.0 966.0L777.1 964.5L777.1 963.1L777.2 962.0L777.4 960.5L777.4 959.2L777.4 957.8L777.4 956.7L777.6 955.2L777.5 953.7L777.5 952.4L777.7 950.9L777.8 949.8L777.7 948.3L777.9 947.0L777.9 945.8L778.0 944.3L779.1 944.9L780.0 946.0L780.1 945.4L780.6 944.0L780.5 941.4L780.4 940.5L780.8 939.3L782.1 939.3L783.3 941.4L784.2 941.8L784.2 940.2L784.3 939.0L784.3 937.7L784.4 936.3L784.5 935.2L784.5 933.7L784.4 932.2L784.4 931.1L784.6 929.6L784.6 928.4L784.6 926.7L784.7 925.3L784.7 923.9L784.7 922.7L786.4 923.5L787.5 924.3L787.5 923.2L787.6 921.9L787.8 920.2L787.9 919.1L788.0 917.8L788.0 916.6L788.0 915.3L788.1 913.7L788.2 912.7L788.3 911.3L788.4 910.0L788.6 908.4L788.6 907.4L788.7 906.0L788.6 904.9L788.8 903.1L789.4 902.7L789.6 900.5L789.4 899.7L789.7 897.8L789.9 896.4L789.7 895.2L791.0 896.0L791.3 897.4L792.3 898.2L793.2 899.5L794.6 900.0L795.3 900.7L796.4 901.0L797.5 902.3L797.7 900.8L797.8 899.5L798.1 898.6L798.1 897.1L798.3 895.9L798.6 894.4L798.8 893.0L798.8 892.0L798.9 890.4L799.2 889.2L799.3 888.1L799.5 886.7L799.6 885.5L799.8 884.2L800.0 882.7L801.1 884.5L802.3 885.0L803.2 886.3L804.2 886.8L804.4 885.3L804.7 884.3L804.9 883.0L805.0 881.5L805.3 880.4L805.5 878.8L805.7 877.6L805.8 876.1L806.0 874.9L806.3 873.5L806.5 872.3L806.7 871.0L808.3 872.0L809.2 873.3L810.8 873.5L810.8 872.9L811.4 870.2L811.2 870.2L811.2 868.2L811.2 866.0L811.2 864.8L811.4 864.3L811.7 862.7L812.4 862.3L813.1 860.2L813.9 859.5L814.2 858.7L815.0 856.7L815.5 855.5L816.5 854.2L816.7 853.5L818.1 853.8L818.3 855.5L819.5 856.4L820.4 858.0L821.9 858.7L823.1 860.2L823.9 860.7L824.4 860.6L825.8 862.3L826.3 861.9L826.8 860.0L827.1 858.6L828.4 857.7L828.9 855.6L829.2 855.2L830.0 855.7L831.5 856.6L832.5 857.8L833.5 859.2L834.2 860.2L835.4 860.3L836.8 859.2L837.8 858.7L839.9 856.8L840.8 856.8L841.9 855.2L842.3 854.2L843.6 854.0L844.8 852.9L845.4 851.1L846.2 849.7L847.2 850.6L848.3 851.3L849.4 852.0L850.3 852.8L851.3 853.8L852.5 854.4L853.4 855.4L854.5 856.1L855.5 856.7L856.4 857.7L857.5 858.7L858.5 859.5L859.6 860.0L860.7 860.9L861.7 861.8L864.2 861.8L865.1 863.1L866.1 863.8L867.7 864.2L868.5 865.8L869.7 865.5L870.3 866.2L871.6 867.0L873.0 868.4L873.8 869.4L875.0 870.2L876.6 870.2L877.2 870.7L878.6 872.1L880.0 871.8L881.1 872.6L882.0 873.3L883.0 874.5L884.1 875.0L885.1 875.8L886.1 876.7L887.0 877.8L888.2 878.5L889.0 879.4L890.1 880.2L891.1 881.2L892.0 881.7L893.1 882.5L894.1 883.6L895.3 884.2L896.2 885.2L897.2 885.9L898.3 886.8L899.2 887.5L900.3 888.7L901.4 889.2L902.3 890.2L903.3 891.0L904.3 891.9L905.4 892.8L906.4 893.7L907.5 894.3L908.4 895.2L909.5 896.1L910.6 896.9L911.8 897.5L912.7 898.6L913.7 899.3L914.7 900.2L915.9 900.9L916.9 901.8L918.0 902.6L919.1 903.5L919.9 904.2L921.1 905.3L922.1 905.9L923.2 906.9L924.1 907.6L925.3 908.3L926.2 909.3L927.4 910.4L928.3 911.2L929.5 912.0L930.5 912.9L931.5 913.7L932.5 914.2L933.6 915.2L934.6 916.0L935.7 916.9L936.7 917.7L937.7 918.4L938.8 919.4L939.8 920.3L940.8 921.0L941.9 922.0L943.0 922.8L944.0 923.4L945.1 924.4L946.0 925.1L947.1 926.1L948.2 926.8L949.2 927.5L950.2 928.4L951.2 929.3L952.4 930.3L953.3 930.9L954.5 931.9L955.5 932.7L956.5 933.4L957.4 934.3L958.5 935.4L959.6 936.1L960.7 937.0L961.6 937.6L962.6 938.6L963.8 939.3L964.8 940.0L965.8 941.1L967.0 942.0L968.0 942.6L968.9 943.4L970.0 944.3L971.1 945.0L972.0 945.9L973.2 947.0L974.1 947.8L975.3 948.4L976.2 949.4L977.3 950.0L978.4 950.9L979.3 951.9L980.4 952.4L981.4 953.4L982.4 954.3L983.6 955.1L984.6 956.0L985.5 956.6L986.7 957.7L987.6 958.4L988.8 959.5L989.7 960.2L990.8 960.9L991.8 961.7L992.9 962.7L993.9 963.3L994.9 964.2L996.0 965.1L997.1 965.8L998.2 966.7L999.2 967.5L1000.2 968.4L1001.1 969.5L1002.3 970.1L1003.3 971.0L1004.4 971.8L1005.4 972.5L1006.2 973.5L1007.3 974.5L1008.3 975.3L1009.2 976.3L1010.2 976.9L1011.3 977.8L1012.3 978.5L1013.2 979.4L1014.1 980.2L1015.1 981.2L1016.2 982.1L1017.1 983.1L1018.2 984.1L1019.1 984.7L1020.2 985.5L1021.2 986.3L1022.2 987.2L1023.1 988.2L1024.1 988.9L1025.0 990.0L1026.1 990.5L1027.1 991.6L1028.1 992.3L1029.2 993.2L1030.1 994.3L1031.0 994.9L1032.0 995.9L1033.1 996.7L1034.0 997.4L1035.1 998.4L1036.1 999.2L1037.1 999.9L1038.0 1001.2L1039.0 1001.9L1040.0 1002.7L1041.4 1002.9L1042.6 1002.7L1044.2 1003.5L1045.3 1004.4L1046.3 1005.1L1047.3 1005.9L1048.4 1006.6L1049.5 1007.4L1050.6 1008.2L1051.8 1008.8L1052.8 1009.8L1053.9 1010.6L1055.0 1011.4L1056.0 1012.1L1057.2 1012.9L1058.2 1013.6L1059.3 1014.7L1060.4 1015.3L1061.3 1016.1L1062.5 1016.8L1063.4 1017.1L1065.4 1016.4L1066.1 1016.2L1067.5 1015.2L1068.5 1016.1L1069.7 1016.6L1070.9 1017.6L1072.0 1018.5L1073.1 1019.4L1074.1 1020.2L1075.2 1020.6L1076.3 1021.4L1077.4 1022.5L1078.5 1023.1L1079.7 1024.0L1080.5 1022.6L1082.0 1022.6L1083.0 1021.7L1083.7 1020.4L1084.5 1019.5L1086.0 1018.2L1086.7 1016.8L1087.7 1016.6L1089.5 1017.7L1090.5 1018.6L1091.4 1018.8L1092.9 1019.3L1094.2 1019.3L1094.8 1017.6L1095.9 1016.4L1096.4 1016.1L1096.7 1014.6L1097.5 1012.6L1098.3 1011.8L1099.2 1013.5L1100.4 1013.8L1101.7 1014.0L1103.0 1016.1L1104.2 1016.5L1105.0 1017.7L1105.6 1016.2L1106.7 1015.2L1107.9 1016.5L1108.6 1017.2L1109.4 1018.9L1110.7 1019.2L1111.7 1020.2L1112.5 1018.5L1113.1 1017.6L1113.7 1015.9L1113.9 1015.6L1114.6 1014.0L1115.3 1012.5L1115.8 1011.8L1116.8 1012.5L1117.9 1013.5L1118.9 1014.5L1119.9 1015.4L1120.8 1016.3L1121.9 1017.3L1123.0 1018.1L1124.0 1018.8L1125.0 1019.9L1126.0 1020.5L1127.0 1021.5L1128.0 1022.3L1129.2 1023.2L1130.0 1024.0L1131.2 1024.9L1132.2 1025.9L1133.2 1026.8L1134.2 1027.7L1134.9 1025.7L1135.3 1024.7L1135.0 1024.4L1135.8 1022.7L1137.0 1023.8L1137.8 1025.2L1138.9 1026.1L1140.0 1026.8L1141.3 1027.7L1141.8 1025.8L1142.1 1023.7L1142.5 1022.7L1143.6 1023.9L1144.2 1024.5L1145.6 1024.7L1146.7 1026.8L1147.0 1026.7L1148.0 1027.5L1149.0 1028.8L1150.3 1029.7L1150.4 1028.0L1151.0 1026.6L1151.6 1025.8L1151.7 1024.0L1152.4 1024.7L1153.4 1026.0L1154.5 1027.7L1155.8 1028.5L1156.4 1028.0L1156.2 1025.1L1157.0 1024.3L1157.5 1023.0L1157.5 1021.8L1159.7 1022.3L1159.8 1020.3L1160.6 1019.7L1160.4 1018.3L1160.9 1017.6L1160.9 1015.2L1161.1 1015.1L1161.4 1013.4L1161.7 1011.8L1162.7 1012.6L1163.7 1013.4L1164.7 1014.5L1165.6 1015.1L1166.8 1016.2L1167.6 1016.9L1168.7 1017.8L1169.7 1018.3L1170.7 1019.4L1171.8 1020.0L1172.7 1021.1L1173.7 1021.6L1174.7 1022.6L1175.7 1023.4L1176.6 1024.4L1177.7 1025.3L1178.7 1026.0L1179.8 1026.7L1180.8 1027.5L1181.7 1028.5L1182.2 1026.4L1182.1 1025.7L1181.7 1024.4L1182.1 1023.1L1181.9 1022.0L1182.1 1021.4L1182.3 1019.2L1182.5 1018.0L1183.4 1019.1L1184.5 1019.8L1185.6 1020.6L1186.6 1021.4L1187.5 1022.2L1188.5 1023.4L1189.5 1024.1L1190.6 1024.9L1191.5 1025.9L1192.6 1026.9L1193.7 1027.5L1194.6 1028.5L1195.5 1029.4L1196.7 1030.2L1197.6 1031.2L1198.5 1032.2L1199.6 1032.8L1200.7 1033.5L1201.6 1034.5L1202.7 1035.3L1203.6 1036.3L1204.6 1037.1L1205.6 1038.1L1206.7 1039.0L1206.7 1037.8L1206.9 1036.3L1206.9 1035.2L1207.0 1033.9L1207.1 1032.7L1207.2 1031.2L1207.4 1029.7L1207.3 1028.6L1207.6 1027.3L1207.6 1025.9L1207.7 1024.6L1207.8 1023.4L1207.9 1021.9L1208.0 1020.7L1209.1 1020.9L1210.2 1022.4L1210.8 1022.7L1212.0 1024.2L1213.2 1024.8L1213.9 1026.5L1214.8 1027.5L1216.3 1028.4L1217.0 1028.5" stroke="#00ff00" stroke-width="3.7" fill="none" stroke-linejoin="round" stroke-linecap="round"/>
<text x="701.30" y="878.60" font-size="13.5" fill="#3a3a3a" font-family='"DejaVu Sans", "Liberation Sans", sans-serif' textLength="21.00" lengthAdjust="spacingAndGlyphs" stroke="#3a3a3a" stroke-width="0.25">0.4</text>
<text x="701.30" y="917.35" font-size="13.5" fill="#3a3a3a" font-family='"DejaVu Sans", "Liberation Sans", sans-serif' textLength="21.00" lengthAdjust="spacingAndGlyphs" stroke="#3a3a3a" stroke-width="0.25">0.3</text>
<text x="701.30" y="956.10" font-size="13.5" fill="#3a3a3a" font-family='"DejaVu Sans", "Liberation Sans", sans-serif' textLength="21.00" lengthAdjust="spacingAndGlyphs" stroke="#3a3a3a" stroke-width="0.25">0.2</text>
<text x="701.30" y="994.85" font-size="13.5" fill="#3a3a3a" font-family='"DejaVu Sans", "Liberation Sans", sans-serif' textLength="21.00" lengthAdjust="spacingAndGlyphs" stroke="#3a3a3a" stroke-width="0.25">0.1</text>
<text x="701.30" y="1033.60" font-size="13.5" fill="#3a3a3a" font-family='"DejaVu Sans", "Liberation Sans", sans-serif' textLength="21.00" lengthAdjust="spacingAndGlyphs" stroke="#3a3a3a" stroke-width="0.25">0.0</text>
<text x="722.00" y="1156.70" font-size="11.5" fill="#000" text-anchor="end">4</text>
<text x="722.00" y="1187.10" font-size="11.5" fill="#000" text-anchor="end">2</text>
<text x="722.00" y="1217.50" font-size="11.5" fill="#000" text-anchor="end">0</text>
<text x="722.00" y="1247.90" font-size="11.5" fill="#000" text-anchor="end">-2</text>
<text x="722.00" y="1278.30" font-size="11.5" fill="#000" text-anchor="end">-4</text>
<text x="727.40" y="1292.20" font-size="11" fill="#000" textLength="6.80" lengthAdjust="spacingAndGlyphs">0</text>
<text x="812.10" y="1292.20" font-size="11" fill="#000" textLength="30.40" lengthAdjust="spacingAndGlyphs">5,000</text>
<text x="905.40" y="1292.20" font-size="11" fill="#000" textLength="36.80" lengthAdjust="spacingAndGlyphs">10,000</text>
<text x="1001.90" y="1292.20" font-size="11" fill="#000" textLength="36.80" lengthAdjust="spacingAndGlyphs">15,000</text>
<text x="1098.40" y="1292.20" font-size="11" fill="#000" textLength="36.80" lengthAdjust="spacingAndGlyphs">20,000</text>
<text x="1194.90" y="1292.20" font-size="11" fill="#000" textLength="36.80" lengthAdjust="spacingAndGlyphs">25,000</text>
<text x="907.05" y="1314.70" font-size="14" fill="#000" textLength="158.00" lengthAdjust="spacingAndGlyphs">Rank in Ordered Dataset</text>
<text x="693.30" y="1035.15" font-size="17" fill="#2e2e2e" font-family='"DejaVu Sans", "Liberation Sans", sans-serif' textLength="181.00" lengthAdjust="spacingAndGlyphs" transform="rotate(-90 693.30 1035.15)" stroke="#2e2e2e" stroke-width="0.45">Enrichment score (ES)</text>
<text x="702.60" y="1311.20" font-size="14.5" fill="#000" textLength="213.00" lengthAdjust="spacingAndGlyphs" transform="rotate(-90 702.60 1311.20)">Ranked list metric (Signal2Noise)</text>
<text x="733.60" y="1145.80" font-size="10.5" fill="#ff3a3a" font-family='"DejaVu Sans", "Liberation Sans", sans-serif' textLength="131.00" lengthAdjust="spacingAndGlyphs">'H' (positively correlated)</text>
<text x="986.76" y="1269.30" font-size="10.5" fill="#4848ff" font-family='"DejaVu Sans", "Liberation Sans", sans-serif' textLength="135.50" lengthAdjust="spacingAndGlyphs">'L' (negatively correlated)</text>
<text x="835.06" y="1207.60" font-size="9.8" fill="#333" font-family='"DejaVu Sans", "Liberation Sans", sans-serif' textLength="92.50" lengthAdjust="spacingAndGlyphs">Zero cross at 7796</text>
<rect x="758.1" y="1329.4" width="397.5" height="29" fill="#fff" stroke="#000" stroke-width="1.6"/>
<path d="M761.5 1343.9h18.3" stroke="#00ff00" stroke-width="2"/>
<path d="M906.5 1343.9h17" stroke="#666" stroke-width="1.8"/>
<path d="M987.3 1343.9h17.5" stroke="#d9d9d9" stroke-width="1.8"/>
<path d="M958.1 1336.5h17" stroke="#e0e0e0" stroke-width="1.2"/>
<text x="784.50" y="1348.50" font-size="14.5" fill="#000" textLength="115.50" lengthAdjust="spacingAndGlyphs">Enrichment profile</text>
<text x="929.00" y="1348.50" font-size="14.5" fill="#000" textLength="23.60" lengthAdjust="spacingAndGlyphs">Hits</text>
<text x="1009.80" y="1348.50" font-size="14.5" fill="#000" textLength="141.30" lengthAdjust="spacingAndGlyphs">Ranking metric scores</text>
<text x="870.80" y="795.70" font-size="20" fill="#000" font-weight="bold" textLength="165.90" lengthAdjust="spacingAndGlyphs" stroke="#000" stroke-width="0.35">Enrichment plot:</text>
<text x="750.80" y="826.30" font-size="20" fill="#000" font-weight="bold" textLength="411.70" lengthAdjust="spacingAndGlyphs" stroke="#000" stroke-width="0.35">KEGG_OXIDATIVE_PHOSPHORYLATION</text>
<text x="970.00" y="867.50" font-size="28.6" fill="#000" textLength="57.50" lengthAdjust="spacingAndGlyphs" stroke="#000" stroke-width="0.3">NES</text>
<text x="1031.70" y="865.00" font-size="28.6" fill="#000" textLength="72.50" lengthAdjust="spacingAndGlyphs" stroke="#000" stroke-width="0.3">=1.36</text>
<text x="962.50" y="895.80" font-size="28.6" fill="#000" textLength="195.80" lengthAdjust="spacingAndGlyphs" stroke="#000" stroke-width="0.3">Normal p-value</text>
<text x="1160.80" y="898.30" font-size="28.6" fill="#000" textLength="85.00" lengthAdjust="spacingAndGlyphs" stroke="#000" stroke-width="0.3">=0.021</text>
<text x="968.30" y="929.20" font-size="28.6" fill="#000" textLength="161.70" lengthAdjust="spacingAndGlyphs" stroke="#000" stroke-width="0.3">FDR q-value</text>
<text x="1137.50" y="931.70" font-size="28.6" fill="#000" textLength="87.50" lengthAdjust="spacingAndGlyphs" stroke="#000" stroke-width="0.3">=0.427</text>
<text x="648.10" y="752.00" font-size="66" fill="#000" stroke="#000" stroke-width="1.3">E</text>
</g>
<g>
<rect x="1305.8" y="774.2" width="586.2" height="586.8" fill="#f2f2f2"/>
<rect x="1373.2" y="810.2" width="510.5" height="463.5" fill="#fff"/>
<path d="M1469.6 810.2V1033.3M1469.6 1126.2V1273.7M1566.0 810.2V1033.3M1566.0 1126.2V1273.7M1662.5 810.2V1033.3M1662.5 1126.2V1273.7M1758.9 810.2V1033.3M1758.9 1126.2V1273.7M1855.3 810.2V1033.3M1855.3 1126.2V1273.7M1373.2 829.1H1883.7M1373.2 855.6H1883.7M1373.2 882.1H1883.7M1373.2 908.6H1883.7M1373.2 935.1H1883.7M1373.2 961.6H1883.7M1373.2 988.1H1883.7M1373.2 1144.8H1883.7M1373.2 1177.1H1883.7M1373.2 1209.4H1883.7M1373.2 1241.7H1883.7" stroke="#cfcfcf" stroke-width="1" stroke-dasharray="2.2 2.6" fill="none"/>
<path d="M1523.5 1126.2V1273.7" stroke="#bdbdbd" stroke-width="1.2" stroke-dasharray="4 3" fill="none"/>
<path d="M1370.7 1014.6H1883.7" stroke="#8c8c8c" stroke-width="1" fill="none"/>
<path d="M1373.2 1210.2L1373.2 1174.7L1374.0 1180.7L1375.7 1186.0L1379.1 1190.0L1384.1 1193.4L1390.8 1196.0L1400.9 1198.1L1414.4 1200.2L1431.2 1202.3L1448.0 1203.9L1464.8 1205.2L1476.6 1206.2L1477.3 1207.9L1523.5 1208.6L1523.5 1210.2Z" fill="#bcbcbc"/>
<path d="M1681.7 1208.5L1681.7 1210.4L1704.9 1211.0L1737.7 1212.1L1767.6 1213.8L1801.3 1215.9L1826.4 1218.3L1841.8 1220.9L1848.6 1223.5L1853.4 1228.3L1856.1 1234.9L1857.6 1248.2L1858.6 1267.5L1859.1 1267.5L1859.1 1208.5Z" fill="#bcbcbc"/>
<rect x="1373.2" y="1107.2" width="8.8" height="19.0" fill="#ee4040"/>
<rect x="1381.7" y="1107.2" width="79.2" height="19.0" fill="#ff5a5a"/>
<rect x="1460.6" y="1107.2" width="17.8" height="19.0" fill="#ff6e80"/>
<rect x="1478.1" y="1107.2" width="18.2" height="19.0" fill="#ff8888"/>
<rect x="1496.0" y="1107.2" width="186.6" height="19.0" fill="#ffc0e4"/>
<rect x="1682.3" y="1107.2" width="94.2" height="19.0" fill="#d6d4fc"/>
<rect x="1776.2" y="1107.2" width="11.9" height="19.0" fill="#c8c0f8"/>
<rect x="1787.8" y="1107.2" width="14.4" height="19.0" fill="#8a8aff"/>
<rect x="1801.9" y="1107.2" width="46.4" height="19.0" fill="#6c5cf0"/>
<rect x="1848.0" y="1107.2" width="8.2" height="19.0" fill="#2800d0"/>
<rect x="1855.9" y="1107.2" width="3.2" height="19.0" fill="#4000a8"/>
<g stroke="#000" stroke-opacity="0.7" stroke-width="1.3" fill="none"><path d="M1387.5 1036.2V1107.2"/><path d="M1393.5 1036.2V1107.2"/><path d="M1396.5 1036.2V1107.2"/><path d="M1399.5 1036.2V1107.2"/><path d="M1401.5 1036.2V1107.2"/><path d="M1402.5 1036.2V1107.2"/><path d="M1408.5 1036.2V1107.2"/><path d="M1410.5 1036.2V1107.2"/><path d="M1410.5 1036.2V1107.2"/><path d="M1411.5 1036.2V1107.2"/><path d="M1411.5 1036.2V1107.2"/><path d="M1412.5 1036.2V1107.2"/><path d="M1412.5 1036.2V1107.2"/><path d="M1413.5 1036.2V1107.2"/><path d="M1413.5 1036.2V1107.2"/><path d="M1413.5 1036.2V1107.2"/><path d="M1414.5 1036.2V1107.2"/><path d="M1415.5 1036.2V1107.2"/><path d="M1415.5 1036.2V1107.2"/><path d="M1415.5 1036.2V1107.2"/><path d="M1416.5 1036.2V1107.2"/><path d="M1417.5 1036.2V1107.2"/><path d="M1418.5 1036.2V1107.2"/><path d="M1418.5 1036.2V1107.2"/><path d="M1418.5 1036.2V1107.2"/><path d="M1419.5 1036.2V1107.2"/><path d="M1419.5 1036.2V1107.2"/><path d="M1420.5 1036.2V1107.2"/><path d="M1420.5 1036.2V1107.2"/><path d="M1421.5 1036.2V1107.2"/><path d="M1421.5 1036.2V1107.2"/><path d="M1421.5 1036.2V1107.2"/><path d="M1422.5 1036.2V1107.2"/><path d="M1422.5 1036.2V1107.2"/><path d="M1425.5 1036.2V1107.2"/><path d="M1425.5 1036.2V1107.2"/><path d="M1426.5 1036.2V1107.2"/><path d="M1426.5 1036.2V1107.2"/><path d="M1427.5 1036.2V1107.2"/><path d="M1427.5 1036.2V1107.2"/><path d="M1428.5 1036.2V1107.2"/><path d="M1428.5 1036.2V1107.2"/><path d="M1428.5 1036.2V1107.2"/><path d="M1429.5 1036.2V1107.2"/><path d="M1430.5 1036.2V1107.2"/><path d="M1430.5 1036.2V1107.2"/><path d="M1430.5 1036.2V1107.2"/><path d="M1431.5 1036.2V1107.2"/><path d="M1434.5 1036.2V1107.2"/><path d="M1434.5 1036.2V1107.2"/><path d="M1434.5 1036.2V1107.2"/><path d="M1435.5 1036.2V1107.2"/><path d="M1435.5 1036.2V1107.2"/><path d="M1436.5 1036.2V1107.2"/><path d="M1436.5 1036.2V1107.2"/><path d="M1437.5 1036.2V1107.2"/><path d="M1437.5 1036.2V1107.2"/><path d="M1437.5 1036.2V1107.2"/><path d="M1438.5 1036.2V1107.2"/><path d="M1438.5 1036.2V1107.2"/><path d="M1438.5 1036.2V1107.2"/><path d="M1439.5 1036.2V1107.2"/><path d="M1439.5 1036.2V1107.2"/><path d="M1440.5 1036.2V1107.2"/><path d="M1440.5 1036.2V1107.2"/><path d="M1440.5 1036.2V1107.2"/><path d="M1441.5 1036.2V1107.2"/><path d="M1441.5 1036.2V1107.2"/><path d="M1441.5 1036.2V1107.2"/><path d="M1442.5 1036.2V1107.2"/><path d="M1442.5 1036.2V1107.2"/><path d="M1442.5 1036.2V1107.2"/><path d="M1443.5 1036.2V1107.2"/><path d="M1443.5 1036.2V1107.2"/><path d="M1445.5 1036.2V1107.2"/><path d="M1445.5 1036.2V1107.2"/><path d="M1447.5 1036.2V1107.2"/><path d="M1449.5 1036.2V1107.2"/><path d="M1450.5 1036.2V1107.2"/><path d="M1453.5 1036.2V1107.2"/><path d="M1454.5 1036.2V1107.2"/><path d="M1454.5 1036.2V1107.2"/><path d="M1455.5 1036.2V1107.2"/><path d="M1455.5 1036.2V1107.2"/><path d="M1455.5 1036.2V1107.2"/><path d="M1456.5 1036.2V1107.2"/><path d="M1457.5 1036.2V1107.2"/><path d="M1457.5 1036.2V1107.2"/><path d="M1457.5 1036.2V1107.2"/><path d="M1458.5 1036.2V1107.2"/><path d="M1458.5 1036.2V1107.2"/><path d="M1458.5 1036.2V1107.2"/><path d="M1459.5 1036.2V1107.2"/><path d="M1459.5 1036.2V1107.2"/><path d="M1460.5 1036.2V1107.2"/><path d="M1460.5 1036.2V1107.2"/><path d="M1460.5 1036.2V1107.2"/><path d="M1461.5 1036.2V1107.2"/><path d="M1461.5 1036.2V1107.2"/><path d="M1462.5 1036.2V1107.2"/><path d="M1462.5 1036.2V1107.2"/><path d="M1463.5 1036.2V1107.2"/><path d="M1466.5 1036.2V1107.2"/><path d="M1466.5 1036.2V1107.2"/><path d="M1467.5 1036.2V1107.2"/><path d="M1467.5 1036.2V1107.2"/><path d="M1468.5 1036.2V1107.2"/><path d="M1469.5 1036.2V1107.2"/><path d="M1469.5 1036.2V1107.2"/><path d="M1470.5 1036.2V1107.2"/><path d="M1471.5 1036.2V1107.2"/><path d="M1471.5 1036.2V1107.2"/><path d="M1472.5 1036.2V1107.2"/><path d="M1473.5 1036.2V1107.2"/><path d="M1474.5 1036.2V1107.2"/><path d="M1475.5 1036.2V1107.2"/><path d="M1479.5 1036.2V1107.2"/><path d="M1486.5 1036.2V1107.2"/><path d="M1486.5 1036.2V1107.2"/><path d="M1486.5 1036.2V1107.2"/><path d="M1500.5 1036.2V1107.2"/><path d="M1511.5 1036.2V1107.2"/><path d="M1617.5 1036.2V1107.2"/><path d="M1618.5 1036.2V1107.2"/><path d="M1653.5 1036.2V1107.2"/><path d="M1708.5 1036.2V1107.2"/><path d="M1708.5 1036.2V1107.2"/><path d="M1721.5 1036.2V1107.2"/><path d="M1721.5 1036.2V1107.2"/><path d="M1782.5 1036.2V1107.2"/><path d="M1782.5 1036.2V1107.2"/><path d="M1813.5 1036.2V1107.2"/></g>
<g stroke="#000" stroke-opacity="0.16" stroke-width="1" fill="none" shape-rendering="crispEdges"><path d="M1387.5 1107.2V1126.2"/><path d="M1393.5 1107.2V1126.2"/><path d="M1396.5 1107.2V1126.2"/><path d="M1399.5 1107.2V1126.2"/><path d="M1401.5 1107.2V1126.2"/><path d="M1402.5 1107.2V1126.2"/><path d="M1408.5 1107.2V1126.2"/><path d="M1410.5 1107.2V1126.2"/><path d="M1410.5 1107.2V1126.2"/><path d="M1411.5 1107.2V1126.2"/><path d="M1411.5 1107.2V1126.2"/><path d="M1412.5 1107.2V1126.2"/><path d="M1412.5 1107.2V1126.2"/><path d="M1413.5 1107.2V1126.2"/><path d="M1413.5 1107.2V1126.2"/><path d="M1413.5 1107.2V1126.2"/><path d="M1414.5 1107.2V1126.2"/><path d="M1415.5 1107.2V1126.2"/><path d="M1415.5 1107.2V1126.2"/><path d="M1415.5 1107.2V1126.2"/><path d="M1416.5 1107.2V1126.2"/><path d="M1417.5 1107.2V1126.2"/><path d="M1418.5 1107.2V1126.2"/><path d="M1418.5 1107.2V1126.2"/><path d="M1418.5 1107.2V1126.2"/><path d="M1419.5 1107.2V1126.2"/><path d="M1419.5 1107.2V1126.2"/><path d="M1420.5 1107.2V1126.2"/><path d="M1420.5 1107.2V1126.2"/><path d="M1421.5 1107.2V1126.2"/><path d="M1421.5 1107.2V1126.2"/><path d="M1421.5 1107.2V1126.2"/><path d="M1422.5 1107.2V1126.2"/><path d="M1422.5 1107.2V1126.2"/><path d="M1425.5 1107.2V1126.2"/><path d="M1425.5 1107.2V1126.2"/><path d="M1426.5 1107.2V1126.2"/><path d="M1426.5 1107.2V1126.2"/><path d="M1427.5 1107.2V1126.2"/><path d="M1427.5 1107.2V1126.2"/><path d="M1428.5 1107.2V1126.2"/><path d="M1428.5 1107.2V1126.2"/><path d="M1428.5 1107.2V1126.2"/><path d="M1429.5 1107.2V1126.2"/><path d="M1430.5 1107.2V1126.2"/><path d="M1430.5 1107.2V1126.2"/><path d="M1430.5 1107.2V1126.2"/><path d="M1431.5 1107.2V1126.2"/><path d="M1434.5 1107.2V1126.2"/><path d="M1434.5 1107.2V1126.2"/><path d="M1434.5 1107.2V1126.2"/><path d="M1435.5 1107.2V1126.2"/><path d="M1435.5 1107.2V1126.2"/><path d="M1436.5 1107.2V1126.2"/><path d="M1436.5 1107.2V1126.2"/><path d="M1437.5 1107.2V1126.2"/><path d="M1437.5 1107.2V1126.2"/><path d="M1437.5 1107.2V1126.2"/><path d="M1438.5 1107.2V1126.2"/><path d="M1438.5 1107.2V1126.2"/><path d="M1438.5 1107.2V1126.2"/><path d="M1439.5 1107.2V1126.2"/><path d="M1439.5 1107.2V1126.2"/><path d="M1440.5 1107.2V1126.2"/><path d="M1440.5 1107.2V1126.2"/><path d="M1440.5 1107.2V1126.2"/><path d="M1441.5 1107.2V1126.2"/><path d="M1441.5 1107.2V1126.2"/><path d="M1441.5 1107.2V1126.2"/><path d="M1442.5 1107.2V1126.2"/><path d="M1442.5 1107.2V1126.2"/><path d="M1442.5 1107.2V1126.2"/><path d="M1443.5 1107.2V1126.2"/><path d="M1443.5 1107.2V1126.2"/><path d="M1445.5 1107.2V1126.2"/><path d="M1445.5 1107.2V1126.2"/><path d="M1447.5 1107.2V1126.2"/><path d="M1449.5 1107.2V1126.2"/><path d="M1450.5 1107.2V1126.2"/><path d="M1453.5 1107.2V1126.2"/><path d="M1454.5 1107.2V1126.2"/><path d="M1454.5 1107.2V1126.2"/><path d="M1455.5 1107.2V1126.2"/><path d="M1455.5 1107.2V1126.2"/><path d="M1455.5 1107.2V1126.2"/><path d="M1456.5 1107.2V1126.2"/><path d="M1457.5 1107.2V1126.2"/><path d="M1457.5 1107.2V1126.2"/><path d="M1457.5 1107.2V1126.2"/><path d="M1458.5 1107.2V1126.2"/><path d="M1458.5 1107.2V1126.2"/><path d="M1458.5 1107.2V1126.2"/><path d="M1459.5 1107.2V1126.2"/><path d="M1459.5 1107.2V1126.2"/><path d="M1460.5 1107.2V1126.2"/><path d="M1460.5 1107.2V1126.2"/><path d="M1460.5 1107.2V1126.2"/><path d="M1461.5 1107.2V1126.2"/><path d="M1461.5 1107.2V1126.2"/><path d="M1462.5 1107.2V1126.2"/><path d="M1462.5 1107.2V1126.2"/><path d="M1463.5 1107.2V1126.2"/><path d="M1466.5 1107.2V1126.2"/><path d="M1466.5 1107.2V1126.2"/><path d="M1467.5 1107.2V1126.2"/><path d="M1467.5 1107.2V1126.2"/><path d="M1468.5 1107.2V1126.2"/><path d="M1469.5 1107.2V1126.2"/><path d="M1469.5 1107.2V1126.2"/><path d="M1470.5 1107.2V1126.2"/><path d="M1471.5 1107.2V1126.2"/><path d="M1471.5 1107.2V1126.2"/><path d="M1472.5 1107.2V1126.2"/><path d="M1473.5 1107.2V1126.2"/><path d="M1474.5 1107.2V1126.2"/><path d="M1475.5 1107.2V1126.2"/><path d="M1479.5 1107.2V1126.2"/><path d="M1486.5 1107.2V1126.2"/><path d="M1486.5 1107.2V1126.2"/><path d="M1486.5 1107.2V1126.2"/><path d="M1500.5 1107.2V1126.2"/><path d="M1511.5 1107.2V1126.2"/><path d="M1617.5 1107.2V1126.2"/><path d="M1618.5 1107.2V1126.2"/><path d="M1653.5 1107.2V1126.2"/><path d="M1708.5 1107.2V1126.2"/><path d="M1708.5 1107.2V1126.2"/><path d="M1721.5 1107.2V1126.2"/><path d="M1721.5 1107.2V1126.2"/><path d="M1782.5 1107.2V1126.2"/><path d="M1782.5 1107.2V1126.2"/><path d="M1813.5 1107.2V1126.2"/></g>
<path d="M1373.2 810.2H1883.7V1273.7M1373.2 1033.3H1883.7M1373.2 1107.2H1883.7M1373.2 1126.2H1883.7" stroke="#b4b4b4" stroke-width="1.2" fill="none"/>
<path d="M1373.2 810.2V1273.7H1883.7" stroke="#7a7a7a" stroke-width="1.2" fill="none"/>
<path d="M1370.2 829.1H1373.2M1370.2 855.6H1373.2M1370.2 882.1H1373.2M1370.2 908.6H1373.2M1370.2 935.1H1373.2M1370.2 961.6H1373.2M1370.2 988.1H1373.2M1370.2 1014.6H1373.2M1373.2 1273.7v2.5M1469.6 1273.7v2.5M1566.0 1273.7v2.5M1662.5 1273.7v2.5M1758.9 1273.7v2.5M1855.3 1273.7v2.5" stroke="#7a7a7a" stroke-width="1" fill="none"/>
<path d="M1373.3 1014.7L1374.5 1015.4L1375.6 1016.1L1376.7 1017.0L1377.8 1017.5L1378.8 1018.3L1380.0 1018.7L1381.1 1019.6L1382.3 1020.3L1383.4 1021.1L1384.5 1021.6L1385.6 1022.4L1386.7 1023.0L1386.7 1020.9L1387.1 1020.5L1386.9 1018.8L1387.6 1016.4L1387.1 1015.5L1387.5 1014.0L1388.6 1015.6L1390.4 1015.7L1391.5 1016.9L1392.2 1018.4L1393.7 1018.5L1393.6 1016.4L1394.0 1015.0L1394.2 1014.2L1394.7 1012.8L1394.8 1012.0L1394.7 1010.2L1396.7 1011.8L1396.9 1010.1L1396.9 1009.1L1397.1 1008.1L1397.3 1006.2L1397.5 1005.2L1398.8 1006.8L1400.0 1006.8L1399.9 1005.2L1399.9 1003.5L1400.1 1002.7L1400.9 1001.8L1400.8 1000.2L1401.6 999.4L1401.7 997.6L1401.7 995.9L1402.5 994.7L1403.5 995.8L1404.5 996.5L1405.9 997.3L1407.1 997.5L1408.3 999.0L1408.9 998.2L1409.2 995.9L1409.6 995.8L1410.3 994.4L1410.3 992.7L1410.0 992.0L1410.6 989.7L1410.9 989.2L1411.0 986.9L1410.9 985.8L1410.7 985.1L1411.1 983.0L1411.1 982.7L1411.3 981.3L1411.3 979.3L1411.6 978.8L1411.4 976.7L1412.0 975.8L1412.6 974.3L1412.4 973.1L1412.7 971.9L1413.2 969.5L1412.9 969.6L1413.3 967.7L1413.0 966.8L1413.1 965.3L1413.8 963.3L1413.6 961.9L1413.9 961.0L1413.9 959.4L1414.0 959.1L1414.2 957.7L1413.9 955.7L1414.2 954.3L1414.7 952.8L1415.7 951.3L1416.1 951.0L1416.7 949.3L1417.4 947.1L1417.2 946.4L1418.1 944.5L1418.4 943.4L1418.5 942.9L1418.5 940.5L1419.2 939.3L1419.3 937.8L1419.4 936.7L1419.7 935.0L1419.8 933.8L1419.8 932.6L1420.1 931.0L1420.3 929.9L1420.3 928.2L1420.6 927.2L1420.6 925.8L1420.8 924.3L1421.6 923.1L1422.2 922.4L1422.5 920.2L1424.0 920.7L1425.8 920.2L1426.0 918.8L1426.1 917.7L1426.3 916.4L1426.4 914.9L1426.6 913.6L1426.8 912.6L1426.8 911.3L1427.1 909.7L1427.3 908.7L1427.3 907.1L1427.5 906.0L1427.7 904.8L1427.9 903.4L1428.1 901.7L1428.4 900.7L1428.6 899.0L1428.9 897.6L1429.1 896.3L1429.3 895.2L1429.6 893.7L1429.8 892.2L1430.0 891.0L1430.5 889.3L1431.5 888.8L1432.1 887.3L1432.5 886.0L1433.1 884.0L1433.2 882.9L1433.6 882.2L1433.9 880.2L1434.4 879.7L1435.0 877.7L1435.4 876.3L1435.5 875.6L1436.2 873.4L1436.2 872.7L1436.2 870.3L1436.7 869.3L1436.9 868.1L1437.9 866.2L1438.2 866.3L1438.7 864.1L1439.5 863.7L1439.7 861.2L1440.4 860.9L1440.8 859.3L1442.0 858.2L1442.3 856.6L1443.3 855.2L1444.4 854.3L1445.8 854.2L1447.4 853.3L1448.3 851.8L1449.8 852.2L1451.0 851.7L1452.8 851.2L1454.2 850.2L1454.8 849.5L1455.1 847.8L1456.3 845.6L1456.7 844.3L1457.3 842.5L1457.5 841.6L1457.6 839.8L1458.2 839.4L1458.3 837.7L1458.5 837.2L1459.0 834.9L1459.7 833.9L1460.6 833.2L1460.8 830.9L1460.9 829.1L1461.7 828.5L1463.0 828.1L1464.3 828.3L1465.6 826.8L1466.9 826.0L1468.3 826.0L1469.7 825.0L1470.3 823.6L1471.1 822.2L1472.3 821.3L1473.3 820.2L1475.0 820.6L1475.7 820.1L1477.0 820.9L1478.9 822.1L1480.0 821.8L1481.0 822.8L1482.5 823.0L1483.8 822.7L1485.0 824.0L1485.9 823.2L1487.5 821.8L1488.8 822.4L1490.0 823.2L1491.1 823.5L1492.4 824.5L1493.5 824.8L1494.8 825.5L1496.1 826.4L1497.2 826.9L1498.4 827.5L1499.6 828.4L1500.9 829.0L1502.1 829.7L1503.3 830.2L1504.5 830.9L1505.6 831.5L1506.8 832.3L1508.1 832.7L1509.2 833.1L1510.4 833.8L1511.7 834.4L1512.8 835.4L1514.0 835.9L1515.1 836.3L1516.4 837.0L1517.5 837.6L1518.7 838.4L1519.9 839.2L1521.0 839.8L1522.1 840.4L1523.3 840.8L1524.6 841.6L1525.7 841.9L1527.0 842.7L1528.2 843.3L1529.2 844.1L1530.5 844.6L1531.7 845.2L1532.8 845.7L1534.1 846.6L1535.3 847.1L1536.5 847.8L1537.6 848.3L1538.9 849.1L1540.0 849.5L1541.2 850.0L1542.4 850.9L1543.6 851.3L1544.8 851.9L1546.0 852.5L1547.1 853.2L1548.4 853.8L1549.6 854.8L1550.7 855.3L1552.0 855.9L1553.1 856.6L1554.4 856.9L1555.4 857.6L1556.6 858.3L1558.0 858.7L1559.1 859.5L1560.1 860.4L1561.4 860.7L1562.5 861.4L1563.7 861.9L1565.0 862.7L1566.1 863.4L1567.4 863.9L1568.6 864.7L1569.8 865.1L1571.0 866.0L1572.1 866.4L1573.3 866.9L1574.6 867.7L1575.6 868.5L1577.0 868.7L1578.1 869.5L1579.3 870.3L1580.4 870.8L1581.7 871.3L1582.9 872.0L1584.1 872.6L1585.3 873.1L1586.4 873.8L1587.5 874.6L1588.7 875.3L1589.9 875.9L1591.2 876.3L1592.3 877.2L1593.5 877.9L1594.7 878.3L1596.0 878.9L1597.2 879.7L1598.3 880.2L1599.4 880.9L1600.7 881.3L1601.8 882.2L1603.0 882.8L1604.0 883.6L1605.1 884.1L1606.4 884.5L1607.6 885.2L1608.7 885.7L1609.9 886.5L1611.0 887.1L1612.2 887.7L1613.3 888.2L1614.4 888.8L1615.7 889.7L1616.7 890.5L1618.0 891.1L1618.9 891.6L1620.2 892.2L1621.2 893.0L1622.5 893.5L1623.7 894.0L1624.7 894.9L1625.9 895.1L1627.0 896.2L1628.3 896.5L1629.3 897.4L1630.6 897.9L1631.7 898.5L1632.8 899.1L1634.1 899.6L1635.1 900.3L1636.4 901.0L1637.5 901.9L1638.6 902.2L1639.7 903.1L1640.8 903.6L1642.0 904.6L1643.0 905.2L1644.2 905.6L1645.3 906.4L1646.6 907.1L1647.8 907.7L1648.8 908.6L1649.9 908.8L1651.1 909.6L1652.2 910.3L1653.3 911.2L1654.5 911.8L1655.7 912.4L1656.9 912.9L1658.0 913.5L1659.1 914.3L1660.3 914.8L1661.4 915.8L1662.6 916.5L1663.6 916.8L1664.7 917.7L1666.0 918.3L1667.2 918.9L1668.3 919.7L1669.4 920.3L1670.5 920.9L1671.7 921.6L1672.7 922.2L1673.9 922.8L1675.1 923.4L1676.2 924.1L1677.3 925.0L1678.4 925.3L1679.7 926.1L1680.8 926.8L1681.9 927.5L1683.1 928.0L1684.1 928.9L1685.5 929.3L1686.5 930.0L1687.6 930.9L1688.9 931.3L1689.9 932.1L1691.1 932.7L1692.2 933.2L1693.4 934.2L1694.6 934.5L1695.7 935.5L1696.8 935.9L1697.8 936.4L1699.1 937.1L1700.3 938.0L1701.3 938.7L1702.6 939.3L1703.5 939.9L1704.8 940.4L1706.0 941.3L1707.0 941.7L1708.2 942.5L1709.0 940.8L1710.0 941.7L1711.2 942.2L1712.8 942.5L1713.9 943.5L1715.2 945.3L1715.9 945.5L1716.9 945.9L1718.5 947.0L1719.4 946.8L1720.7 948.3L1722.0 946.7L1723.1 947.4L1724.2 947.9L1725.5 948.8L1726.6 949.2L1727.7 949.9L1728.9 950.5L1730.0 951.3L1731.2 951.8L1732.2 952.4L1733.4 953.2L1734.6 954.0L1735.7 954.6L1736.9 955.3L1738.1 955.8L1739.3 956.4L1740.4 957.2L1741.5 957.8L1742.5 958.3L1743.8 959.1L1744.9 959.8L1746.0 960.3L1747.1 961.1L1748.4 961.8L1749.4 962.5L1750.6 962.9L1751.7 963.6L1753.0 964.4L1754.0 965.0L1755.1 965.6L1756.3 966.5L1757.5 967.1L1758.7 967.8L1759.7 968.1L1760.8 968.9L1762.1 969.8L1763.2 970.3L1764.3 971.2L1765.5 971.5L1766.5 972.5L1767.7 973.1L1768.8 973.7L1770.0 974.4L1771.2 974.7L1772.3 975.7L1773.6 976.3L1774.7 976.8L1775.7 977.3L1777.0 978.0L1778.1 978.8L1779.1 979.5L1780.5 980.0L1781.5 980.8L1781.6 979.7L1782.4 978.3L1782.7 977.0L1783.8 977.8L1784.9 978.2L1786.0 979.0L1787.2 979.7L1788.4 980.5L1789.5 980.8L1790.7 981.5L1791.7 982.2L1792.9 983.1L1793.9 983.6L1795.2 984.4L1796.2 985.1L1797.4 985.6L1798.4 986.4L1799.6 986.8L1800.7 987.6L1801.8 988.3L1803.0 989.0L1804.1 989.8L1805.2 990.3L1806.5 991.2L1807.6 991.8L1808.7 992.5L1809.8 992.8L1810.9 993.5L1812.2 994.3L1813.2 995.0L1813.5 993.4L1813.6 992.0L1814.3 990.0L1815.5 990.8L1816.7 991.2L1817.7 992.0L1818.9 992.5L1820.0 993.0L1821.2 993.8L1822.4 994.4L1823.4 995.1L1824.7 995.9L1825.7 996.4L1826.9 997.1L1828.1 997.6L1829.2 998.1L1830.4 999.0L1831.4 999.3L1832.6 1000.3L1833.7 1000.9L1834.9 1001.4L1836.1 1002.0L1837.2 1002.5L1838.5 1003.1L1839.4 1004.0L1840.7 1004.7L1841.9 1005.4L1842.9 1005.6L1844.0 1006.6L1845.2 1007.1L1846.5 1007.6L1847.5 1008.5L1848.7 1009.0L1849.8 1009.5L1851.1 1010.4L1852.2 1010.8L1853.3 1011.5L1854.5 1012.1L1855.6 1012.9L1856.7 1013.5L1857.9 1014.1L1859.0 1014.7" stroke="#00ff00" stroke-width="3.7" fill="none" stroke-linejoin="round" stroke-linecap="round"/>
<text x="1343.70" y="833.90" font-size="13.5" fill="#3a3a3a" font-family='"DejaVu Sans", "Liberation Sans", sans-serif' textLength="21.00" lengthAdjust="spacingAndGlyphs" stroke="#3a3a3a" stroke-width="0.25">0.7</text>
<text x="1343.70" y="860.40" font-size="13.5" fill="#3a3a3a" font-family='"DejaVu Sans", "Liberation Sans", sans-serif' textLength="21.00" lengthAdjust="spacingAndGlyphs" stroke="#3a3a3a" stroke-width="0.25">0.6</text>
<text x="1343.70" y="886.90" font-size="13.5" fill="#3a3a3a" font-family='"DejaVu Sans", "Liberation Sans", sans-serif' textLength="21.00" lengthAdjust="spacingAndGlyphs" stroke="#3a3a3a" stroke-width="0.25">0.5</text>
<text x="1343.70" y="913.40" font-size="13.5" fill="#3a3a3a" font-family='"DejaVu Sans", "Liberation Sans", sans-serif' textLength="21.00" lengthAdjust="spacingAndGlyphs" stroke="#3a3a3a" stroke-width="0.25">0.4</text>
<text x="1343.70" y="939.90" font-size="13.5" fill="#3a3a3a" font-family='"DejaVu Sans", "Liberation Sans", sans-serif' textLength="21.00" lengthAdjust="spacingAndGlyphs" stroke="#3a3a3a" stroke-width="0.25">0.3</text>
<text x="1343.70" y="966.40" font-size="13.5" fill="#3a3a3a" font-family='"DejaVu Sans", "Liberation Sans", sans-serif' textLength="21.00" lengthAdjust="spacingAndGlyphs" stroke="#3a3a3a" stroke-width="0.25">0.2</text>
<text x="1343.70" y="992.90" font-size="13.5" fill="#3a3a3a" font-family='"DejaVu Sans", "Liberation Sans", sans-serif' textLength="21.00" lengthAdjust="spacingAndGlyphs" stroke="#3a3a3a" stroke-width="0.25">0.1</text>
<text x="1343.70" y="1019.40" font-size="13.5" fill="#3a3a3a" font-family='"DejaVu Sans", "Liberation Sans", sans-serif' textLength="21.00" lengthAdjust="spacingAndGlyphs" stroke="#3a3a3a" stroke-width="0.25">0.0</text>
<text x="1364.40" y="1149.00" font-size="11.5" fill="#000" text-anchor="end">4</text>
<text x="1364.40" y="1181.30" font-size="11.5" fill="#000" text-anchor="end">2</text>
<text x="1364.40" y="1213.60" font-size="11.5" fill="#000" text-anchor="end">0</text>
<text x="1364.40" y="1245.90" font-size="11.5" fill="#000" text-anchor="end">-2</text>
<text x="1364.40" y="1278.20" font-size="11.5" fill="#000" text-anchor="end">-4</text>
<text x="1369.80" y="1292.00" font-size="11" fill="#000" textLength="6.80" lengthAdjust="spacingAndGlyphs">0</text>
<text x="1454.42" y="1292.00" font-size="11" fill="#000" textLength="30.40" lengthAdjust="spacingAndGlyphs">5,000</text>
<text x="1547.64" y="1292.00" font-size="11" fill="#000" textLength="36.80" lengthAdjust="spacingAndGlyphs">10,000</text>
<text x="1644.06" y="1292.00" font-size="11" fill="#000" textLength="36.80" lengthAdjust="spacingAndGlyphs">15,000</text>
<text x="1740.48" y="1292.00" font-size="11" fill="#000" textLength="36.80" lengthAdjust="spacingAndGlyphs">20,000</text>
<text x="1836.90" y="1292.00" font-size="11" fill="#000" textLength="36.80" lengthAdjust="spacingAndGlyphs">25,000</text>
<text x="1549.45" y="1314.50" font-size="14" fill="#000" textLength="158.00" lengthAdjust="spacingAndGlyphs">Rank in Ordered Dataset</text>
<text x="1335.20" y="1012.25" font-size="17" fill="#2e2e2e" font-family='"DejaVu Sans", "Liberation Sans", sans-serif' textLength="181.00" lengthAdjust="spacingAndGlyphs" transform="rotate(-90 1335.20 1012.25)" stroke="#2e2e2e" stroke-width="0.45">Enrichment score (ES)</text>
<text x="1345.00" y="1306.45" font-size="14.5" fill="#000" textLength="213.00" lengthAdjust="spacingAndGlyphs" transform="rotate(-90 1345.00 1306.45)">Ranked list metric (Signal2Noise)</text>
<text x="1376.00" y="1137.50" font-size="10.5" fill="#ff3a3a" font-family='"DejaVu Sans", "Liberation Sans", sans-serif' textLength="131.00" lengthAdjust="spacingAndGlyphs">'H' (positively correlated)</text>
<text x="1629.16" y="1267.50" font-size="10.5" fill="#4848ff" font-family='"DejaVu Sans", "Liberation Sans", sans-serif' textLength="135.50" lengthAdjust="spacingAndGlyphs">'L' (negatively correlated)</text>
<text x="1477.34" y="1202.70" font-size="9.8" fill="#333" font-family='"DejaVu Sans", "Liberation Sans", sans-serif' textLength="92.50" lengthAdjust="spacingAndGlyphs">Zero cross at 7796</text>
<rect x="1400.1" y="1329.2" width="397.5" height="29" fill="#fff" stroke="#000" stroke-width="1.6"/>
<path d="M1403.5 1343.7h18.3" stroke="#00ff00" stroke-width="2"/>
<path d="M1548.5 1343.7h17" stroke="#666" stroke-width="1.8"/>
<path d="M1629.3 1343.7h17.5" stroke="#d9d9d9" stroke-width="1.8"/>
<path d="M1600.1 1336.3h17" stroke="#e0e0e0" stroke-width="1.2"/>
<text x="1426.50" y="1348.30" font-size="14.5" fill="#000" textLength="115.50" lengthAdjust="spacingAndGlyphs">Enrichment profile</text>
<text x="1571.00" y="1348.30" font-size="14.5" fill="#000" textLength="23.60" lengthAdjust="spacingAndGlyphs">Hits</text>
<text x="1651.80" y="1348.30" font-size="14.5" fill="#000" textLength="141.30" lengthAdjust="spacingAndGlyphs">Ranking metric scores</text>
<text x="1418.80" y="795.80" font-size="20" fill="#000" font-weight="bold" textLength="361.00" lengthAdjust="spacingAndGlyphs" stroke="#000" stroke-width="0.35">Enrichment plot: KEGG_RIBOSOME</text>
<text x="1617.30" y="838.00" font-size="28.6" fill="#000" textLength="57.50" lengthAdjust="spacingAndGlyphs" stroke="#000" stroke-width="0.3">NES</text>
<text x="1684.00" y="838.00" font-size="28.6" fill="#000" textLength="88.30" lengthAdjust="spacingAndGlyphs" stroke="#000" stroke-width="0.3">=2.078</text>
<text x="1612.30" y="871.30" font-size="28.6" fill="#000" textLength="195.90" lengthAdjust="spacingAndGlyphs" stroke="#000" stroke-width="0.3">Normal p-value</text>
<text x="1809.80" y="874.20" font-size="28.6" fill="#000" textLength="87.70" lengthAdjust="spacingAndGlyphs" stroke="#000" stroke-width="0.3">&lt;0.001</text>
<text x="1612.30" y="908.30" font-size="28.6" fill="#000" textLength="162.50" lengthAdjust="spacingAndGlyphs" stroke="#000" stroke-width="0.3">FDR q-value</text>
<text x="1776.50" y="914.20" font-size="28.6" fill="#000" textLength="85.00" lengthAdjust="spacingAndGlyphs" stroke="#000" stroke-width="0.3">&lt;0.001</text>
<text x="1303.50" y="753.30" font-size="66" fill="#000" stroke="#000" stroke-width="1.3">F</text>
</g>
</svg></body></html>
